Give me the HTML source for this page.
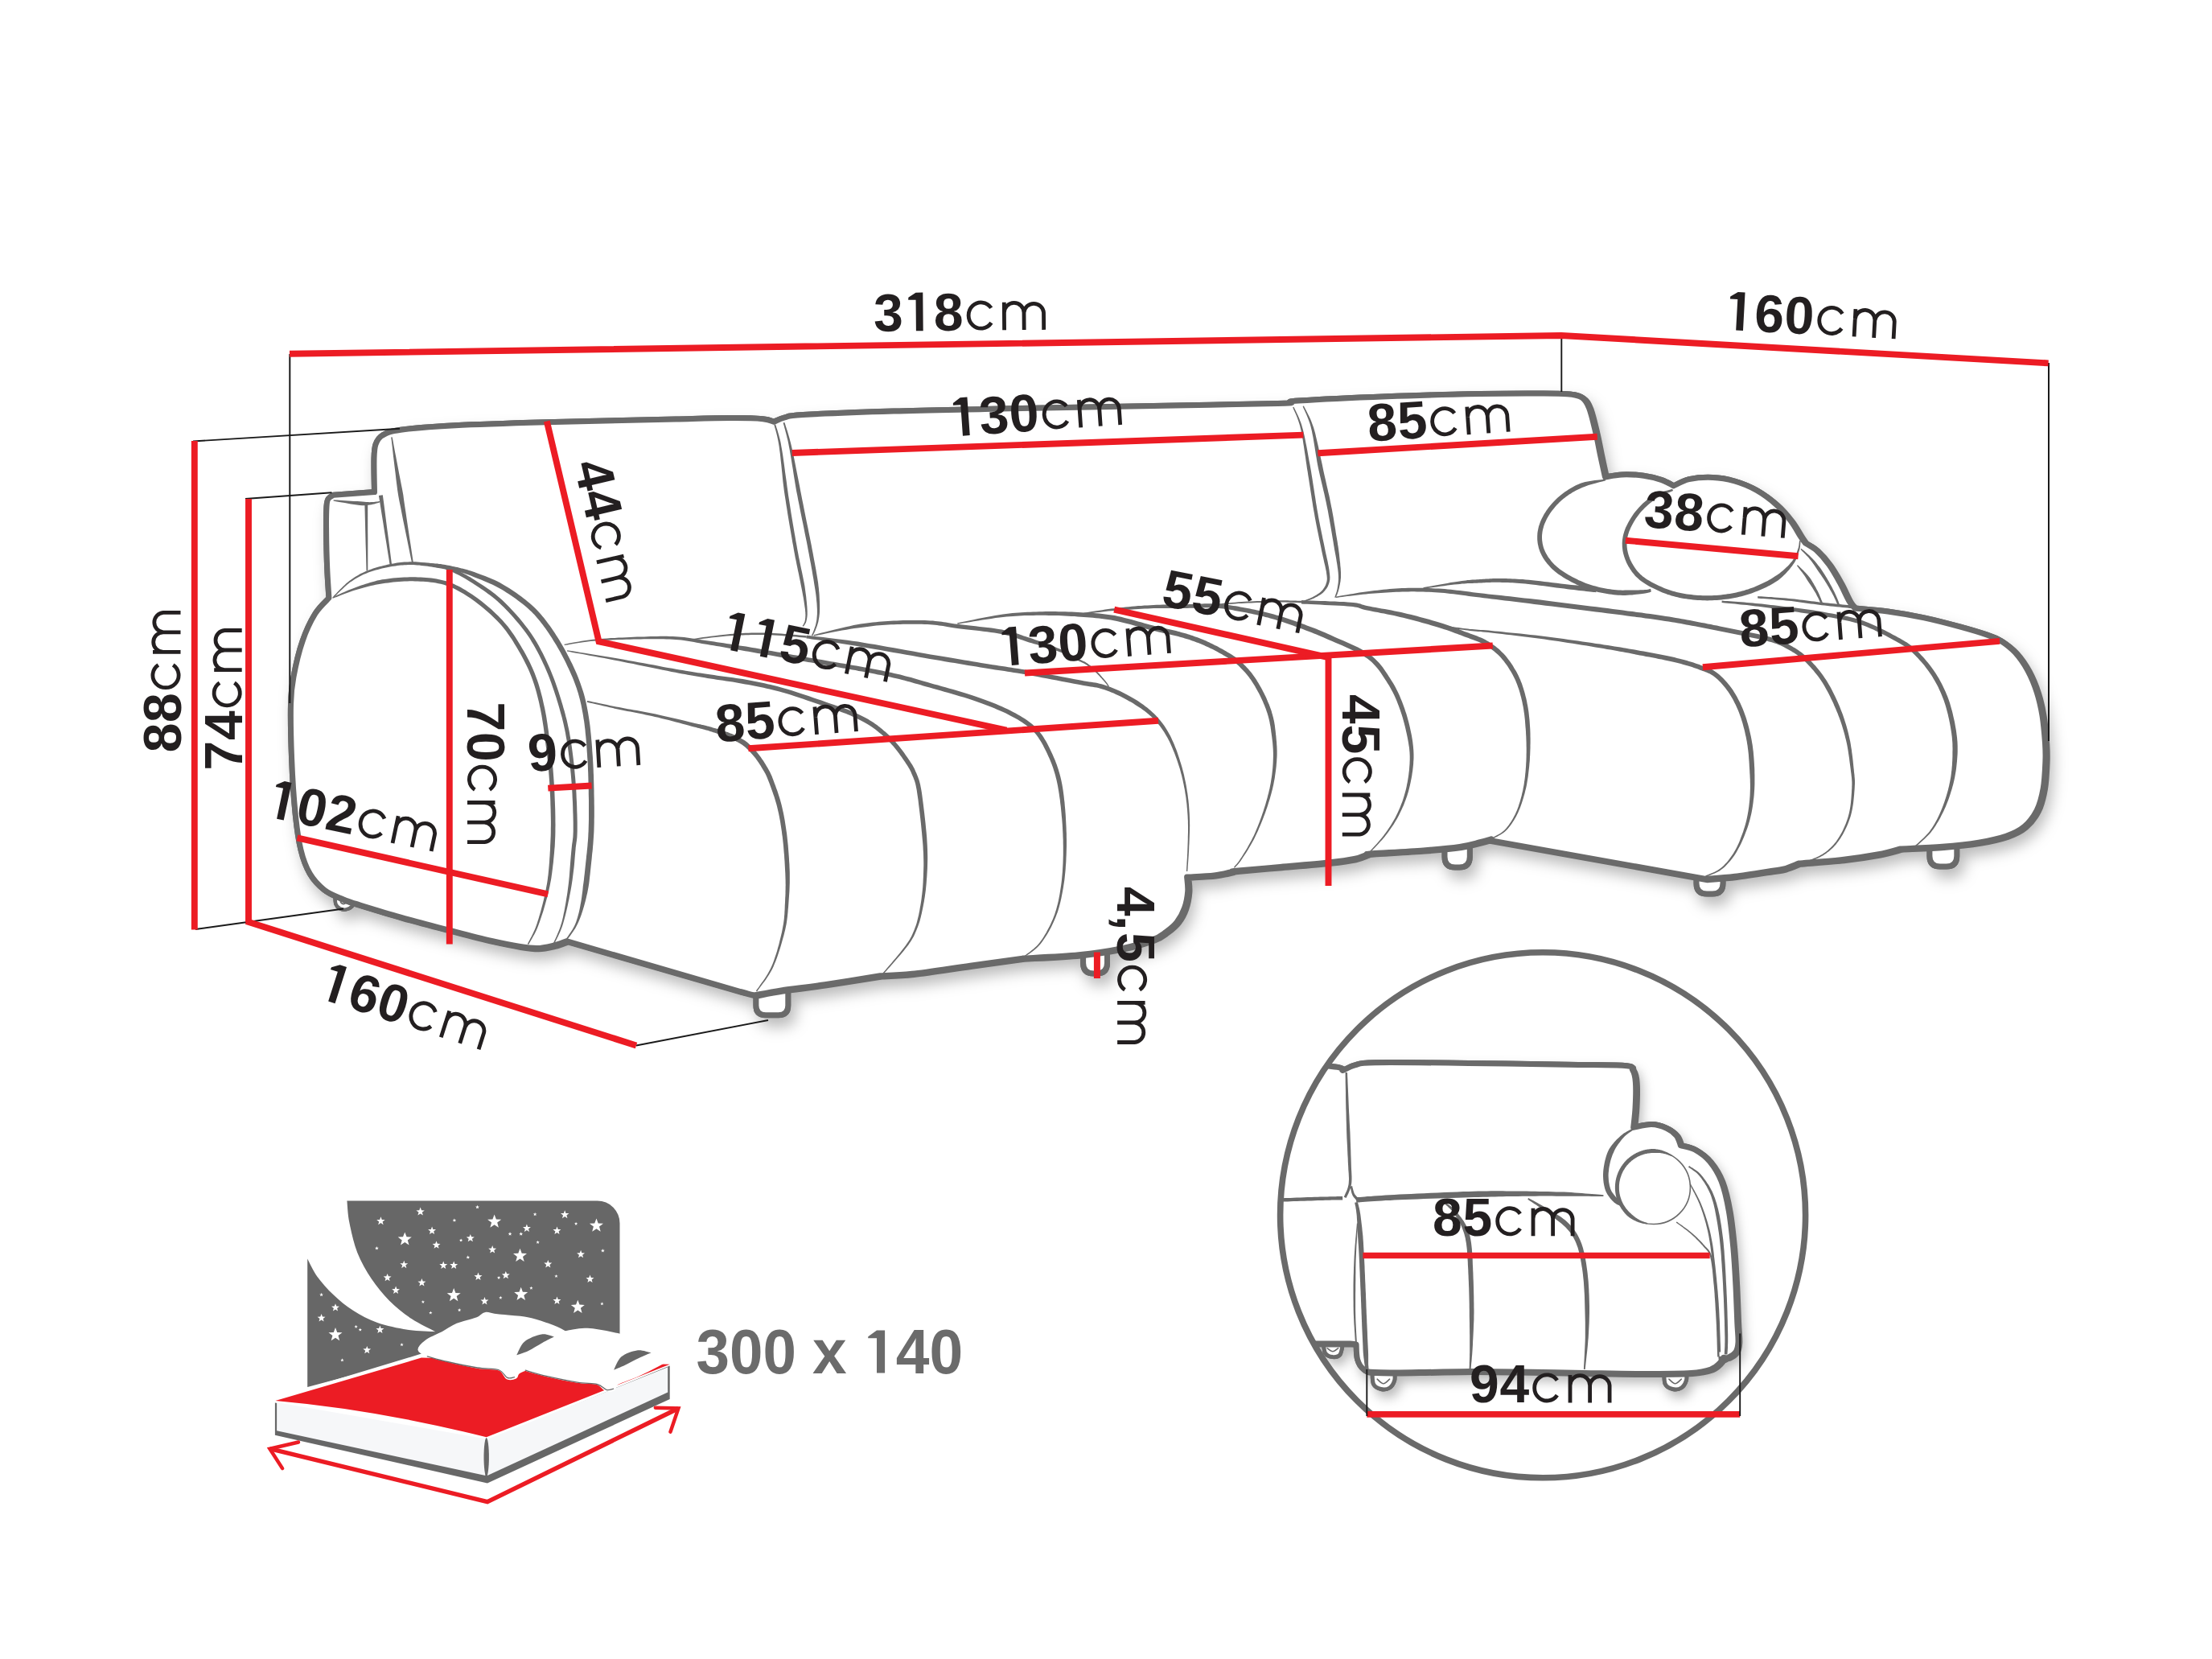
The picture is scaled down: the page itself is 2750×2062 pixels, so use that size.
<!DOCTYPE html>
<html><head><meta charset="utf-8"><title>Sofa dimensions</title>
<style>
html,body{margin:0;padding:0;background:#fff;}
body{width:2750px;height:2062px;overflow:hidden;font-family:"Liberation Sans",sans-serif;}
svg{display:block;font-family:"Liberation Sans",sans-serif;}
</style></head><body>
<svg xmlns="http://www.w3.org/2000/svg" width="2750" height="2062" viewBox="0 0 2750 2062">
<defs>
<filter id="sh" x="-5%" y="-8%" width="110%" height="118%"><feDropShadow dx="6" dy="11" stdDeviation="9" flood-color="#000" flood-opacity="0.27"/></filter>
<filter id="sh2" x="-10%" y="-10%" width="125%" height="125%"><feDropShadow dx="5" dy="8" stdDeviation="7" flood-color="#000" flood-opacity="0.27"/></filter>
<clipPath id="cc"><circle cx="1918.1" cy="1510.3" r="324"/></clipPath>
</defs>
<g filter="url(#sh)">
<path d="M408.9 743.3C408.6 737.1 407.2 719.8 406.7 706C406.1 692.3 405.7 673.6 405.6 660.8C405.4 648 405.6 636 406 629.2C406.5 622.3 406.8 622 408.3 619.7C409.7 617.4 413.5 615.9 414.6 615.2L414.6 615.2L465.5 611.6L465.5 611.6C465.4 604.7 464.7 580.3 465 570.4C465.3 560.5 465.3 557.2 467 552.3C468.8 547.4 470.4 544 475.6 541C480.8 538 483.2 536.3 498.2 534.2C513.3 532.2 535.9 530.4 566 528.8C596.2 527.2 633.4 526.1 679.1 524.8C724.7 523.4 801.9 521.8 840 520.9C878.1 520 889.7 519.6 907.8 519.6C925.9 519.5 939.5 519.9 948.5 520.7C957.5 521.5 959.8 523.7 962.1 524.3L962.1 524.3C964.3 523.4 969.6 520.3 975.6 518.9C981.7 517.4 975.6 516.8 998.2 515.5C1020.8 514.2 1073.6 512.1 1111.2 511C1148.9 509.8 1186.1 509.3 1224.3 508.5C1262.4 507.7 1298.1 507 1340 506.2C1381.9 505.4 1434.2 504.5 1475.6 503.7C1517.1 502.9 1567 502 1588.6 501.5C1610.3 501 1602.8 500.9 1605.6 500.8L1605.6 500.8C1607.1 500.3 1594.9 499.4 1614.6 498.1C1634.4 496.7 1686.7 494.1 1724.3 492.7C1761.8 491.2 1809.4 490.1 1840 489.5C1870.6 488.9 1889.7 489 1907.8 489C1925.9 489.1 1938.7 488.9 1948.5 489.7C1958.3 490.5 1962.1 491.1 1966.6 494C1971.1 496.9 1972.8 500 1975.6 507.1C1978.4 514.2 1981.2 526.7 1983.5 536.5C1985.9 546.3 1987.6 556.5 1989.6 565.9C1991.6 575.3 1994.5 588.5 1995.5 593L1995.5 593C1999 592.5 2008.3 590.2 2016.3 589.9C2024.3 589.6 2035.1 590.1 2043.4 591.2C2051.7 592.3 2059.8 594.5 2066 596.6C2072.3 598.7 2078.3 602.7 2080.7 603.9L2080.7 603.9C2083.9 602.5 2091.8 597.5 2099.9 595.7C2108 594 2119.9 593.1 2129.3 593.5C2138.7 593.8 2147.4 595.4 2156.5 598C2165.5 600.6 2174.9 604.4 2183.6 609.3C2192.2 614.2 2201.3 621 2208.4 627.4C2215.6 633.8 2221.4 641 2226.5 647.7C2231.6 654.4 2236 663.1 2239 667.6C2241.9 672.1 2243.3 673.6 2244.2 674.8L2244.2 674.8C2246.5 676.4 2253.2 679.4 2258.2 683.9C2263.1 688.4 2269.1 695.2 2274 702C2278.9 708.8 2283.4 717 2287.6 724.6C2291.7 732.1 2295.8 741.9 2298.9 747.2C2301.9 752.4 2304.8 754.5 2306 756L2306 756C2312.8 756.7 2332.6 758 2346.9 760C2361.3 762 2377.1 764.7 2392.1 767.9C2407.2 771.1 2424.2 775.6 2437.3 779.2C2450.5 782.8 2463 786.6 2471.2 789.4C2479.5 792.2 2481.4 792.6 2487.1 796.2C2492.7 799.8 2499.5 804.7 2505.2 810.9C2510.8 817.1 2516.5 825.2 2521 833.5C2525.5 841.8 2529.3 851.2 2532.3 860.6C2535.3 870 2537.4 879.5 2539.1 890C2540.8 900.5 2541.8 914.1 2542.5 923.4C2543.1 932.8 2543.3 936.6 2542.9 946C2542.5 955.5 2542 969.8 2540.2 979.9C2538.4 990.1 2536.2 999.2 2532.3 1007.1C2528.3 1015 2522.9 1022.1 2516.5 1027.4C2510.1 1032.8 2503.3 1035.9 2493.9 1039.2C2484.4 1042.4 2473.1 1044.9 2459.9 1047.1C2446.8 1049.3 2430.9 1051 2414.7 1052.3C2398.5 1053.6 2371.4 1054.5 2362.7 1055L2362.7 1055C2358.2 1056.1 2347.7 1059.5 2335.6 1061.8C2323.6 1064 2307 1066.7 2290.4 1068.6C2273.8 1070.4 2245.2 1072.3 2236.2 1073.1L2236.2 1073.1C2233.2 1074.2 2223.8 1078.3 2218.1 1079.9C2212.4 1081.4 2212.3 1081 2202.1 1082.5C2191.9 1084.1 2170.4 1087.7 2156.9 1089.3C2143.3 1091 2126.7 1092 2120.7 1092.5L2120.7 1092.5L1853.1 1044.6L1853.9 1042.8C1851.6 1043.5 1846.5 1045.1 1840 1046.7C1833.5 1048.3 1826.4 1050.7 1814.7 1052.4C1802.9 1054.1 1787.6 1055.5 1769.5 1056.9C1751.4 1058.3 1717.9 1059.9 1706.2 1060.7C1694.5 1061.6 1700.5 1061.9 1699.4 1062.1L1699.4 1062.1C1696.8 1063 1691.5 1065.9 1683.6 1067.5C1675.7 1069.2 1667.8 1070.3 1651.9 1072C1636.1 1073.7 1607.9 1076 1588.6 1077.7C1569.4 1079.4 1546.1 1081.3 1536.7 1082.2C1527.2 1083.2 1532.9 1083.2 1532.1 1083.3L1532.1 1083.3C1528.4 1084.1 1518.9 1086.7 1509.5 1087.9C1500.1 1089 1481.3 1089.7 1475.6 1090.1L1475.6 1090.1C1475.8 1093.1 1477.2 1101.5 1476.7 1107.9C1476.2 1114.3 1474.9 1122.1 1472.6 1128.5C1470.4 1134.9 1467 1141.1 1463.1 1146.1C1459.3 1151.1 1454.5 1154.7 1449.6 1158.3C1444.6 1161.9 1442.3 1164.4 1433.3 1167.8C1424.3 1171.2 1410.7 1175.5 1395.3 1178.7C1380 1181.8 1361.7 1184.7 1341.1 1186.8C1320.4 1188.9 1283 1190.4 1271.4 1191.1L1271.4 1191.1C1260.6 1192.6 1229.2 1196.9 1206.3 1200.1C1183.4 1203.3 1152.7 1208.2 1134 1210.3C1115.3 1212.4 1100.8 1212.4 1094.2 1212.8L1094.2 1212.8C1082.8 1214.6 1046 1220.6 1025.5 1223.7C1005 1226.7 985.8 1228.7 971.2 1230.9C956.7 1233.1 943.5 1236 938 1237L938 1237C936.7 1236.7 932.9 1235.8 930 1235C927.1 1234.2 922.1 1232.9 920.5 1232.5L920.5 1232.5L704.1 1169.7L704.1 1169.7C701.4 1170.6 694.2 1173.7 688.1 1175.2C682 1176.6 674.9 1178.4 667.8 1178.6C660.6 1178.7 654.6 1177.8 645.2 1176.3C635.7 1174.8 624.4 1172.5 611.2 1169.5C598.1 1166.5 584.9 1163.1 566 1158.2C547.2 1153.3 518.9 1146 498.2 1140.1C477.5 1134.3 453.8 1126.9 441.7 1123.2C429.7 1119.4 432.3 1120.3 425.9 1117.5C419.5 1114.7 410.1 1111.5 403.3 1106.2C396.5 1100.9 390.1 1094.2 385.2 1085.9C380.3 1077.5 376.9 1068.5 373.9 1056C370.9 1043.5 369 1029.7 367.1 1010.8C365.2 992 363.5 965.6 362.6 943C361.7 920.4 361.1 892.1 361.5 875.2C361.9 858.3 362.4 854.8 364.9 841.7C367.3 828.5 371.6 809.6 376.2 796.5C380.7 783.3 386.5 771.4 392 762.5C397.5 753.7 406.1 746.5 408.9 743.3Z" fill="#fff" stroke="#6a6a6a" stroke-width="7" stroke-linejoin="round"/>
<path d="M939.9 1228V1249.8Q939.9 1261.8 951.9 1261.8H967.8Q979.8 1261.8 979.8 1249.8V1228" fill="#fff" stroke="#6a6a6a" stroke-width="7" stroke-linecap="round" stroke-linejoin="round" />
<path d="M1346.6 1176V1197.1Q1346.6 1210.1 1359.6 1210.1H1363.5Q1376.5 1210.1 1376.5 1197.1V1176" fill="#fff" stroke="#6a6a6a" stroke-width="7" stroke-linecap="round" stroke-linejoin="round" />
<path d="M1796 1048V1065Q1796 1078 1809 1078H1814.3Q1827.3 1078 1827.3 1065V1048" fill="#fff" stroke="#6a6a6a" stroke-width="7" stroke-linecap="round" stroke-linejoin="round" />
<path d="M2109 1084V1098Q2109 1111 2122 1111H2129Q2142 1111 2142 1098V1084" fill="#fff" stroke="#6a6a6a" stroke-width="7" stroke-linecap="round" stroke-linejoin="round" />
<path d="M2398.9 1050V1064.1Q2398.9 1077.1 2411.9 1077.1H2419.8Q2432.8 1077.1 2432.8 1064.1V1050" fill="#fff" stroke="#6a6a6a" stroke-width="7" stroke-linecap="round" stroke-linejoin="round" />
<path d="M416.4 1113.7C416.6 1115.4 416.5 1121.3 417.5 1123.9C418.5 1126.5 420.4 1128.2 422.5 1129.3C424.7 1130.4 427.9 1130.9 430.4 1130.4C432.9 1130 436.1 1128.2 437.6 1126.6C439.2 1124.9 439.2 1121.5 439.5 1120.5" fill="#fff" stroke="#6a6a6a" stroke-width="4.5" stroke-linecap="round" stroke-linejoin="round" />
</g>
<path d="M939.9 1228V1249.8Q939.9 1261.8 951.9 1261.8H967.8Q979.8 1261.8 979.8 1249.8V1228" fill="#fff" stroke="#6a6a6a" stroke-width="7" stroke-linecap="round" stroke-linejoin="round" />
<path d="M1346.6 1176V1197.1Q1346.6 1210.1 1359.6 1210.1H1363.5Q1376.5 1210.1 1376.5 1197.1V1176" fill="#fff" stroke="#6a6a6a" stroke-width="7" stroke-linecap="round" stroke-linejoin="round" />
<path d="M1796 1048V1065Q1796 1078 1809 1078H1814.3Q1827.3 1078 1827.3 1065V1048" fill="#fff" stroke="#6a6a6a" stroke-width="7" stroke-linecap="round" stroke-linejoin="round" />
<path d="M2109 1084V1098Q2109 1111 2122 1111H2129Q2142 1111 2142 1098V1084" fill="#fff" stroke="#6a6a6a" stroke-width="7" stroke-linecap="round" stroke-linejoin="round" />
<path d="M2398.9 1050V1064.1Q2398.9 1077.1 2411.9 1077.1H2419.8Q2432.8 1077.1 2432.8 1064.1V1050" fill="#fff" stroke="#6a6a6a" stroke-width="7" stroke-linecap="round" stroke-linejoin="round" />
<path d="M416.4 1113.7C416.6 1115.4 416.5 1121.3 417.5 1123.9C418.5 1126.5 420.4 1128.2 422.5 1129.3C424.7 1130.4 427.9 1130.9 430.4 1130.4C432.9 1130 436.1 1128.2 437.6 1126.6C439.2 1124.9 439.2 1121.5 439.5 1120.5" fill="#fff" stroke="#6a6a6a" stroke-width="4.5" stroke-linecap="round" stroke-linejoin="round" />
<path d="M408.9 743.3C408.6 737.1 407.2 719.8 406.7 706C406.1 692.3 405.7 673.6 405.6 660.8C405.4 648 405.6 636 406 629.2C406.5 622.3 406.8 622 408.3 619.7C409.7 617.4 413.5 615.9 414.6 615.2L414.6 615.2L465.5 611.6L465.5 611.6C465.4 604.7 464.7 580.3 465 570.4C465.3 560.5 465.3 557.2 467 552.3C468.8 547.4 470.4 544 475.6 541C480.8 538 483.2 536.3 498.2 534.2C513.3 532.2 535.9 530.4 566 528.8C596.2 527.2 633.4 526.1 679.1 524.8C724.7 523.4 801.9 521.8 840 520.9C878.1 520 889.7 519.6 907.8 519.6C925.9 519.5 939.5 519.9 948.5 520.7C957.5 521.5 959.8 523.7 962.1 524.3L962.1 524.3C964.3 523.4 969.6 520.3 975.6 518.9C981.7 517.4 975.6 516.8 998.2 515.5C1020.8 514.2 1073.6 512.1 1111.2 511C1148.9 509.8 1186.1 509.3 1224.3 508.5C1262.4 507.7 1298.1 507 1340 506.2C1381.9 505.4 1434.2 504.5 1475.6 503.7C1517.1 502.9 1567 502 1588.6 501.5C1610.3 501 1602.8 500.9 1605.6 500.8L1605.6 500.8C1607.1 500.3 1594.9 499.4 1614.6 498.1C1634.4 496.7 1686.7 494.1 1724.3 492.7C1761.8 491.2 1809.4 490.1 1840 489.5C1870.6 488.9 1889.7 489 1907.8 489C1925.9 489.1 1938.7 488.9 1948.5 489.7C1958.3 490.5 1962.1 491.1 1966.6 494C1971.1 496.9 1972.8 500 1975.6 507.1C1978.4 514.2 1981.2 526.7 1983.5 536.5C1985.9 546.3 1987.6 556.5 1989.6 565.9C1991.6 575.3 1994.5 588.5 1995.5 593L1995.5 593C1999 592.5 2008.3 590.2 2016.3 589.9C2024.3 589.6 2035.1 590.1 2043.4 591.2C2051.7 592.3 2059.8 594.5 2066 596.6C2072.3 598.7 2078.3 602.7 2080.7 603.9L2080.7 603.9C2083.9 602.5 2091.8 597.5 2099.9 595.7C2108 594 2119.9 593.1 2129.3 593.5C2138.7 593.8 2147.4 595.4 2156.5 598C2165.5 600.6 2174.9 604.4 2183.6 609.3C2192.2 614.2 2201.3 621 2208.4 627.4C2215.6 633.8 2221.4 641 2226.5 647.7C2231.6 654.4 2236 663.1 2239 667.6C2241.9 672.1 2243.3 673.6 2244.2 674.8L2244.2 674.8C2246.5 676.4 2253.2 679.4 2258.2 683.9C2263.1 688.4 2269.1 695.2 2274 702C2278.9 708.8 2283.4 717 2287.6 724.6C2291.7 732.1 2295.8 741.9 2298.9 747.2C2301.9 752.4 2304.8 754.5 2306 756L2306 756C2312.8 756.7 2332.6 758 2346.9 760C2361.3 762 2377.1 764.7 2392.1 767.9C2407.2 771.1 2424.2 775.6 2437.3 779.2C2450.5 782.8 2463 786.6 2471.2 789.4C2479.5 792.2 2481.4 792.6 2487.1 796.2C2492.7 799.8 2499.5 804.7 2505.2 810.9C2510.8 817.1 2516.5 825.2 2521 833.5C2525.5 841.8 2529.3 851.2 2532.3 860.6C2535.3 870 2537.4 879.5 2539.1 890C2540.8 900.5 2541.8 914.1 2542.5 923.4C2543.1 932.8 2543.3 936.6 2542.9 946C2542.5 955.5 2542 969.8 2540.2 979.9C2538.4 990.1 2536.2 999.2 2532.3 1007.1C2528.3 1015 2522.9 1022.1 2516.5 1027.4C2510.1 1032.8 2503.3 1035.9 2493.9 1039.2C2484.4 1042.4 2473.1 1044.9 2459.9 1047.1C2446.8 1049.3 2430.9 1051 2414.7 1052.3C2398.5 1053.6 2371.4 1054.5 2362.7 1055L2362.7 1055C2358.2 1056.1 2347.7 1059.5 2335.6 1061.8C2323.6 1064 2307 1066.7 2290.4 1068.6C2273.8 1070.4 2245.2 1072.3 2236.2 1073.1L2236.2 1073.1C2233.2 1074.2 2223.8 1078.3 2218.1 1079.9C2212.4 1081.4 2212.3 1081 2202.1 1082.5C2191.9 1084.1 2170.4 1087.7 2156.9 1089.3C2143.3 1091 2126.7 1092 2120.7 1092.5L2120.7 1092.5L1853.1 1044.6L1853.9 1042.8C1851.6 1043.5 1846.5 1045.1 1840 1046.7C1833.5 1048.3 1826.4 1050.7 1814.7 1052.4C1802.9 1054.1 1787.6 1055.5 1769.5 1056.9C1751.4 1058.3 1717.9 1059.9 1706.2 1060.7C1694.5 1061.6 1700.5 1061.9 1699.4 1062.1L1699.4 1062.1C1696.8 1063 1691.5 1065.9 1683.6 1067.5C1675.7 1069.2 1667.8 1070.3 1651.9 1072C1636.1 1073.7 1607.9 1076 1588.6 1077.7C1569.4 1079.4 1546.1 1081.3 1536.7 1082.2C1527.2 1083.2 1532.9 1083.2 1532.1 1083.3L1532.1 1083.3C1528.4 1084.1 1518.9 1086.7 1509.5 1087.9C1500.1 1089 1481.3 1089.7 1475.6 1090.1L1475.6 1090.1C1475.8 1093.1 1477.2 1101.5 1476.7 1107.9C1476.2 1114.3 1474.9 1122.1 1472.6 1128.5C1470.4 1134.9 1467 1141.1 1463.1 1146.1C1459.3 1151.1 1454.5 1154.7 1449.6 1158.3C1444.6 1161.9 1442.3 1164.4 1433.3 1167.8C1424.3 1171.2 1410.7 1175.5 1395.3 1178.7C1380 1181.8 1361.7 1184.7 1341.1 1186.8C1320.4 1188.9 1283 1190.4 1271.4 1191.1L1271.4 1191.1C1260.6 1192.6 1229.2 1196.9 1206.3 1200.1C1183.4 1203.3 1152.7 1208.2 1134 1210.3C1115.3 1212.4 1100.8 1212.4 1094.2 1212.8L1094.2 1212.8C1082.8 1214.6 1046 1220.6 1025.5 1223.7C1005 1226.7 985.8 1228.7 971.2 1230.9C956.7 1233.1 943.5 1236 938 1237L938 1237C936.7 1236.7 932.9 1235.8 930 1235C927.1 1234.2 922.1 1232.9 920.5 1232.5L920.5 1232.5L704.1 1169.7L704.1 1169.7C701.4 1170.6 694.2 1173.7 688.1 1175.2C682 1176.6 674.9 1178.4 667.8 1178.6C660.6 1178.7 654.6 1177.8 645.2 1176.3C635.7 1174.8 624.4 1172.5 611.2 1169.5C598.1 1166.5 584.9 1163.1 566 1158.2C547.2 1153.3 518.9 1146 498.2 1140.1C477.5 1134.3 453.8 1126.9 441.7 1123.2C429.7 1119.4 432.3 1120.3 425.9 1117.5C419.5 1114.7 410.1 1111.5 403.3 1106.2C396.5 1100.9 390.1 1094.2 385.2 1085.9C380.3 1077.5 376.9 1068.5 373.9 1056C370.9 1043.5 369 1029.7 367.1 1010.8C365.2 992 363.5 965.6 362.6 943C361.7 920.4 361.1 892.1 361.5 875.2C361.9 858.3 362.4 854.8 364.9 841.7C367.3 828.5 371.6 809.6 376.2 796.5C380.7 783.3 386.5 771.4 392 762.5C397.5 753.7 406.1 746.5 408.9 743.3Z" fill="#fff" stroke="#6a6a6a" stroke-width="7" stroke-linejoin="round" transform="translate(2.2 1.2)"/>
<path d="M408.9 743.3C408.6 737.1 407.2 719.8 406.7 706C406.1 692.3 405.7 673.6 405.6 660.8C405.4 648 405.6 636 406 629.2C406.5 622.3 406.8 622 408.3 619.7C409.7 617.4 413.5 615.9 414.6 615.2L414.6 615.2L465.5 611.6L465.5 611.6C465.4 604.7 464.7 580.3 465 570.4C465.3 560.5 465.3 557.2 467 552.3C468.8 547.4 470.4 544 475.6 541C480.8 538 483.2 536.3 498.2 534.2C513.3 532.2 535.9 530.4 566 528.8C596.2 527.2 633.4 526.1 679.1 524.8C724.7 523.4 801.9 521.8 840 520.9C878.1 520 889.7 519.6 907.8 519.6C925.9 519.5 939.5 519.9 948.5 520.7C957.5 521.5 959.8 523.7 962.1 524.3L962.1 524.3C964.3 523.4 969.6 520.3 975.6 518.9C981.7 517.4 975.6 516.8 998.2 515.5C1020.8 514.2 1073.6 512.1 1111.2 511C1148.9 509.8 1186.1 509.3 1224.3 508.5C1262.4 507.7 1298.1 507 1340 506.2C1381.9 505.4 1434.2 504.5 1475.6 503.7C1517.1 502.9 1567 502 1588.6 501.5C1610.3 501 1602.8 500.9 1605.6 500.8L1605.6 500.8C1607.1 500.3 1594.9 499.4 1614.6 498.1C1634.4 496.7 1686.7 494.1 1724.3 492.7C1761.8 491.2 1809.4 490.1 1840 489.5C1870.6 488.9 1889.7 489 1907.8 489C1925.9 489.1 1938.7 488.9 1948.5 489.7C1958.3 490.5 1962.1 491.1 1966.6 494C1971.1 496.9 1972.8 500 1975.6 507.1C1978.4 514.2 1981.2 526.7 1983.5 536.5C1985.9 546.3 1987.6 556.5 1989.6 565.9C1991.6 575.3 1994.5 588.5 1995.5 593L1995.5 593C1999 592.5 2008.3 590.2 2016.3 589.9C2024.3 589.6 2035.1 590.1 2043.4 591.2C2051.7 592.3 2059.8 594.5 2066 596.6C2072.3 598.7 2078.3 602.7 2080.7 603.9L2080.7 603.9C2083.9 602.5 2091.8 597.5 2099.9 595.7C2108 594 2119.9 593.1 2129.3 593.5C2138.7 593.8 2147.4 595.4 2156.5 598C2165.5 600.6 2174.9 604.4 2183.6 609.3C2192.2 614.2 2201.3 621 2208.4 627.4C2215.6 633.8 2221.4 641 2226.5 647.7C2231.6 654.4 2236 663.1 2239 667.6C2241.9 672.1 2243.3 673.6 2244.2 674.8L2244.2 674.8C2246.5 676.4 2253.2 679.4 2258.2 683.9C2263.1 688.4 2269.1 695.2 2274 702C2278.9 708.8 2283.4 717 2287.6 724.6C2291.7 732.1 2295.8 741.9 2298.9 747.2C2301.9 752.4 2304.8 754.5 2306 756L2306 756C2312.8 756.7 2332.6 758 2346.9 760C2361.3 762 2377.1 764.7 2392.1 767.9C2407.2 771.1 2424.2 775.6 2437.3 779.2C2450.5 782.8 2463 786.6 2471.2 789.4C2479.5 792.2 2481.4 792.6 2487.1 796.2C2492.7 799.8 2499.5 804.7 2505.2 810.9C2510.8 817.1 2516.5 825.2 2521 833.5C2525.5 841.8 2529.3 851.2 2532.3 860.6C2535.3 870 2537.4 879.5 2539.1 890C2540.8 900.5 2541.8 914.1 2542.5 923.4C2543.1 932.8 2543.3 936.6 2542.9 946C2542.5 955.5 2542 969.8 2540.2 979.9C2538.4 990.1 2536.2 999.2 2532.3 1007.1C2528.3 1015 2522.9 1022.1 2516.5 1027.4C2510.1 1032.8 2503.3 1035.9 2493.9 1039.2C2484.4 1042.4 2473.1 1044.9 2459.9 1047.1C2446.8 1049.3 2430.9 1051 2414.7 1052.3C2398.5 1053.6 2371.4 1054.5 2362.7 1055L2362.7 1055C2358.2 1056.1 2347.7 1059.5 2335.6 1061.8C2323.6 1064 2307 1066.7 2290.4 1068.6C2273.8 1070.4 2245.2 1072.3 2236.2 1073.1L2236.2 1073.1C2233.2 1074.2 2223.8 1078.3 2218.1 1079.9C2212.4 1081.4 2212.3 1081 2202.1 1082.5C2191.9 1084.1 2170.4 1087.7 2156.9 1089.3C2143.3 1091 2126.7 1092 2120.7 1092.5L2120.7 1092.5L1853.1 1044.6L1853.9 1042.8C1851.6 1043.5 1846.5 1045.1 1840 1046.7C1833.5 1048.3 1826.4 1050.7 1814.7 1052.4C1802.9 1054.1 1787.6 1055.5 1769.5 1056.9C1751.4 1058.3 1717.9 1059.9 1706.2 1060.7C1694.5 1061.6 1700.5 1061.9 1699.4 1062.1L1699.4 1062.1C1696.8 1063 1691.5 1065.9 1683.6 1067.5C1675.7 1069.2 1667.8 1070.3 1651.9 1072C1636.1 1073.7 1607.9 1076 1588.6 1077.7C1569.4 1079.4 1546.1 1081.3 1536.7 1082.2C1527.2 1083.2 1532.9 1083.2 1532.1 1083.3L1532.1 1083.3C1528.4 1084.1 1518.9 1086.7 1509.5 1087.9C1500.1 1089 1481.3 1089.7 1475.6 1090.1L1475.6 1090.1C1475.8 1093.1 1477.2 1101.5 1476.7 1107.9C1476.2 1114.3 1474.9 1122.1 1472.6 1128.5C1470.4 1134.9 1467 1141.1 1463.1 1146.1C1459.3 1151.1 1454.5 1154.7 1449.6 1158.3C1444.6 1161.9 1442.3 1164.4 1433.3 1167.8C1424.3 1171.2 1410.7 1175.5 1395.3 1178.7C1380 1181.8 1361.7 1184.7 1341.1 1186.8C1320.4 1188.9 1283 1190.4 1271.4 1191.1L1271.4 1191.1C1260.6 1192.6 1229.2 1196.9 1206.3 1200.1C1183.4 1203.3 1152.7 1208.2 1134 1210.3C1115.3 1212.4 1100.8 1212.4 1094.2 1212.8L1094.2 1212.8C1082.8 1214.6 1046 1220.6 1025.5 1223.7C1005 1226.7 985.8 1228.7 971.2 1230.9C956.7 1233.1 943.5 1236 938 1237L938 1237C936.7 1236.7 932.9 1235.8 930 1235C927.1 1234.2 922.1 1232.9 920.5 1232.5L920.5 1232.5L704.1 1169.7L704.1 1169.7C701.4 1170.6 694.2 1173.7 688.1 1175.2C682 1176.6 674.9 1178.4 667.8 1178.6C660.6 1178.7 654.6 1177.8 645.2 1176.3C635.7 1174.8 624.4 1172.5 611.2 1169.5C598.1 1166.5 584.9 1163.1 566 1158.2C547.2 1153.3 518.9 1146 498.2 1140.1C477.5 1134.3 453.8 1126.9 441.7 1123.2C429.7 1119.4 432.3 1120.3 425.9 1117.5C419.5 1114.7 410.1 1111.5 403.3 1106.2C396.5 1100.9 390.1 1094.2 385.2 1085.9C380.3 1077.5 376.9 1068.5 373.9 1056C370.9 1043.5 369 1029.7 367.1 1010.8C365.2 992 363.5 965.6 362.6 943C361.7 920.4 361.1 892.1 361.5 875.2C361.9 858.3 362.4 854.8 364.9 841.7C367.3 828.5 371.6 809.6 376.2 796.5C380.7 783.3 386.5 771.4 392 762.5C397.5 753.7 406.1 746.5 408.9 743.3Z" fill="#fff" stroke="#6a6a6a" stroke-width="7" stroke-linejoin="round"/>
<circle cx="427" cy="1119.8" r="3.6" fill="none" stroke="#6a6a6a" stroke-width="2"/>
<path d="M414.5 622.6L416.4 623L418.9 623.4L421.8 623.9L425.1 624.5L428.7 625.1L432.4 625.8L436.2 626.4L440 627L443.7 627.6L447.1 628.1L450.2 628.3L453 628.2L455.4 628.1L457.6 627.8L459.8 627.5L461.7 627.2L463.6 626.8L465.2 626.4L466.8 626L468.2 625.6L469.4 625.2L470.5 624.9L471.5 624.6L472.3 624.5L472.1 623.1L471.2 623.1L470.2 623.2L469 623.4L467.8 623.6L466.3 623.7L464.8 623.9L463.2 624L461.4 624.1L459.5 624.2L457.5 624.1L455.3 624L453.1 623.8L450.5 623.5L447.5 623.3L444.1 623.1L440.4 623L436.6 622.7L432.8 622.5L429 622.2L425.4 622L422.1 621.8L419.1 621.5L416.6 621.4L414.7 621.3Z" fill="#6a6a6a"/>
<path d="M453.4 627L453.6 635.2L453.8 643.4L454 651.7L454.2 659.9L454.4 668.2L454.6 676.4L454.9 684.7L455.1 692.9L455.3 701.2L455.5 709.4L457.3 709.4L457.3 701.2L457.3 692.9L457.3 684.7L457.3 676.4L457.3 668.2L457.2 659.9L457.2 651.7L457.2 643.4L457.2 635.2L457.2 626.9Z" fill="#6a6a6a"/>
<path d="M470.9 616L472.3 624.6L473.6 633.1L475 641.7L476.4 650.3L477.7 658.8L479.1 667.4L480.5 676L481.8 684.6L483.2 693.1L484.6 701.7L487 701.3L485.9 692.7L484.8 684.1L483.7 675.5L482.6 666.9L481.4 658.3L480.3 649.7L479.2 641.1L478.1 632.5L477 623.9L475.8 615.3Z" fill="#6a6a6a"/>
<path d="M486.2 543.4L486.7 546.9L487.2 551.2L487.8 556.2L488.4 561.8L489.1 568L489.9 574.5L490.7 581.3L491.6 588.3L492.4 595.4L493.3 602.5L494.2 609.4L495.2 616.1L496.5 622.9L498 630.3L499.5 638.1L501.1 646.2L502.8 654.3L504.4 662.3L506 670.1L507.5 677.4L508.9 684.2L510.1 690.2L511.2 695.4L512 699.4L513.8 699.1L513.2 695L512.4 689.8L511.5 683.7L510.5 676.9L509.3 669.5L508.1 661.6L506.9 653.5L505.7 645.4L504.5 637.3L503.3 629.4L502.2 622L501.3 615.1L500.1 608.5L498.7 601.6L497.4 594.7L496 587.7L494.7 580.7L493.4 574L492.2 567.5L491 561.4L490 555.9L489.1 550.9L488.3 546.6L487.6 543.2Z" fill="#6a6a6a"/>
<path d="M413.7 743.8L415.1 743.3L416.8 742.6L418.7 741.9L420.9 741L423.3 740L425.9 739L428.5 738L431.3 737L434.1 736L436.8 735L439.6 734.1L442.2 733.3L444.8 732.5L447.5 731.8L450.2 731L452.9 730.2L455.6 729.5L458.4 728.7L461.3 728.1L464.1 727.4L467 726.8L470 726.2L473 725.7L476 725.3L479.1 724.8L482.4 724.4L485.7 723.9L489 723.6L492.4 723.2L495.9 723L499.3 722.7L502.8 722.5L506.2 722.4L509.6 722.3L513 722.3L516.2 722.4L519.5 722.5L522.8 722.7L526 722.8L529.3 723.1L532.5 723.3L535.6 723.7L538.8 724.1L541.9 724.6L545 725.2L548 725.8L551 726.6L554 727.5L556.9 728.5L559.7 729.6L562.5 730.8L565.3 732L568 733.4L570.7 734.9L573.5 736.4L576.2 738L578.9 739.7L581.6 741.5L584.4 743.3L587.2 745.3L590 747.3L592.9 749.4L595.8 751.7L598.7 754L601.7 756.5L604.6 759L607.5 761.5L610.3 764.1L613.1 766.7L615.7 769.2L618.2 771.8L620.6 774.3L622.9 776.8L625 779.3L627 781.8L629 784.3L630.9 786.9L632.7 789.4L634.4 792L636.2 794.6L637.9 797.3L639.5 800L641.2 802.8L642.9 805.5L644.6 808.4L646.2 811.2L647.8 814.1L649.4 817L651 819.9L652.5 822.9L654 825.9L655.5 828.9L656.9 832L658.2 835.1L659.5 838.2L660.7 841.3L661.9 844.5L663 847.7L664.1 850.9L665.1 854.2L666.1 857.5L667 860.8L667.9 864.2L668.7 867.6L669.6 871.1L670.4 874.5L671.1 878L671.9 881.6L672.6 885.2L673.3 888.8L673.9 892.5L674.5 896.2L675.1 900L675.7 903.7L676.2 907.5L676.7 911.4L677.2 915.2L677.7 919L678.1 922.8L678.6 926.6L679.1 930.3L679.5 934L680 937.6L680.4 941.1L680.8 944.7L681.2 948.3L681.5 951.9L681.9 955.6L682.2 959.4L682.5 963.4L682.8 967.4L683.1 971.6L683.3 976.1L683.6 980.7L683.8 985.5L684.1 990.5L684.3 995.5L684.4 1000.6L684.6 1005.7L684.7 1010.8L684.8 1015.8L684.9 1020.7L684.9 1025.4L684.8 1030L684.8 1034.4L684.7 1038.8L684.5 1043.1L684.3 1047.4L684.1 1051.6L684 1055.7L683.7 1059.7L683.5 1063.7L683.2 1067.5L683 1071.3L682.7 1074.9L682.4 1078.4L682.1 1081.7L681.8 1084.8L681.5 1087.8L681.1 1090.6L680.8 1093.3L680.4 1095.9L680 1098.5L679.5 1101.1L679 1103.7L678.5 1106.4L677.9 1109.2L677.3 1112.1L676.6 1115.2L675.9 1118.5L675.1 1121.8L674.2 1125.2L673.3 1128.6L672.4 1132.1L671.4 1135.5L670.4 1138.8L669.5 1142L668.5 1145L667.6 1147.9L666.7 1150.6L665.8 1153.1L664.8 1155.5L663.7 1157.8L662.7 1160.1L661.6 1162.2L660.6 1164.2L659.6 1166.1L658.6 1167.9L657.8 1169.5L657 1170.9L656.3 1172.2L655.8 1173.2L657.1 1173.9L657.7 1172.9L658.4 1171.7L659.2 1170.3L660.1 1168.7L661.1 1167L662.2 1165.1L663.3 1163.1L664.5 1161L665.6 1158.7L666.7 1156.4L667.8 1153.9L668.8 1151.4L669.8 1148.7L670.9 1145.8L671.9 1142.8L673 1139.6L674.1 1136.3L675.2 1132.9L676.2 1129.5L677.2 1126L678.2 1122.6L679.1 1119.3L680 1116.1L680.8 1113L681.5 1110L682.2 1107.2L682.8 1104.5L683.4 1101.8L683.9 1099.2L684.4 1096.6L684.9 1093.9L685.4 1091.2L685.8 1088.3L686.2 1085.4L686.6 1082.2L687 1078.9L687.4 1075.4L687.9 1071.7L688.2 1068L688.6 1064.1L689 1060.1L689.3 1056L689.7 1051.9L689.9 1047.6L690.1 1043.3L690.3 1038.9L690.4 1034.5L690.4 1030L690.5 1025.4L690.4 1020.6L690.4 1015.7L690.3 1010.7L690.2 1005.6L690 1000.4L689.8 995.3L689.6 990.2L689.4 985.3L689.1 980.4L688.9 975.7L688.6 971.3L688.3 967L688 962.9L687.7 959L687.4 955.1L687 951.4L686.6 947.7L686.2 944.1L685.8 940.5L685.4 936.9L684.9 933.3L684.5 929.6L684 925.9L683.6 922.1L683.1 918.3L682.6 914.5L682.1 910.7L681.6 906.8L681 903L680.5 899.2L679.9 895.4L679.3 891.6L678.6 887.8L677.9 884.1L677.2 880.5L676.4 876.9L675.6 873.4L674.8 869.8L674 866.3L673.1 862.9L672.2 859.4L671.2 856L670.2 852.6L669.2 849.3L668.1 846L666.9 842.7L665.7 839.4L664.5 836.2L663.1 833L661.7 829.8L660.3 826.7L658.8 823.6L657.3 820.5L655.7 817.5L654.1 814.5L652.5 811.5L650.8 808.6L649.1 805.7L647.4 802.8L645.7 800L644 797.2L642.3 794.5L640.6 791.8L638.8 789.1L637 786.4L635.1 783.8L633.2 781.2L631.2 778.6L629 776L626.8 773.4L624.5 770.8L622 768.2L619.4 765.5L616.7 762.9L613.8 760.2L611 757.6L608 755L605 752.5L602 750L599 747.6L596 745.3L593 743.1L590.1 741L587.3 739.1L584.5 737.2L581.7 735.4L578.8 733.6L576 731.9L573.2 730.3L570.4 728.8L567.5 727.4L564.6 726.1L561.6 724.8L558.6 723.7L555.5 722.6L552.4 721.7L549.2 720.9L546 720.2L542.8 719.6L539.5 719.1L536.2 718.6L533 718.3L529.7 718L526.3 717.8L523 717.6L519.7 717.5L516.4 717.3L513 717.3L509.6 717.3L506.1 717.4L502.5 717.5L499 717.7L495.5 717.9L492 718.2L488.5 718.6L485.1 719L481.7 719.4L478.4 719.9L475.2 720.3L472.1 721L469 721.6L466 722.4L463.1 723.2L460.2 724L457.3 724.9L454.6 725.8L451.8 726.7L449.1 727.6L446.4 728.5L443.8 729.5L441.2 730.4L438.6 731.4L435.9 732.4L433.1 733.6L430.4 734.7L427.7 735.9L425.1 737.1L422.6 738.2L420.2 739.3L418.1 740.3L416.2 741.2L414.5 741.9L413.2 742.5Z" fill="#6a6a6a"/>
<path d="M415.1 742.5L416.1 741.6L417.3 740.4L418.7 738.9L420.3 737.3L422.1 735.6L423.9 733.8L425.9 731.9L427.9 730.1L429.8 728.3L431.8 726.6L433.7 725L435.5 723.6L437.3 722.4L439.1 721.2L440.9 720L442.6 719L444.4 717.9L446.2 716.9L448.1 716L450 715L451.9 714.1L453.9 713.3L455.9 712.4L458 711.6L460.2 710.8L462.5 710L464.9 709.3L467.3 708.6L469.8 707.9L472.3 707.2L474.9 706.6L477.4 706L479.9 705.5L482.4 705L484.8 704.5L487.2 704.1L489.5 703.7L491.8 703.4L494 703.1L496.3 702.8L498.5 702.6L500.6 702.4L502.8 702.3L505 702.2L507.2 702.1L509.5 702.1L511.7 702.1L514 702.1L516.4 702.2L518.8 702.4L521.3 702.6L523.9 702.9L526.5 703.2L529.1 703.5L531.6 703.8L534.1 704.2L536.5 704.6L538.8 705L541 705.3L543.1 705.7L545 706L546.7 706.3L548.2 706.5L549.6 706.8L550.9 707L552.2 707.3L553.4 707.6L554.6 707.9L555.9 708.3L557.4 708.8L558.9 709.4L560.7 710.2L562.5 711L564.5 711.9L566.5 712.9L568.6 713.9L570.8 715L573 716.2L575.3 717.5L577.6 718.8L580 720.2L582.4 721.7L584.8 723.2L587.3 724.8L589.9 726.5L592.6 728.3L595.3 730.1L598.1 731.9L600.9 733.8L603.7 735.8L606.6 737.9L609.5 740L612.4 742.2L615.2 744.5L618.1 747L620.8 749.5L623.7 752.2L626.6 755L629.5 758L632.4 761.1L635.4 764.3L638.3 767.6L641.2 770.9L644.1 774.2L646.8 777.6L649.5 780.9L652 784.3L654.4 787.6L656.7 790.8L658.9 794.1L660.9 797.4L662.9 800.7L664.8 804L666.7 807.4L668.5 810.7L670.2 814.1L671.9 817.5L673.6 820.9L675.2 824.4L676.8 827.8L678.3 831.3L679.8 834.8L681.3 838.3L682.7 841.8L684 845.3L685.3 848.8L686.6 852.4L687.8 856L689 859.6L690.2 863.2L691.4 866.8L692.5 870.5L693.6 874.1L694.7 877.7L695.7 881.3L696.7 884.9L697.7 888.5L698.7 892.1L699.6 895.8L700.5 899.5L701.3 903.3L702.2 907.2L703 911.2L703.7 915.4L704.5 919.7L705.2 924.1L705.8 928.6L706.5 933.2L707.1 937.9L707.7 942.7L708.2 947.5L708.7 952.3L709.2 957.2L709.7 962L710.1 966.8L710.5 971.6L710.8 976.5L711.2 981.6L711.5 986.8L711.7 992.1L712 997.5L712.2 1002.7L712.3 1007.9L712.5 1012.9L712.6 1017.7L712.7 1022.1L712.7 1026.3L712.7 1030L712.7 1033.2L712.6 1035.9L712.5 1038.2L712.4 1040.2L712.2 1041.9L712 1043.5L711.8 1045.1L711.6 1046.8L711.3 1048.6L711 1050.7L710.8 1053L710.5 1055.8L710.2 1058.9L709.9 1062.3L709.6 1065.8L709.3 1069.5L709 1073.3L708.7 1077.2L708.4 1081.2L708.1 1085.2L707.8 1089.3L707.4 1093.2L707 1097.1L706.5 1101L706 1104.8L705.5 1108.7L704.9 1112.7L704.2 1116.7L703.6 1120.7L702.9 1124.7L702.2 1128.6L701.5 1132.4L700.7 1136.1L700 1139.7L699.2 1143L698.4 1146.2L697.5 1149.1L696.6 1152L695.6 1154.8L694.5 1157.5L693.4 1160L692.4 1162.5L691.4 1164.8L690.4 1166.9L689.5 1168.8L688.7 1170.5L688 1172L687.4 1173.3L688.8 1173.9L689.4 1172.6L690.1 1171.2L690.9 1169.5L691.9 1167.6L692.9 1165.5L694 1163.2L695.1 1160.8L696.3 1158.2L697.4 1155.5L698.5 1152.7L699.5 1149.8L700.4 1146.7L701.3 1143.6L702.2 1140.2L703.1 1136.7L704 1133L704.9 1129.2L705.8 1125.3L706.6 1121.3L707.5 1117.3L708.2 1113.3L709 1109.3L709.7 1105.4L710.4 1101.5L711 1097.7L711.6 1093.7L712.1 1089.7L712.6 1085.7L713.1 1081.7L713.6 1077.7L714 1073.7L714.3 1069.9L714.6 1066.2L714.9 1062.7L715.2 1059.4L715.5 1056.3L715.7 1053.6L716 1051.3L716.3 1049.3L716.5 1047.5L716.8 1045.8L717 1044.2L717.2 1042.4L717.4 1040.6L717.5 1038.5L717.6 1036.1L717.7 1033.3L717.7 1030L717.7 1026.2L717.7 1022.1L717.6 1017.6L717.5 1012.8L717.3 1007.7L717.2 1002.5L717 997.2L716.7 991.9L716.5 986.6L716.2 981.3L715.8 976.2L715.5 971.3L715.1 966.4L714.6 961.6L714.2 956.7L713.7 951.8L713.2 946.9L712.6 942.1L712 937.3L711.4 932.5L710.8 927.9L710.1 923.3L709.4 918.8L708.6 914.5L707.9 910.3L707.1 906.2L706.2 902.3L705.4 898.4L704.5 894.6L703.5 890.9L702.6 887.2L701.6 883.6L700.5 879.9L699.5 876.3L698.4 872.7L697.3 869L696.1 865.3L695 861.7L693.8 858L692.6 854.4L691.3 850.7L690 847.1L688.7 843.5L687.3 839.9L685.9 836.4L684.4 832.8L682.9 829.3L681.3 825.8L679.7 822.3L678.1 818.8L676.4 815.3L674.7 811.8L672.9 808.4L671.1 805L669.2 801.6L667.2 798.1L665.2 794.8L663.1 791.4L660.8 788L658.5 784.7L656 781.3L653.4 777.9L650.7 774.5L647.9 771L645 767.6L642.1 764.2L639.1 760.9L636.1 757.7L633.1 754.5L630.1 751.5L627.1 748.6L624.3 745.8L621.4 743.2L618.4 740.7L615.5 738.3L612.5 736L609.6 733.8L606.6 731.7L603.7 729.7L600.8 727.8L598 725.9L595.2 724.2L592.5 722.4L589.9 720.8L587.4 719.2L584.9 717.6L582.4 716.2L579.9 714.8L577.5 713.4L575.2 712.2L572.9 711L570.7 709.9L568.5 708.8L566.4 707.8L564.3 706.9L562.4 706.1L560.5 705.3L558.9 704.7L557.3 704.2L555.9 703.7L554.4 703.4L553.1 703L551.7 702.8L550.3 702.5L548.9 702.3L547.3 702.1L545.6 701.8L543.8 701.5L541.7 701.2L539.5 700.8L537.1 700.5L534.7 700.1L532.2 699.8L529.6 699.5L526.9 699.2L524.3 698.9L521.7 698.7L519.1 698.5L516.5 698.3L514.1 698.3L511.7 698.3L509.4 698.3L507.1 698.4L504.8 698.5L502.6 698.6L500.3 698.8L498.1 699.1L495.8 699.3L493.6 699.6L491.3 700L489 700.4L486.6 700.8L484.2 701.3L481.8 701.8L479.2 702.4L476.7 703L474.1 703.7L471.6 704.3L469 705.1L466.5 705.8L464 706.6L461.6 707.4L459.3 708.3L457.1 709.2L454.9 710L452.8 711L450.8 711.9L448.9 712.8L447 713.8L445.1 714.9L443.3 715.9L441.5 717L439.7 718.2L437.9 719.4L436.1 720.7L434.3 722L432.5 723.5L430.5 725.1L428.6 726.9L426.6 728.8L424.7 730.7L422.8 732.6L420.9 734.5L419.2 736.2L417.7 737.9L416.3 739.3L415.1 740.6L414.1 741.5Z" fill="#6a6a6a"/>
<path d="M514 701.5L515.4 701.6L517.2 701.7L519.4 701.9L521.8 702.1L524.5 702.3L527.2 702.6L530.1 702.8L532.9 703.1L535.7 703.4L538.4 703.7L540.9 704L543.2 704.3L545.3 704.7L547.3 705L549.2 705.4L551.1 705.7L552.9 706.1L554.7 706.5L556.5 706.9L558.3 707.4L560 707.8L561.8 708.3L563.6 708.8L565.5 709.3L567.3 709.8L569.1 710.3L570.8 710.7L572.5 711.2L574.2 711.7L575.9 712.2L577.7 712.8L579.5 713.4L581.3 714L583.3 714.7L585.4 715.5L587.6 716.4L590 717.4L592.6 718.4L595.2 719.5L598 720.6L600.8 721.8L603.7 722.9L606.6 724.2L609.5 725.5L612.5 726.8L615.4 728.2L618.2 729.7L621 731.2L623.8 732.8L626.7 734.6L629.6 736.4L632.5 738.3L635.5 740.3L638.4 742.3L641.3 744.3L644.1 746.4L646.8 748.5L649.5 750.5L652 752.6L654.4 754.6L656.6 756.6L658.7 758.5L660.7 760.3L662.6 762.2L664.4 764.1L666.1 766L667.8 767.9L669.5 769.9L671.2 772L672.9 774.2L674.7 776.5L676.5 779L678.4 781.5L680.3 784.2L682.2 787L684.1 789.9L686 792.8L687.9 795.9L689.8 798.9L691.7 802.1L693.5 805.2L695.4 808.4L697.1 811.6L698.8 814.7L700.5 817.9L702.2 821.2L703.8 824.6L705.4 827.9L707 831.3L708.6 834.8L710.1 838.2L711.6 841.6L713 845L714.3 848.4L715.5 851.7L716.7 855L717.7 858.2L718.7 861.3L719.6 864.4L720.4 867.5L721.2 870.5L721.9 873.6L722.6 876.6L723.2 879.8L723.8 882.9L724.4 886.1L725 889.5L725.5 892.9L726.1 896.3L726.6 899.9L727 903.6L727.5 907.3L727.8 911L728.2 914.8L728.6 918.7L728.9 922.5L729.2 926.3L729.5 930.2L729.7 934L730 937.8L730.2 941.5L730.5 945.3L730.7 949L730.9 952.7L731 956.4L731.2 960.2L731.3 963.9L731.4 967.6L731.5 971.4L731.6 975.2L731.7 979L731.8 982.8L731.8 986.7L731.9 990.7L732 994.7L732 998.8L732 1002.8L732 1006.9L732 1010.9L732 1014.9L732 1018.8L731.9 1022.6L731.8 1026.3L731.7 1029.9L731.6 1033.3L731.4 1036.5L731.3 1039.6L731.1 1042.7L730.9 1045.6L730.6 1048.5L730.4 1051.4L730.1 1054.4L729.8 1057.3L729.5 1060.4L729.1 1063.6L728.8 1067L728.4 1070.5L728 1074.2L727.6 1078L727.2 1081.9L726.8 1085.8L726.3 1089.8L725.9 1093.7L725.4 1097.6L724.8 1101.4L724.5 1105.1L724.1 1108.6L723.6 1112L723.2 1115.3L722.7 1118.5L722.2 1121.6L721.6 1124.6L721.1 1127.6L720.5 1130.4L719.9 1133.2L719.2 1135.9L718.5 1138.6L717.8 1141.1L717 1143.6L716.2 1145.9L715.3 1148.2L714.3 1150.5L713.1 1152.7L711.9 1154.9L710.6 1157L709.3 1159L708 1160.8L706.9 1162.6L705.7 1164.2L704.7 1165.6L703.9 1166.9L703.2 1167.9L704.6 1168.8L705.3 1167.8L706.2 1166.6L707.2 1165.2L708.4 1163.7L709.6 1162L711 1160.1L712.4 1158.1L713.7 1156L715.1 1153.9L716.4 1151.6L717.6 1149.3L718.7 1147L719.8 1144.6L720.8 1142.1L721.8 1139.6L722.7 1137L723.6 1134.3L724.5 1131.5L725.4 1128.6L726.2 1125.7L727.1 1122.6L727.9 1119.5L728.7 1116.3L729.4 1113.1L730.2 1109.7L730.9 1106.1L731.6 1102.3L732.2 1098.5L732.7 1094.5L733.1 1090.6L733.6 1086.6L734 1082.6L734.4 1078.7L734.8 1074.9L735.2 1071.2L735.6 1067.7L735.9 1064.3L736.2 1061.1L736.6 1058L736.9 1055L737.1 1052L737.4 1049.1L737.6 1046.1L737.8 1043.1L738 1040.1L738.2 1036.9L738.4 1033.6L738.5 1030.1L738.6 1026.5L738.7 1022.7L738.7 1018.9L738.8 1014.9L738.8 1010.9L738.8 1006.9L738.8 1002.8L738.7 998.7L738.7 994.6L738.6 990.6L738.5 986.6L738.5 982.7L738.4 978.8L738.3 975L738.2 971.2L738.1 967.4L738 963.7L737.8 959.9L737.7 956.1L737.5 952.4L737.3 948.6L737.1 944.9L736.9 941.1L736.6 937.3L736.3 933.5L736.1 929.7L735.8 925.8L735.5 922L735.1 918.1L734.8 914.2L734.4 910.4L734 906.5L733.6 902.8L733.1 899.1L732.6 895.4L732 891.8L731.5 888.4L730.9 885L730.3 881.7L729.7 878.5L729 875.3L728.3 872.1L727.6 869L726.8 865.8L725.9 862.6L725 859.4L723.9 856.2L722.8 852.9L721.6 849.5L720.3 846L719 842.6L717.6 839.1L716.1 835.6L714.5 832.1L712.9 828.6L711.3 825.1L709.6 821.7L707.9 818.3L706.2 815L704.5 811.7L702.8 808.5L701 805.2L699.1 802L697.2 798.8L695.3 795.6L693.4 792.5L691.4 789.4L689.4 786.3L687.5 783.4L685.5 780.6L683.6 777.8L681.6 775.2L679.8 772.7L677.9 770.3L676.2 768L674.4 765.9L672.6 763.8L670.8 761.7L669 759.7L667.1 757.8L665.1 755.8L663 753.8L660.8 751.8L658.5 749.8L656 747.7L653.4 745.6L650.7 743.5L647.9 741.3L645 739.2L642 737.1L639 735L636 733L633 731.1L630 729.2L627 727.4L624.1 725.7L621.2 724.1L618.2 722.6L615.1 721.1L612.1 719.7L609.1 718.4L606.1 717.2L603.1 716L600.2 714.9L597.4 713.9L594.7 712.9L592.1 712L589.6 711.1L587.3 710.3L585.1 709.6L583.1 708.9L581.1 708.3L579.2 707.8L577.3 707.3L575.6 706.8L573.8 706.4L572 706L570.3 705.5L568.5 705.1L566.6 704.7L564.7 704.3L562.9 703.9L561.1 703.5L559.2 703.1L557.4 702.7L555.6 702.4L553.7 702L551.8 701.7L549.9 701.4L547.9 701.1L545.8 700.9L543.7 700.6L541.3 700.4L538.8 700.2L536 700L533.2 699.8L530.3 699.7L527.4 699.5L524.6 699.4L522 699.3L519.6 699.2L517.4 699.1L515.6 699L514.1 699Z" fill="#6a6a6a"/>
<path d="M729.7 872.7L731.6 873.2L733.9 873.7L736.7 874.3L739.7 875L743.1 875.8L746.6 876.6L750.3 877.5L754.2 878.3L758 879.2L761.8 880.1L765.6 880.9L769.2 881.7L772.8 882.4L776.4 883.2L780 883.9L783.7 884.6L787.5 885.3L791.2 886.1L795 886.8L798.9 887.6L802.7 888.4L806.6 889.2L810.4 890L814.3 890.9L818.3 891.8L822.5 892.9L826.9 893.9L831.4 895.1L835.9 896.2L840.3 897.4L844.6 898.6L848.8 899.7L852.8 900.8L856.5 901.8L859.8 902.7L862.7 903.5L865.2 904.1L867.3 904.7L869 905.1L870.4 905.4L871.6 905.7L872.7 906L873.6 906.2L874.5 906.4L875.5 906.7L876.5 907L877.8 907.4L879.3 907.8L881 908.3L882.8 908.9L884.8 909.5L886.7 910.2L888.8 910.8L890.8 911.5L892.9 912.2L894.9 912.9L896.9 913.6L898.9 914.3L900.7 915L902.4 915.7L904.1 916.4L905.7 917.1L907.3 917.8L908.9 918.5L910.4 919.2L911.9 919.9L913.3 920.5L914.7 921.2L916 921.9L917.3 922.5L918.4 923.2L919.6 923.8L920.6 924.4L921.5 924.9L922.3 925.4L923 925.9L923.7 926.4L924.3 926.9L925 927.4L925.6 927.9L926.2 928.4L926.9 929L927.6 929.7L928.4 930.4L929.2 931.2L930 932L930.9 932.9L931.8 933.8L932.6 934.7L933.5 935.7L934.4 936.7L935.3 937.7L936.2 938.7L937 939.7L937.9 940.7L938.7 941.8L939.5 942.8L940.3 943.9L941.1 945L941.9 946.2L942.7 947.3L943.5 948.5L944.3 949.7L945 950.8L945.8 952L946.5 953.2L947.2 954.4L947.9 955.5L948.6 956.7L949.2 957.7L949.7 958.6L950.3 959.5L950.8 960.4L951.3 961.3L951.8 962.2L952.3 963.3L952.8 964.4L953.4 965.8L954.1 967.4L954.8 969.2L955.6 971.3L956.5 973.6L957.4 976L958.4 978.7L959.4 981.4L960.4 984.3L961.4 987.2L962.5 990.2L963.4 993.2L964.3 996.3L965.2 999.3L966 1002.2L966.7 1005.2L967.4 1008.2L968.1 1011.2L968.7 1014.3L969.3 1017.4L969.9 1020.5L970.4 1023.7L970.9 1026.9L971.4 1030.2L971.9 1033.5L972.3 1036.9L972.8 1040.3L973.2 1043.8L973.6 1047.5L974 1051.3L974.3 1055.2L974.6 1059.1L975 1063L975.2 1067L975.5 1070.8L975.7 1074.6L975.9 1078.3L976.1 1081.9L976.3 1085.2L976.4 1088.4L976.5 1091.5L976.6 1094.4L976.6 1097.2L976.7 1099.9L976.6 1102.6L976.6 1105.3L976.5 1107.9L976.5 1110.6L976.4 1113.3L976.2 1116.1L976.1 1118.9L976 1121.8L975.8 1124.7L975.7 1127.5L975.6 1130.4L975.4 1133.2L975.3 1136.1L975 1139L974.8 1142L974.4 1145L974 1148.1L973.4 1151.3L972.8 1154.6L972.1 1158.2L971.2 1161.9L970.3 1165.8L969.3 1169.8L968.3 1173.9L967.1 1178.1L966 1182.2L964.7 1186.2L963.4 1190.1L962.1 1193.9L960.8 1197.5L959.4 1200.8L957.9 1204L956.3 1207.1L954.5 1210.2L952.7 1213.3L950.8 1216.2L948.9 1219L947 1221.6L945.2 1224.1L943.6 1226.4L942.1 1228.4L940.9 1230.1L939.9 1231.6L941.1 1232.4L942.1 1230.9L943.3 1229.2L944.8 1227.3L946.5 1225L948.3 1222.6L950.3 1220L952.3 1217.2L954.2 1214.3L956.2 1211.2L958.1 1208.1L959.8 1204.9L961.4 1201.7L962.8 1198.3L964.3 1194.7L965.7 1190.9L967.1 1187L968.4 1182.9L969.8 1178.8L971 1174.7L972.2 1170.6L973.3 1166.6L974.4 1162.7L975.3 1158.9L976.2 1155.4L976.9 1152L977.6 1148.7L978.1 1145.5L978.5 1142.4L978.9 1139.4L979.2 1136.4L979.5 1133.5L979.7 1130.6L980 1127.8L980.2 1124.9L980.4 1122.1L980.6 1119.2L980.8 1116.3L981 1113.6L981.2 1110.8L981.4 1108.1L981.5 1105.4L981.6 1102.7L981.7 1100L981.8 1097.2L981.8 1094.4L981.8 1091.4L981.8 1088.3L981.8 1085.1L981.7 1081.6L981.5 1078.1L981.4 1074.3L981.1 1070.5L980.9 1066.6L980.6 1062.6L980.3 1058.6L980 1054.7L979.7 1050.8L979.3 1046.9L978.9 1043.2L978.5 1039.6L978.1 1036.1L977.6 1032.7L977.1 1029.3L976.6 1026L976.1 1022.7L975.6 1019.5L975 1016.3L974.4 1013.1L973.8 1010L973.1 1006.9L972.4 1003.8L971.7 1000.8L970.9 997.7L970 994.6L969.1 991.5L968.1 988.4L967.1 985.3L966.1 982.3L965 979.4L964 976.6L963 973.9L962.1 971.4L961.2 969.1L960.4 967L959.7 965.1L959 963.5L958.3 962L957.7 960.7L957.2 959.5L956.6 958.4L956 957.4L955.5 956.5L954.9 955.5L954.4 954.6L953.8 953.6L953.1 952.5L952.4 951.3L951.7 950L950.9 948.8L950.1 947.6L949.4 946.3L948.6 945.1L947.7 943.9L946.9 942.7L946.1 941.5L945.2 940.3L944.4 939.2L943.5 938L942.6 936.9L941.8 935.8L940.8 934.7L939.9 933.6L939 932.6L938.1 931.5L937.1 930.5L936.2 929.5L935.3 928.6L934.4 927.7L933.5 926.8L932.6 926L931.8 925.2L931 924.5L930.3 923.8L929.6 923.2L928.9 922.6L928.1 922L927.4 921.4L926.6 920.8L925.7 920.2L924.8 919.7L923.7 919L922.6 918.4L921.4 917.7L920.2 917L918.8 916.3L917.5 915.6L916 914.9L914.5 914.2L913 913.5L911.4 912.8L909.7 912.1L908 911.4L906.3 910.8L904.6 910.1L902.7 909.4L900.8 908.8L898.8 908.1L896.8 907.5L894.7 906.8L892.5 906.2L890.4 905.5L888.3 904.9L886.3 904.4L884.4 903.8L882.5 903.3L880.7 902.8L879.2 902.4L877.9 902L876.7 901.7L875.7 901.5L874.7 901.3L873.8 901.1L872.7 900.9L871.5 900.6L870.1 900.3L868.4 899.9L866.3 899.5L863.9 898.9L860.9 898.2L857.6 897.4L853.8 896.6L849.9 895.6L845.6 894.6L841.3 893.6L836.8 892.5L832.3 891.5L827.8 890.4L823.4 889.4L819.1 888.4L815.1 887.6L811.1 886.7L807.2 886L803.3 885.2L799.4 884.5L795.6 883.8L791.8 883.1L788 882.5L784.3 881.8L780.6 881.2L776.9 880.5L773.3 879.8L769.7 879.1L766.1 878.4L762.4 877.7L758.5 876.9L754.7 876.1L750.8 875.3L747.1 874.5L743.5 873.7L740.2 873L737.1 872.4L734.4 871.8L732 871.3L730.1 870.9Z" fill="#6a6a6a"/>
<path d="M704.9 809.6L708 810.1L711.9 810.9L716.3 811.7L721.4 812.6L726.9 813.6L732.7 814.7L738.8 815.8L745 817L751.2 818.1L757.4 819.3L763.5 820.4L769.2 821.6L775 822.7L780.9 823.9L787.1 825.1L793.3 826.4L799.6 827.7L805.9 829L812.1 830.3L818.2 831.5L824 832.7L829.6 833.8L834.8 834.9L839.6 835.8L844 836.7L848 837.4L851.6 838.1L855 838.7L858.1 839.3L861.1 839.8L864 840.3L866.9 840.8L869.9 841.3L872.9 841.8L876.1 842.3L879.6 842.9L883.3 843.5L887.1 844.1L890.9 844.7L894.8 845.3L898.7 845.8L902.7 846.4L906.7 847L910.7 847.6L914.7 848.3L918.6 849L922.6 849.7L926.5 850.4L930.4 851.1L934.2 851.8L937.9 852.5L941.7 853.3L945.4 854L949.2 854.8L953 855.7L956.8 856.5L960.7 857.5L964.8 858.5L968.9 859.6L973.2 860.8L977.8 862.1L982.7 863.6L987.8 865.3L993.2 867L998.6 868.8L1004 870.7L1009.3 872.5L1014.5 874.3L1019.4 876L1024 877.6L1028.2 879L1031.9 880.3L1035.1 881.3L1037.9 882.3L1040.3 883.1L1042.4 883.7L1044.2 884.3L1045.9 884.9L1047.4 885.4L1048.8 885.9L1050.2 886.5L1051.8 887.1L1053.4 887.7L1055.2 888.5L1057.2 889.3L1059.1 890.2L1061.1 891.1L1063.2 892L1065.2 893L1067.2 894L1069.2 895L1071.1 896L1073 897L1074.9 898L1076.6 899L1078.4 900L1080 901L1081.6 902L1083.1 903L1084.6 904L1086 905.1L1087.4 906.1L1088.8 907.1L1090.2 908.2L1091.5 909.3L1092.9 910.4L1094.2 911.5L1095.6 912.6L1096.9 913.8L1098.2 915L1099.5 916.1L1100.8 917.3L1102 918.5L1103.3 919.8L1104.5 921L1105.7 922.3L1107 923.6L1108.2 924.9L1109.4 926.3L1110.6 927.6L1111.8 929.1L1113 930.5L1114.2 932.1L1115.4 933.6L1116.7 935.2L1117.9 936.8L1119 938.4L1120.2 940L1121.3 941.6L1122.4 943.2L1123.5 944.7L1124.5 946.2L1125.4 947.6L1126.3 949L1127.2 950.3L1128 951.5L1128.8 952.7L1129.5 954L1130.3 955.2L1131 956.5L1131.6 957.8L1132.3 959.1L1132.9 960.6L1133.6 962.2L1134.3 963.8L1134.9 965.3L1135.5 966.6L1136 968L1136.6 969.4L1137.1 970.8L1137.6 972.4L1138.1 974.3L1138.6 976.5L1139.1 979L1139.7 982L1140.2 985.4L1140.8 989.5L1141.5 994.2L1142.1 999.4L1142.8 1005.1L1143.5 1011L1144.2 1017.1L1144.9 1023.3L1145.5 1029.4L1146.1 1035.4L1146.6 1041.2L1147.1 1046.5L1147.5 1051.4L1147.7 1055.9L1148 1060.2L1148.1 1064.3L1148.2 1068.3L1148.3 1072.1L1148.3 1075.8L1148.2 1079.4L1148.1 1082.9L1148 1086.3L1147.9 1089.7L1147.7 1093L1147.6 1096.3L1147.4 1099.5L1147.2 1102.7L1146.9 1105.7L1146.6 1108.7L1146.3 1111.6L1145.9 1114.4L1145.6 1117.2L1145.2 1119.9L1144.8 1122.5L1144.4 1125.1L1143.9 1127.6L1143.5 1130L1143.1 1132.4L1142.6 1134.7L1142.2 1136.9L1141.7 1139L1141.2 1141.1L1140.7 1143.1L1140.2 1145.1L1139.7 1147L1139.1 1148.9L1138.5 1150.7L1137.8 1152.6L1137.1 1154.5L1136.4 1156.3L1135.7 1158L1135 1159.6L1134.3 1161.2L1133.6 1162.7L1132.9 1164.3L1132 1165.8L1131.1 1167.5L1130 1169.2L1128.8 1171L1127.4 1173L1125.9 1175.2L1124 1177.7L1121.8 1180.6L1119.3 1183.7L1116.6 1187L1113.8 1190.4L1110.9 1193.8L1108.1 1197.2L1105.4 1200.3L1102.8 1203.3L1100.6 1205.9L1098.7 1208.1L1097.3 1209.8L1098.4 1210.7L1099.8 1209L1101.7 1206.9L1104 1204.3L1106.6 1201.4L1109.4 1198.3L1112.2 1195L1115.2 1191.6L1118.1 1188.3L1120.9 1185L1123.4 1181.9L1125.7 1179.1L1127.7 1176.6L1129.3 1174.4L1130.7 1172.3L1132 1170.5L1133.1 1168.7L1134.1 1167L1135 1165.4L1135.9 1163.9L1136.7 1162.3L1137.4 1160.7L1138.1 1159.1L1138.9 1157.3L1139.6 1155.5L1140.4 1153.6L1141.1 1151.7L1141.8 1149.8L1142.5 1147.8L1143.1 1145.9L1143.7 1143.9L1144.2 1141.9L1144.8 1139.8L1145.3 1137.6L1145.8 1135.4L1146.3 1133.1L1146.8 1130.7L1147.3 1128.2L1147.8 1125.7L1148.3 1123.1L1148.8 1120.5L1149.2 1117.7L1149.7 1115L1150.1 1112.1L1150.5 1109.2L1150.9 1106.2L1151.2 1103.1L1151.5 1099.9L1151.8 1096.6L1152 1093.3L1152.3 1089.9L1152.5 1086.6L1152.7 1083.1L1152.9 1079.6L1153 1075.9L1153.1 1072.2L1153.2 1068.3L1153.2 1064.2L1153.1 1060L1153 1055.7L1152.8 1051.1L1152.5 1046.1L1152.2 1040.7L1151.7 1034.9L1151.1 1028.9L1150.5 1022.7L1149.8 1016.5L1149.1 1010.3L1148.4 1004.4L1147.7 998.7L1147 993.5L1146.4 988.7L1145.8 984.6L1145.2 981L1144.6 977.9L1144.1 975.3L1143.5 972.9L1143 970.9L1142.4 969.1L1141.8 967.4L1141.3 965.9L1140.7 964.5L1140.1 963.1L1139.5 961.6L1138.8 960L1138.1 958.4L1137.4 956.8L1136.7 955.3L1135.9 953.8L1135.2 952.4L1134.4 951.1L1133.6 949.8L1132.7 948.5L1131.9 947.2L1131 945.8L1130.1 944.5L1129.1 943L1128.1 941.5L1127 940L1125.9 938.4L1124.8 936.7L1123.6 935.1L1122.4 933.4L1121.1 931.8L1119.9 930.2L1118.6 928.6L1117.4 927L1116.1 925.4L1114.8 924L1113.6 922.5L1112.3 921.1L1111.1 919.8L1109.8 918.4L1108.5 917.1L1107.3 915.8L1106 914.5L1104.7 913.3L1103.3 912L1102 910.8L1100.6 909.6L1099.2 908.4L1097.8 907.2L1096.5 906L1095.1 904.9L1093.7 903.8L1092.2 902.7L1090.8 901.6L1089.3 900.5L1087.8 899.4L1086.2 898.3L1084.6 897.3L1083 896.2L1081.2 895.2L1079.5 894.1L1077.6 893.1L1075.7 892L1073.7 891L1071.7 890L1069.7 888.9L1067.6 887.9L1065.5 887L1063.5 886L1061.4 885.1L1059.4 884.2L1057.4 883.3L1055.5 882.5L1053.8 881.8L1052.3 881.2L1050.7 880.7L1049.2 880.1L1047.7 879.6L1046 879L1044.1 878.4L1042 877.7L1039.6 876.9L1036.9 876L1033.7 874.9L1030 873.7L1025.8 872.2L1021.2 870.6L1016.3 868.9L1011.1 867.2L1005.8 865.3L1000.3 863.5L994.9 861.7L989.6 859.9L984.4 858.3L979.4 856.8L974.8 855.4L970.4 854.2L966.2 853.1L962.1 852L958.1 851.1L954.2 850.2L950.4 849.3L946.6 848.5L942.8 847.8L939 847L935.2 846.3L931.4 845.6L927.5 844.8L923.5 844.1L919.5 843.5L915.5 842.9L911.5 842.3L907.4 841.7L903.4 841.2L899.4 840.7L895.5 840.2L891.6 839.7L887.8 839.1L884 838.6L880.4 838.1L876.9 837.6L873.7 837.1L870.6 836.6L867.6 836.2L864.8 835.7L861.8 835.3L858.9 834.8L855.7 834.3L852.4 833.7L848.7 833.1L844.8 832.4L840.4 831.7L835.6 830.8L830.3 829.9L824.7 828.9L818.9 827.8L812.8 826.6L806.6 825.5L800.3 824.3L794 823.2L787.7 822L781.5 820.9L775.5 819.8L769.7 818.8L763.9 817.8L757.9 816.8L751.6 815.8L745.4 814.7L739.1 813.7L733 812.7L727.2 811.8L721.7 810.9L716.6 810.1L712.1 809.3L708.3 808.7L705.2 808.2Z" fill="#6a6a6a"/>
<path d="M701.8 802.1L703.5 801.8L705.5 801.5L707.9 801.1L710.5 800.6L713.4 800.1L716.5 799.6L719.8 799L723.2 798.5L726.8 798L730.5 797.5L734.2 797.1L737.9 796.8L741.8 796.5L746 796.2L750.3 795.9L754.9 795.7L759.5 795.5L764.3 795.3L769.1 795.1L773.8 794.9L778.6 794.8L783.2 794.7L787.8 794.6L792.1 794.5L796.4 794.4L800.6 794.3L804.7 794.3L808.8 794.2L812.9 794.2L816.9 794.2L820.9 794.2L824.8 794.3L828.7 794.4L832.5 794.5L836.2 794.7L839.9 794.9L843.4 795.2L846.8 795.6L850.2 796L853.4 796.5L856.6 797L859.7 797.5L862.9 798.1L866.1 798.7L869.3 799.3L872.7 799.9L876.1 800.5L879.6 801.1L883.3 801.7L887.1 802.3L890.9 802.9L894.8 803.6L898.7 804.3L902.7 805L906.6 805.7L910.6 806.4L914.6 807.1L918.6 807.8L922.6 808.5L926.5 809.2L930.4 809.8L934.4 810.5L938.3 811.2L942.2 811.9L946.1 812.5L950 813.2L953.9 813.9L957.8 814.6L961.8 815.3L965.7 816L969.6 816.7L973.5 817.4L977.4 818.1L981.3 818.7L985.3 819.4L989.2 820.1L993.1 820.8L997 821.5L1000.9 822.2L1004.8 822.9L1008.8 823.6L1012.7 824.3L1016.6 825L1020.5 825.7L1024.4 826.4L1028.4 827L1032.3 827.7L1036.2 828.4L1040.1 829L1044 829.7L1047.9 830.4L1051.9 831.1L1055.8 831.7L1059.7 832.4L1063.6 833.1L1067.5 833.9L1071.4 834.6L1075.4 835.3L1079.4 836.1L1083.3 836.8L1087.3 837.6L1091.3 838.4L1095.3 839.1L1099.2 839.9L1103.1 840.7L1106.9 841.6L1110.7 842.4L1114.4 843.2L1117.9 844.1L1121.4 844.9L1124.7 845.8L1127.9 846.7L1131.2 847.5L1134.4 848.4L1137.6 849.4L1140.9 850.3L1144.4 851.3L1148 852.4L1151.7 853.4L1155.7 854.6L1159.9 855.8L1164.4 857L1169 858.3L1173.8 859.7L1178.7 861.1L1183.7 862.5L1188.7 863.9L1193.6 865.4L1198.5 866.8L1203.2 868.3L1207.7 869.8L1212 871.3L1216.2 872.7L1220.4 874.2L1224.4 875.7L1228.4 877.3L1232.4 878.8L1236.2 880.3L1239.9 881.9L1243.6 883.5L1247.1 885L1250.5 886.6L1253.7 888.2L1256.9 889.9L1259.9 891.5L1262.7 893.1L1265.5 894.6L1268.1 896.2L1270.6 897.8L1273 899.4L1275.2 901L1277.4 902.7L1279.6 904.4L1281.6 906.2L1283.6 908.1L1285.5 910.1L1287.3 912.1L1289.1 914.3L1290.7 916.6L1292.3 918.9L1293.8 921.3L1295.3 923.8L1296.7 926.3L1298 928.9L1299.3 931.5L1300.6 934.1L1301.9 936.7L1303.1 939.4L1304.3 942L1305.4 944.6L1306.5 947.2L1307.5 949.8L1308.5 952.5L1309.4 955.1L1310.3 957.9L1311.1 960.6L1312 963.5L1312.7 966.5L1313.5 969.5L1314.2 972.7L1314.9 976L1315.5 979.5L1316.1 983.1L1316.7 986.8L1317.2 990.5L1317.8 994.3L1318.2 998.2L1318.7 1002.1L1319.1 1006L1319.5 1009.9L1319.8 1013.7L1320.2 1017.5L1320.5 1021.3L1320.8 1025.1L1321 1028.9L1321.2 1032.7L1321.4 1036.5L1321.5 1040.3L1321.7 1044L1321.7 1047.8L1321.8 1051.5L1321.8 1055.2L1321.8 1058.9L1321.8 1062.5L1321.7 1066.1L1321.6 1069.6L1321.5 1073.1L1321.3 1076.6L1321.1 1080.1L1320.9 1083.5L1320.6 1086.9L1320.3 1090.2L1320 1093.6L1319.6 1096.9L1319.2 1100.1L1318.7 1103.3L1318.2 1106.5L1317.7 1109.7L1317.2 1112.8L1316.6 1115.8L1316 1118.9L1315.3 1121.9L1314.6 1124.8L1313.8 1127.8L1313 1130.7L1312.1 1133.6L1311.2 1136.5L1310.1 1139.3L1309 1142.2L1307.7 1145.1L1306.4 1148L1305 1150.9L1303.5 1153.8L1302 1156.6L1300.5 1159.4L1298.9 1162.1L1297.3 1164.7L1295.7 1167.2L1294 1169.6L1292.4 1171.7L1290.7 1173.8L1288.9 1175.7L1286.9 1177.6L1284.8 1179.4L1282.7 1181.1L1280.7 1182.7L1278.7 1184.2L1276.8 1185.6L1275 1186.9L1273.4 1188L1272.1 1189L1271 1189.8L1271.9 1190.9L1272.9 1190.1L1274.3 1189.2L1275.8 1188.1L1277.6 1186.8L1279.6 1185.5L1281.6 1184L1283.7 1182.4L1285.9 1180.7L1288 1178.9L1290.1 1177L1292 1175L1293.8 1172.9L1295.5 1170.7L1297.2 1168.3L1298.9 1165.8L1300.6 1163.2L1302.3 1160.5L1303.9 1157.7L1305.5 1154.8L1307 1151.9L1308.4 1149L1309.8 1146L1311.1 1143.1L1312.3 1140.2L1313.4 1137.3L1314.5 1134.4L1315.5 1131.4L1316.4 1128.5L1317.2 1125.5L1318 1122.5L1318.7 1119.5L1319.4 1116.4L1320 1113.3L1320.6 1110.2L1321.2 1107L1321.8 1103.8L1322.3 1100.6L1322.8 1097.3L1323.3 1094L1323.7 1090.6L1324 1087.2L1324.4 1083.8L1324.7 1080.3L1324.9 1076.8L1325.2 1073.3L1325.4 1069.8L1325.5 1066.2L1325.7 1062.6L1325.8 1059L1325.9 1055.3L1326 1051.5L1326 1047.8L1326 1044L1325.9 1040.2L1325.9 1036.3L1325.7 1032.5L1325.6 1028.6L1325.4 1024.8L1325.2 1021L1325 1017.2L1324.8 1013.3L1324.5 1009.5L1324.2 1005.5L1323.8 1001.6L1323.5 997.6L1323 993.7L1322.6 989.8L1322.1 986L1321.6 982.2L1321 978.5L1320.4 975L1319.7 971.5L1319 968.3L1318.2 965.1L1317.4 962L1316.5 959.1L1315.7 956.2L1314.7 953.3L1313.8 950.6L1312.7 947.8L1311.7 945.1L1310.6 942.4L1309.4 939.7L1308.2 937.1L1307 934.4L1305.7 931.7L1304.4 929L1303 926.3L1301.6 923.6L1300.2 921L1298.6 918.4L1297 915.8L1295.3 913.3L1293.5 910.9L1291.6 908.5L1289.6 906.3L1287.5 904.1L1285.4 902.1L1283.2 900.1L1280.9 898.3L1278.6 896.5L1276.2 894.7L1273.6 893.1L1271 891.4L1268.3 889.8L1265.5 888.2L1262.6 886.5L1259.5 884.9L1256.3 883.2L1252.9 881.6L1249.4 879.9L1245.8 878.3L1242.1 876.7L1238.3 875.1L1234.4 873.6L1230.5 872L1226.4 870.5L1222.3 869L1218.1 867.4L1213.9 865.9L1209.5 864.5L1204.9 863L1200.1 861.5L1195.2 860L1190.2 858.5L1185.3 857.1L1180.3 855.7L1175.4 854.3L1170.5 852.9L1165.9 851.6L1161.4 850.4L1157.2 849.2L1153.3 848L1149.5 847L1145.9 845.9L1142.5 844.9L1139.2 844L1135.9 843L1132.7 842.1L1129.4 841.2L1126.1 840.4L1122.7 839.5L1119.3 838.6L1115.6 837.8L1111.9 836.9L1108.1 836.1L1104.2 835.2L1100.3 834.4L1096.4 833.6L1092.4 832.8L1088.4 832.1L1084.4 831.3L1080.4 830.6L1076.4 829.8L1072.5 829.1L1068.5 828.3L1064.6 827.6L1060.7 826.9L1056.7 826.2L1052.8 825.5L1048.9 824.8L1045 824.2L1041.1 823.5L1037.1 822.8L1033.2 822.2L1029.3 821.5L1025.4 820.8L1021.5 820.1L1017.6 819.4L1013.7 818.8L1009.7 818.1L1005.8 817.4L1001.9 816.7L998 816L994.1 815.3L990.2 814.6L986.2 813.9L982.3 813.2L978.4 812.5L974.5 811.8L970.6 811.1L966.7 810.5L962.7 809.8L958.8 809.1L954.9 808.4L951 807.7L947.1 807L943.1 806.3L939.2 805.6L935.3 805L931.4 804.3L927.5 803.6L923.5 803L919.5 802.4L915.5 801.8L911.5 801.2L907.5 800.5L903.5 799.9L899.5 799.3L895.5 798.7L891.6 798.2L887.8 797.6L884 797.1L880.4 796.5L876.8 796L873.4 795.5L870.1 794.9L866.8 794.4L863.6 793.9L860.4 793.4L857.2 792.9L853.9 792.5L850.6 792.1L847.2 791.7L843.8 791.4L840.1 791.2L836.4 791L832.6 790.9L828.8 790.8L824.9 790.8L820.9 790.8L816.9 790.9L812.9 791L808.8 791.1L804.7 791.2L800.5 791.4L796.3 791.5L792 791.6L787.7 791.8L783.2 792L778.5 792.2L773.7 792.4L769 792.6L764.2 792.9L759.4 793.1L754.7 793.4L750.2 793.7L745.8 794.1L741.7 794.4L737.7 794.8L734 795.2L730.2 795.7L726.5 796.2L723 796.8L719.5 797.4L716.2 798L713.1 798.5L710.2 799.1L707.6 799.6L705.3 800.1L703.2 800.4L701.5 800.7Z" fill="#6a6a6a"/>
<path d="M855.9 796L858.4 795.7L861.7 795.3L865.4 794.9L869.7 794.4L874.2 793.8L879.1 793.2L884.1 792.6L889.2 792.1L894.2 791.5L899 791.1L903.6 790.6L907.9 790.3L911.9 790L915.8 789.8L919.6 789.6L923.3 789.4L927 789.3L930.6 789.2L934.2 789.1L937.9 789L941.6 789L945.3 789L949.1 789L953 789.1L957.1 789.3L961.6 789.5L966.2 789.8L971 790.1L975.8 790.4L980.6 790.8L985.2 791.2L989.6 791.6L993.6 792L997.2 792.3L1000.2 792.5L1002.7 792.7L1002.8 790.2L1000.4 790L997.4 789.8L993.8 789.5L989.8 789.1L985.4 788.7L980.8 788.3L976 788L971.2 787.6L966.4 787.3L961.7 787L957.2 786.8L953.1 786.6L949.1 786.5L945.3 786.5L941.6 786.5L937.9 786.5L934.2 786.6L930.5 786.7L926.9 786.8L923.2 787L919.4 787.3L915.6 787.5L911.7 787.8L907.7 788.1L903.5 788.5L898.8 789L894 789.6L888.9 790.2L883.9 790.8L878.9 791.5L874 792.1L869.4 792.8L865.2 793.4L861.5 793.9L858.3 794.3L855.7 794.6Z" fill="#6a6a6a"/>
<path d="M1002.5 793.4L1005.5 793.8L1009.1 794.4L1013.2 795L1017.9 795.6L1023 796.4L1028.4 797.2L1034.2 798L1040.3 799L1046.5 799.9L1052.8 800.9L1059.2 802L1065.6 803.1L1072.2 804.2L1079.3 805.4L1086.8 806.7L1094.5 808L1102.4 809.4L1110.5 810.9L1118.5 812.3L1126.5 813.7L1134.3 815.1L1141.9 816.5L1149.1 817.8L1156 818.9L1162.5 820L1168.8 821.1L1175 822.2L1180.9 823.2L1186.8 824.1L1192.4 825.1L1198 826L1203.4 826.9L1208.7 827.8L1213.8 828.6L1218.9 829.4L1223.8 830.2L1228.5 831L1233 831.7L1237.2 832.4L1241.2 833L1245 833.6L1248.8 834.1L1252.6 834.7L1256.4 835.3L1260.4 835.9L1264.5 836.6L1268.9 837.3L1273.5 838.1L1278.5 839L1283.9 840L1289.6 841.1L1295.5 842.2L1301.4 843.3L1307.5 844.4L1313.4 845.6L1319.2 846.7L1324.8 847.8L1330.1 848.8L1335 849.7L1339.5 850.6L1343.5 851.3L1347 851.9L1350.3 852.5L1353.2 852.9L1356 853.4L1358.5 853.8L1360.9 854.2L1363.2 854.6L1365.5 855.1L1367.9 855.7L1370.4 856.4L1373 857.3L1375.8 858.2L1378.6 859.3L1381.5 860.4L1384.3 861.6L1387.2 862.9L1390.1 864.2L1392.9 865.6L1395.7 867L1398.5 868.4L1401.2 869.9L1403.8 871.4L1406.4 872.8L1408.9 874.3L1411.3 875.9L1413.7 877.4L1416.1 879L1418.5 880.6L1420.8 882.2L1423 883.8L1425.2 885.5L1427.3 887.2L1429.3 889L1431.3 890.7L1433.2 892.5L1435 894.3L1436.7 896.2L1438.4 898L1440 899.9L1441.5 901.7L1443 903.7L1444.4 905.7L1445.8 907.7L1447.2 909.8L1448.5 912L1449.8 914.3L1451.2 916.6L1452.5 919.1L1453.8 921.6L1455.1 924.3L1456.3 927L1457.5 929.8L1458.7 932.7L1459.9 935.6L1461 938.5L1462.1 941.4L1463.1 944.3L1464.1 947.2L1465 950L1465.9 952.8L1466.8 955.6L1467.6 958.4L1468.3 961.2L1469.1 964L1469.7 966.8L1470.4 969.6L1471 972.4L1471.6 975.2L1472.1 978L1472.7 980.8L1473.2 983.7L1473.6 986.5L1474.1 989.3L1474.5 992.1L1474.8 994.9L1475.2 997.7L1475.5 1000.5L1475.7 1003.3L1476 1006.1L1476.2 1008.9L1476.4 1011.8L1476.6 1014.6L1476.7 1017.4L1476.9 1020.2L1476.9 1023L1477 1025.9L1477 1028.7L1477 1031.6L1477 1034.4L1476.9 1037.3L1476.8 1040.1L1476.8 1042.9L1476.7 1045.7L1476.6 1048.5L1476.5 1051.2L1476.4 1054L1476.3 1057L1476.2 1060L1476 1063.1L1475.9 1066.1L1475.7 1069.1L1475.5 1072L1475.4 1074.7L1475.2 1077.2L1475.1 1079.4L1475 1081.3L1474.9 1082.9L1476.3 1082.9L1476.4 1081.4L1476.6 1079.5L1476.7 1077.3L1476.9 1074.8L1477.1 1072.1L1477.3 1069.2L1477.5 1066.2L1477.7 1063.2L1477.9 1060.1L1478.1 1057.1L1478.2 1054.1L1478.3 1051.3L1478.5 1048.5L1478.6 1045.8L1478.7 1043L1478.8 1040.1L1478.9 1037.3L1479 1034.5L1479.1 1031.6L1479.1 1028.7L1479.2 1025.9L1479.1 1023L1479.1 1020.1L1479 1017.3L1478.9 1014.5L1478.8 1011.6L1478.6 1008.8L1478.4 1005.9L1478.2 1003.1L1478 1000.3L1477.7 997.4L1477.4 994.6L1477 991.7L1476.7 988.9L1476.3 986.1L1475.8 983.2L1475.4 980.4L1474.9 977.5L1474.4 974.7L1473.8 971.8L1473.2 969L1472.6 966.2L1472 963.3L1471.3 960.5L1470.5 957.6L1469.8 954.8L1469 951.9L1468.1 949L1467.2 946.2L1466.3 943.2L1465.3 940.3L1464.3 937.3L1463.3 934.3L1462.2 931.3L1461 928.4L1459.9 925.5L1458.7 922.7L1457.4 919.9L1456.2 917.2L1454.9 914.6L1453.6 912.2L1452.2 909.8L1450.9 907.5L1449.5 905.3L1448.1 903.1L1446.7 901L1445.2 898.9L1443.6 896.9L1442 894.9L1440.3 892.9L1438.6 891L1436.7 889L1434.7 887.1L1432.7 885.2L1430.6 883.3L1428.5 881.4L1426.2 879.6L1424 877.9L1421.6 876.1L1419.3 874.4L1416.8 872.7L1414.3 871.1L1411.8 869.5L1409.2 868L1406.6 866.5L1403.9 864.9L1401.1 863.4L1398.3 862L1395.4 860.5L1392.5 859.1L1389.5 857.8L1386.6 856.4L1383.6 855.2L1380.6 854L1377.7 852.9L1374.8 851.9L1372 851L1369.4 850.3L1366.8 849.7L1364.4 849.1L1361.9 848.6L1359.4 848.2L1356.8 847.8L1354.1 847.4L1351.2 846.9L1348 846.4L1344.4 845.8L1340.5 845L1336.1 844.2L1331.2 843.3L1325.9 842.2L1320.3 841.2L1314.5 840L1308.5 838.9L1302.5 837.8L1296.5 836.6L1290.6 835.5L1284.9 834.5L1279.5 833.5L1274.5 832.6L1269.8 831.8L1265.4 831.1L1261.3 830.4L1257.3 829.8L1253.5 829.2L1249.7 828.6L1245.9 828L1242 827.4L1238 826.8L1233.8 826.2L1229.4 825.5L1224.7 824.7L1219.8 823.9L1214.7 823.1L1209.6 822.2L1204.3 821.3L1198.9 820.5L1193.4 819.5L1187.7 818.6L1181.9 817.6L1175.9 816.6L1169.7 815.6L1163.4 814.5L1156.9 813.4L1150.1 812.2L1142.9 810.9L1135.3 809.6L1127.5 808.2L1119.5 806.8L1111.5 805.3L1103.4 803.9L1095.5 802.5L1087.7 801.1L1080.3 799.9L1073.2 798.7L1066.5 797.6L1060 796.7L1053.6 795.8L1047.2 794.9L1040.9 794.2L1034.9 793.4L1029 792.7L1023.5 792.1L1018.4 791.5L1013.7 790.9L1009.6 790.5L1006 790L1003 789.7Z" fill="#6a6a6a"/>
<path d="M1011.9 790.4L1014.6 789.9L1018 789.2L1022 788.4L1026.4 787.5L1031.3 786.6L1036.4 785.6L1041.6 784.6L1046.9 783.6L1052.2 782.7L1057.2 781.8L1062 781.1L1066.4 780.5L1070.4 779.9L1074.4 779.4L1078.3 778.9L1082 778.4L1085.8 778L1089.4 777.6L1093.1 777.3L1096.7 777L1100.3 776.8L1104 776.6L1107.6 776.3L1111.4 776.2L1115.1 776L1119 775.9L1122.9 775.8L1126.8 775.7L1130.7 775.7L1134.6 775.7L1138.4 775.7L1142.2 775.8L1145.9 775.8L1149.5 776L1153 776.1L1156.3 776.3L1159.4 776.5L1162.3 776.8L1165 777.1L1167.5 777.4L1170 777.8L1172.4 778.1L1174.9 778.6L1177.5 779L1180.3 779.5L1183.3 779.9L1186.5 780.4L1190 780.9L1193.9 781.4L1198.2 781.9L1202.7 782.4L1207.5 783L1212.3 783.5L1217.3 784.1L1222.2 784.7L1227.1 785.3L1231.9 785.9L1236.4 786.6L1240.6 787.2L1244.5 788L1248 788.7L1251.4 789.5L1254.5 790.3L1257.4 791.1L1260.3 792L1263 792.9L1265.7 793.8L1268.4 794.7L1271 795.6L1273.7 796.6L1276.5 797.5L1279.4 798.5L1282.5 799.3L1285.5 800.2L1288.6 801.1L1291.7 802L1294.8 802.9L1297.9 803.8L1301 804.7L1304 805.6L1306.8 806.5L1309.6 807.5L1312.3 808.4L1314.8 809.3L1317.2 810.2L1319.5 811.1L1321.8 812.1L1323.9 813.1L1326 814.1L1328.1 815.1L1330 816L1331.8 817L1333.6 817.9L1335.3 818.8L1336.9 819.6L1338.5 820.4L1339.9 821.1L1341.1 821.6L1342.3 822.2L1343.3 822.6L1344.3 823L1345.2 823.4L1346 823.8L1346.8 824.2L1347.6 824.6L1348.4 825L1349.3 825.5L1350.2 826.1L1351.2 826.7L1352.1 827.4L1353.1 828.1L1354.1 828.8L1355.1 829.5L1356 830.2L1357 831L1358 831.8L1358.9 832.6L1359.9 833.5L1360.9 834.4L1361.9 835.3L1362.9 836.2L1363.9 837.3L1365 838.4L1366.1 839.5L1367.2 840.7L1368.2 841.9L1369.3 843.1L1370.3 844.2L1371.3 845.3L1372.2 846.3L1373 847.3L1373.7 848.1L1374.3 848.8L1374.9 849.5L1375.4 850.1L1375.8 850.7L1376.2 851.2L1376.5 851.7L1376.8 852.1L1377 852.5L1377.2 852.9L1377.4 853.2L1377.6 853.5L1377.8 853.8L1379 853L1378.8 852.8L1378.6 852.5L1378.4 852.2L1378.2 851.8L1378 851.4L1377.7 850.9L1377.4 850.4L1377 849.9L1376.6 849.3L1376.1 848.6L1375.5 847.9L1374.9 847.1L1374.2 846.3L1373.4 845.3L1372.5 844.2L1371.5 843.1L1370.5 842L1369.5 840.8L1368.4 839.5L1367.4 838.3L1366.3 837.2L1365.2 836L1364.2 834.9L1363.1 833.9L1362.2 833L1361.2 832.1L1360.2 831.2L1359.2 830.3L1358.3 829.5L1357.3 828.7L1356.3 827.9L1355.3 827.1L1354.3 826.4L1353.4 825.7L1352.4 825L1351.4 824.3L1350.4 823.7L1349.5 823.1L1348.7 822.6L1347.8 822.2L1347 821.8L1346.1 821.4L1345.2 821L1344.3 820.5L1343.3 820L1342.1 819.5L1340.9 818.9L1339.5 818.2L1338 817.5L1336.5 816.6L1334.8 815.7L1333.1 814.7L1331.3 813.6L1329.4 812.6L1327.4 811.5L1325.3 810.3L1323.2 809.2L1320.9 808.1L1318.6 807L1316.2 805.9L1313.6 804.9L1311 803.8L1308.2 802.7L1305.3 801.6L1302.4 800.5L1299.3 799.4L1296.3 798.4L1293.2 797.3L1290.1 796.2L1287.1 795.2L1284.1 794.1L1281.2 793.1L1278.3 792.2L1275.5 791.3L1272.8 790.4L1270.2 789.4L1267.5 788.5L1264.7 787.6L1261.9 786.7L1259 785.9L1255.9 785L1252.6 784.2L1249.2 783.4L1245.5 782.6L1241.5 781.9L1237.2 781.3L1232.6 780.6L1227.8 780L1222.9 779.4L1217.9 778.9L1212.9 778.3L1208 777.8L1203.3 777.3L1198.8 776.8L1194.6 776.3L1190.7 775.8L1187.2 775.4L1184 774.9L1181.1 774.5L1178.3 774L1175.7 773.6L1173.2 773.2L1170.7 772.8L1168.2 772.5L1165.5 772.2L1162.8 771.9L1159.8 771.6L1156.6 771.4L1153.2 771.2L1149.7 771.1L1146 771L1142.3 770.9L1138.4 770.9L1134.6 770.9L1130.6 770.9L1126.7 771L1122.8 771.1L1118.8 771.2L1115 771.4L1111.1 771.5L1107.4 771.8L1103.7 772L1100 772.2L1096.3 772.5L1092.7 772.8L1089 773.2L1085.3 773.6L1081.5 774L1077.7 774.5L1073.8 775L1069.8 775.6L1065.7 776.3L1061.3 777.1L1056.5 778.2L1051.5 779.3L1046.3 780.5L1041 781.7L1035.8 783L1030.7 784.2L1026 785.4L1021.5 786.5L1017.6 787.5L1014.3 788.4L1011.6 789Z" fill="#6a6a6a"/>
<path d="M1190.5 775.7L1193.3 775.2L1196.8 774.6L1200.9 774L1205.6 773.2L1210.7 772.3L1216 771.4L1221.5 770.6L1227 769.7L1232.5 768.9L1237.7 768.1L1242.6 767.5L1247.1 767L1251.2 766.6L1255.2 766.2L1259.1 765.9L1262.8 765.7L1266.5 765.4L1270.1 765.3L1273.7 765.1L1277.3 765L1280.9 764.9L1284.6 764.9L1288.3 764.8L1292.1 764.8L1296 764.8L1299.9 764.8L1303.9 764.9L1307.9 764.9L1311.9 765L1316 765.1L1320 765.3L1324 765.5L1328 765.7L1332 765.9L1335.9 766.1L1339.8 766.4L1343.7 766.7L1347.5 766.9L1351.2 767.2L1355 767.5L1358.7 767.8L1362.4 768.2L1366 768.5L1369.7 769L1373.4 769.5L1377.1 770L1380.9 770.6L1384.6 771.3L1388.5 772L1392.5 772.9L1396.6 773.9L1400.8 774.9L1405 776.1L1409.2 777.2L1413.3 778.4L1417.4 779.5L1421.4 780.7L1425.2 781.7L1428.8 782.7L1432.3 783.6L1435.5 784.3L1438.5 785L1441.3 785.7L1444.1 786.3L1446.6 786.9L1449.1 787.4L1451.5 787.9L1453.8 788.4L1456.1 788.9L1458.3 789.4L1460.5 790L1462.7 790.5L1464.9 791.1L1467 791.7L1469.1 792.2L1471.1 792.8L1473 793.4L1474.9 794L1476.8 794.5L1478.6 795.1L1480.4 795.7L1482.3 796.4L1484.1 797L1486 797.7L1487.8 798.4L1489.7 799.1L1491.5 799.8L1493.3 800.6L1495.1 801.3L1496.9 802.1L1498.7 802.9L1500.5 803.7L1502.3 804.5L1504.1 805.4L1505.9 806.3L1507.7 807.1L1509.5 808.1L1511.4 809.1L1513.3 810.1L1515.3 811.2L1517.2 812.2L1519.2 813.3L1521.1 814.4L1522.9 815.5L1524.7 816.5L1526.4 817.6L1528 818.5L1529.4 819.5L1530.7 820.3L1531.9 821.1L1533 821.9L1533.9 822.6L1534.8 823.3L1535.7 823.9L1536.5 824.6L1537.3 825.3L1538.1 826L1539 826.8L1539.9 827.6L1540.8 828.5L1541.8 829.4L1542.7 830.4L1543.7 831.4L1544.7 832.4L1545.7 833.4L1546.6 834.4L1547.6 835.5L1548.5 836.6L1549.5 837.7L1550.4 838.8L1551.3 839.9L1552.2 841.1L1553.1 842.2L1553.9 843.4L1554.8 844.6L1555.6 845.8L1556.4 847L1557.2 848.2L1558 849.5L1558.8 850.7L1559.6 852L1560.4 853.3L1561.1 854.7L1561.9 856L1562.7 857.4L1563.4 858.8L1564.2 860.2L1565 861.6L1565.7 863.1L1566.5 864.6L1567.2 866.1L1567.9 867.5L1568.6 869L1569.3 870.5L1570 872L1570.6 873.4L1571.2 874.9L1571.8 876.3L1572.4 877.7L1572.9 879.2L1573.5 880.6L1574 882L1574.5 883.5L1575 884.9L1575.5 886.3L1575.9 887.8L1576.4 889.3L1576.8 890.7L1577.2 892.2L1577.5 893.6L1577.9 895L1578.2 896.4L1578.5 897.8L1578.7 899.2L1579 900.7L1579.3 902.2L1579.6 903.8L1579.8 905.4L1580.1 907.2L1580.3 909.2L1580.6 911.2L1580.9 913.4L1581.2 915.6L1581.5 918L1581.8 920.4L1582.1 922.8L1582.3 925.3L1582.5 927.9L1582.7 930.4L1582.8 933L1582.9 935.6L1582.9 938.2L1582.9 940.8L1582.8 943.5L1582.7 946.3L1582.6 949L1582.4 951.9L1582.2 954.7L1581.9 957.5L1581.6 960.4L1581.3 963.3L1580.9 966.1L1580.4 969L1580 971.8L1579.5 974.6L1578.9 977.4L1578.4 980.2L1577.7 983L1577.1 985.8L1576.3 988.6L1575.6 991.5L1574.8 994.3L1574 997.1L1573.2 999.9L1572.3 1002.7L1571.4 1005.6L1570.5 1008.4L1569.5 1011.3L1568.5 1014.2L1567.5 1017.1L1566.4 1020L1565.3 1023L1564.2 1025.8L1563 1028.7L1561.8 1031.5L1560.7 1034.2L1559.5 1036.9L1558.3 1039.5L1557 1042L1555.8 1044.6L1554.4 1047.1L1553 1049.6L1551.6 1052L1550.3 1054.4L1548.9 1056.8L1547.5 1059L1546.2 1061.1L1545 1063.1L1543.8 1064.9L1542.7 1066.6L1541.7 1068.1L1540.8 1069.5L1539.9 1070.8L1539 1071.9L1538.1 1073L1537.4 1073.9L1536.6 1074.8L1535.9 1075.5L1535.3 1076.2L1534.8 1076.8L1534.3 1077.4L1533.9 1077.9L1534.9 1078.8L1535.3 1078.3L1535.8 1077.8L1536.4 1077.2L1537 1076.5L1537.7 1075.8L1538.5 1074.9L1539.3 1074L1540.2 1072.9L1541.1 1071.7L1542.1 1070.5L1543.1 1069.1L1544.1 1067.5L1545.2 1065.8L1546.4 1064L1547.7 1062L1549.1 1059.9L1550.5 1057.7L1551.9 1055.4L1553.3 1053L1554.8 1050.6L1556.2 1048.1L1557.6 1045.5L1559 1043L1560.2 1040.4L1561.5 1037.8L1562.7 1035.2L1564 1032.4L1565.2 1029.6L1566.4 1026.8L1567.6 1023.9L1568.8 1021L1570 1018.1L1571.1 1015.1L1572.2 1012.2L1573.2 1009.4L1574.2 1006.5L1575.2 1003.7L1576.1 1000.9L1577 998L1577.9 995.2L1578.8 992.4L1579.6 989.5L1580.4 986.7L1581.1 983.9L1581.9 981L1582.5 978.2L1583.2 975.3L1583.7 972.5L1584.3 969.6L1584.8 966.7L1585.2 963.8L1585.6 960.9L1586 958L1586.4 955.1L1586.7 952.2L1586.9 949.4L1587.2 946.5L1587.3 943.7L1587.5 941L1587.6 938.3L1587.6 935.6L1587.6 932.9L1587.5 930.2L1587.4 927.5L1587.2 924.9L1587.1 922.4L1586.8 919.8L1586.6 917.4L1586.4 915L1586.1 912.8L1585.9 910.6L1585.7 908.5L1585.4 906.6L1585.2 904.7L1585 903L1584.8 901.3L1584.5 899.7L1584.3 898.2L1584 896.7L1583.7 895.2L1583.3 893.7L1583 892.3L1582.6 890.8L1582.2 889.3L1581.8 887.7L1581.3 886.2L1580.9 884.6L1580.4 883.1L1579.9 881.6L1579.3 880.1L1578.8 878.6L1578.2 877.1L1577.7 875.6L1577.1 874.2L1576.4 872.7L1575.8 871.2L1575.2 869.7L1574.5 868.1L1573.8 866.6L1573.1 865.1L1572.3 863.6L1571.6 862L1570.8 860.5L1570 859L1569.3 857.5L1568.5 856L1567.7 854.6L1566.9 853.2L1566.1 851.8L1565.3 850.4L1564.5 849.1L1563.7 847.7L1562.9 846.4L1562.1 845.1L1561.2 843.8L1560.4 842.5L1559.5 841.2L1558.6 840L1557.7 838.8L1556.8 837.5L1555.9 836.3L1554.9 835.1L1553.9 834L1552.9 832.8L1551.9 831.6L1550.9 830.5L1549.9 829.4L1548.9 828.3L1547.8 827.3L1546.8 826.3L1545.8 825.3L1544.8 824.3L1543.8 823.4L1542.9 822.5L1542.1 821.7L1541.2 820.9L1540.3 820.2L1539.4 819.4L1538.4 818.7L1537.4 817.9L1536.4 817.1L1535.2 816.3L1534 815.4L1532.6 814.5L1531.1 813.6L1529.5 812.6L1527.7 811.5L1525.9 810.4L1524 809.3L1522.1 808.2L1520.1 807.1L1518.1 806L1516.1 804.9L1514.2 803.8L1512.2 802.8L1510.3 801.9L1508.5 800.9L1506.6 800L1504.8 799.2L1503 798.3L1501.1 797.5L1499.3 796.6L1497.4 795.8L1495.6 795.1L1493.7 794.3L1491.8 793.6L1490 792.8L1488 792.1L1486.1 791.4L1484.2 790.7L1482.4 790.1L1480.5 789.4L1478.6 788.8L1476.7 788.2L1474.7 787.6L1472.7 787L1470.7 786.5L1468.6 785.9L1466.5 785.3L1464.3 784.7L1462 784.1L1459.7 783.5L1457.4 783L1455.1 782.5L1452.8 782L1450.4 781.4L1447.9 780.9L1445.4 780.3L1442.7 779.7L1439.9 779.1L1436.9 778.4L1433.7 777.6L1430.4 776.8L1426.8 775.8L1423 774.7L1419.1 773.6L1415 772.5L1410.9 771.3L1406.6 770.1L1402.4 769L1398.1 767.9L1393.9 766.8L1389.8 765.9L1385.8 765.1L1381.9 764.5L1378 763.9L1374.2 763.4L1370.4 763L1366.6 762.6L1362.9 762.3L1359.1 762L1355.4 761.8L1351.6 761.6L1347.8 761.4L1344 761.2L1340.2 761L1336.2 760.8L1332.3 760.6L1328.3 760.5L1324.2 760.3L1320.2 760.3L1316.1 760.2L1312 760.1L1308 760.1L1303.9 760.1L1299.9 760.1L1296 760.2L1292 760.3L1288.2 760.4L1284.5 760.5L1280.8 760.7L1277.2 760.8L1273.5 761L1269.9 761.2L1266.2 761.4L1262.5 761.7L1258.7 762.1L1254.8 762.5L1250.8 763L1246.7 763.5L1242.1 764.2L1237.2 765L1232 766L1226.5 767L1221 768.1L1215.6 769.1L1210.3 770.2L1205.3 771.2L1200.6 772.2L1196.5 773L1193 773.8L1190.2 774.3Z" fill="#6a6a6a"/>
<path d="M1498.3 753.5L1500.5 753.3L1503.2 753.1L1506.4 752.8L1510 752.5L1513.9 752.2L1518.1 751.8L1522.4 751.4L1526.8 751.1L1531.1 750.7L1535.4 750.4L1539.6 750.1L1543.5 749.9L1547.3 749.7L1551.2 749.5L1555.2 749.4L1559.1 749.2L1563.1 749.1L1567.1 749L1571 748.8L1574.8 748.8L1578.5 748.7L1582 748.6L1585.4 748.6L1588.7 748.5L1591.7 748.5L1594.8 748.5L1597.8 748.6L1600.7 748.7L1603.5 748.8L1606.1 748.8L1608.6 748.9L1610.9 749L1613.1 749.1L1615 749.2L1616.6 749.3L1618 749.3L1618.1 746.8L1616.7 746.8L1615.1 746.7L1613.2 746.7L1611 746.6L1608.7 746.5L1606.2 746.4L1603.5 746.4L1600.7 746.3L1597.8 746.3L1594.8 746.2L1591.7 746.2L1588.6 746.3L1585.4 746.3L1582 746.4L1578.4 746.5L1574.7 746.6L1570.9 746.7L1567 746.9L1563 747L1559.1 747.2L1555.1 747.4L1551.1 747.6L1547.2 747.8L1543.4 748.1L1539.5 748.3L1535.3 748.7L1531 749L1526.6 749.4L1522.2 749.8L1517.9 750.2L1513.8 750.6L1509.9 751L1506.3 751.3L1503.1 751.7L1500.3 751.9L1498.2 752.1Z" fill="#6a6a6a"/>
<path d="M1617.9 750.5L1621 750.7L1625 750.8L1629.8 751.1L1635.2 751.3L1641.1 751.6L1647.1 751.9L1653.3 752.2L1659.3 752.5L1665.1 752.8L1670.3 753.1L1675 753.5L1678.8 753.8L1681.8 754.1L1684.2 754.4L1686.1 754.7L1687.5 755L1688.7 755.3L1689.7 755.7L1690.7 756L1691.9 756.4L1693.2 756.9L1694.9 757.4L1696.9 757.9L1699.4 758.5L1702.4 759.1L1705.6 759.7L1709.1 760.4L1712.8 761.1L1716.6 761.9L1720.6 762.6L1724.6 763.4L1728.7 764.3L1732.8 765.1L1736.8 766L1740.7 766.9L1744.5 767.8L1748.3 768.7L1752.2 769.7L1756.1 770.7L1760 771.8L1763.9 772.8L1767.8 773.9L1771.7 775L1775.5 776.1L1779.2 777.2L1782.8 778.2L1786.2 779.3L1789.5 780.2L1792.6 781.2L1795.6 782.2L1798.4 783.1L1801.2 784.1L1803.9 785L1806.5 786L1809 786.9L1811.4 787.8L1813.9 788.7L1816.2 789.6L1818.6 790.5L1821 791.4L1823.3 792.3L1825.6 793.1L1827.8 793.9L1830 794.7L1832.1 795.5L1834.1 796.2L1836.1 797L1838.1 797.8L1839.9 798.6L1841.8 799.5L1843.6 800.4L1845.4 801.4L1847.2 802.4L1849 803.5L1850.8 804.7L1852.5 805.8L1854.2 807L1855.8 808.3L1857.5 809.5L1859.1 810.9L1860.6 812.2L1862.1 813.6L1863.6 815.1L1865.1 816.6L1866.6 818.2L1868 819.9L1869.4 821.6L1870.8 823.4L1872.1 825.2L1873.5 827.1L1874.8 829.1L1876 831L1877.2 832.9L1878.4 834.8L1879.5 836.7L1880.5 838.6L1881.5 840.4L1882.4 842.2L1883.3 844L1884.1 845.7L1884.8 847.5L1885.5 849.3L1886.2 851.1L1886.9 852.9L1887.5 854.7L1888.2 856.6L1888.8 858.6L1889.4 860.6L1890 862.7L1890.5 864.7L1891.1 866.8L1891.6 868.9L1892.1 871.1L1892.6 873.2L1893 875.5L1893.5 877.7L1893.9 880L1894.3 882.4L1894.6 884.8L1895 887.3L1895.3 889.8L1895.6 892.5L1895.9 895.2L1896.1 898L1896.3 900.8L1896.5 903.6L1896.8 906.5L1897 909.4L1897.1 912.3L1897.3 915.2L1897.4 918L1897.5 920.9L1897.6 923.7L1897.6 926.5L1897.7 929.4L1897.7 932.3L1897.7 935.1L1897.6 938L1897.6 940.8L1897.5 943.7L1897.4 946.5L1897.2 949.2L1897.1 951.9L1896.9 954.6L1896.7 957.2L1896.5 959.7L1896.2 962.2L1896 964.7L1895.7 967.2L1895.4 969.6L1895 972L1894.7 974.4L1894.3 976.7L1893.8 979.1L1893.4 981.4L1892.9 983.8L1892.3 986.1L1891.8 988.5L1891.2 990.8L1890.5 993.2L1889.9 995.5L1889.2 997.8L1888.4 1000.1L1887.7 1002.4L1886.9 1004.5L1886.1 1006.7L1885.2 1008.7L1884.3 1010.7L1883.4 1012.7L1882.4 1014.6L1881.4 1016.5L1880.3 1018.4L1879.2 1020.2L1878.1 1021.9L1877 1023.6L1875.9 1025.2L1874.7 1026.8L1873.5 1028.3L1872.3 1029.7L1871.1 1031L1869.9 1032.2L1868.6 1033.3L1867.1 1034.4L1865.7 1035.4L1864.1 1036.4L1862.6 1037.3L1861.2 1038.1L1859.8 1038.8L1858.5 1039.5L1857.4 1040.1L1856.4 1040.7L1855.6 1041.2L1856.3 1042.4L1857.1 1041.9L1858.1 1041.4L1859.2 1040.8L1860.5 1040.2L1861.9 1039.4L1863.4 1038.6L1865 1037.8L1866.5 1036.8L1868.1 1035.8L1869.6 1034.7L1871.1 1033.5L1872.4 1032.2L1873.7 1030.9L1875 1029.5L1876.2 1028L1877.4 1026.4L1878.7 1024.8L1879.9 1023L1881 1021.3L1882.2 1019.5L1883.3 1017.6L1884.4 1015.7L1885.4 1013.7L1886.4 1011.7L1887.4 1009.7L1888.3 1007.6L1889.2 1005.4L1890.1 1003.2L1890.9 1001L1891.7 998.7L1892.5 996.3L1893.2 994L1894 991.6L1894.6 989.2L1895.3 986.9L1895.9 984.5L1896.5 982.1L1897.1 979.7L1897.6 977.4L1898.1 975L1898.5 972.6L1898.9 970.1L1899.3 967.7L1899.7 965.2L1900 962.7L1900.3 960.1L1900.6 957.5L1900.9 954.9L1901.2 952.2L1901.4 949.5L1901.7 946.7L1901.9 943.9L1902 941L1902.2 938.1L1902.3 935.2L1902.4 932.3L1902.5 929.4L1902.5 926.5L1902.6 923.7L1902.6 920.8L1902.6 917.9L1902.5 915L1902.5 912.1L1902.4 909.1L1902.3 906.2L1902.1 903.3L1901.9 900.4L1901.7 897.5L1901.5 894.7L1901.2 891.9L1900.9 889.2L1900.6 886.6L1900.3 884L1899.9 881.5L1899.5 879.1L1899.1 876.7L1898.6 874.4L1898.2 872.1L1897.7 869.8L1897.2 867.6L1896.6 865.4L1896.1 863.2L1895.5 861.1L1894.9 859L1894.3 856.9L1893.7 854.9L1893 852.9L1892.4 851L1891.7 849.1L1890.9 847.2L1890.2 845.3L1889.4 843.4L1888.5 841.5L1887.6 839.6L1886.7 837.7L1885.7 835.8L1884.6 833.8L1883.4 831.9L1882.2 829.9L1881 827.8L1879.7 825.8L1878.3 823.8L1876.9 821.8L1875.5 819.9L1874 817.9L1872.5 816.1L1871 814.3L1869.4 812.6L1867.8 810.9L1866.2 809.4L1864.6 807.8L1862.9 806.3L1861.2 804.9L1859.5 803.5L1857.7 802.2L1855.9 800.9L1854.1 799.7L1852.2 798.5L1850.3 797.3L1848.4 796.2L1846.4 795.1L1844.4 794.1L1842.4 793.1L1840.4 792.2L1838.3 791.4L1836.3 790.6L1834.2 789.8L1832 789L1829.9 788.2L1827.7 787.4L1825.4 786.6L1823.1 785.8L1820.8 784.9L1818.4 783.9L1816 783L1813.6 782.1L1811.1 781.2L1808.6 780.2L1805.9 779.3L1803.2 778.3L1800.4 777.3L1797.5 776.3L1794.5 775.3L1791.3 774.3L1788 773.3L1784.6 772.3L1780.9 771.2L1777.2 770.1L1773.4 769L1769.5 767.9L1765.5 766.9L1761.6 765.8L1757.6 764.8L1753.6 763.8L1749.7 762.9L1745.9 762L1742 761.1L1738 760.2L1733.9 759.4L1729.8 758.6L1725.7 757.8L1721.6 757.1L1717.6 756.4L1713.8 755.7L1710.1 755L1706.6 754.4L1703.4 753.8L1700.6 753.2L1698.1 752.7L1696.3 752.2L1694.8 751.8L1693.5 751.4L1692.4 751L1691.3 750.6L1690.1 750.3L1688.7 749.9L1687 749.6L1684.9 749.3L1682.4 749L1679.3 748.7L1675.4 748.4L1670.7 748.1L1665.3 747.9L1659.5 747.6L1653.5 747.4L1647.3 747.1L1641.3 746.9L1635.4 746.7L1630 746.5L1625.2 746.4L1621.2 746.2L1618.1 746.1Z" fill="#6a6a6a"/>
<path d="M1346.9 763.2L1348.7 763L1351 762.8L1353.6 762.4L1356.6 762.1L1359.9 761.7L1363.3 761.3L1366.9 760.9L1370.6 760.4L1374.4 760L1378.1 759.6L1381.8 759.3L1385.4 759L1388.9 758.7L1392.5 758.4L1396.2 758.2L1399.9 757.9L1403.7 757.7L1407.5 757.4L1411.4 757.2L1415.2 757L1419.1 756.7L1422.9 756.5L1426.7 756.4L1430.5 756.2L1434.3 756.1L1438.1 756L1442 755.9L1445.8 755.9L1449.7 755.9L1453.6 755.9L1457.4 755.9L1461.2 755.9L1464.9 755.9L1468.6 755.9L1472.2 755.9L1475.7 755.9L1479 755.8L1482.3 755.8L1485.5 755.7L1488.6 755.6L1491.6 755.5L1494.6 755.4L1497.6 755.3L1500.5 755.3L1503.4 755.3L1506.3 755.4L1509.2 755.5L1512.1 755.7L1515 755.9L1517.9 756.2L1520.8 756.6L1523.7 757L1526.6 757.4L1529.5 757.8L1532.4 758.3L1535.3 758.9L1538.2 759.4L1541.1 759.9L1544 760.5L1547 761.1L1549.9 761.6L1552.8 762.2L1555.7 762.8L1558.7 763.4L1561.6 764.1L1564.5 764.7L1567.4 765.4L1570.3 766.1L1573.2 766.9L1576.1 767.6L1579.1 768.4L1582 769.2L1584.9 770.1L1587.8 771L1590.7 771.9L1593.6 772.8L1596.5 773.8L1599.4 774.8L1602.3 775.8L1605.3 776.8L1608.2 777.8L1611.1 778.9L1614 780L1617 781L1619.9 782.1L1622.7 783.2L1625.4 784.2L1628.2 785.3L1630.9 786.3L1633.7 787.4L1636.5 788.5L1639.4 789.7L1642.3 791L1645.4 792.3L1648.6 793.7L1652 795.2L1655.7 796.8L1659.6 798.5L1663.8 800.3L1668.1 802.1L1672.4 804L1676.8 806L1681.1 808L1685.4 810L1689.4 812.1L1693.2 814.2L1696.7 816.4L1699.9 818.6L1702.7 820.8L1705.4 823.1L1707.8 825.5L1710.1 828L1712.3 830.6L1714.3 833.1L1716.3 835.8L1718.1 838.5L1719.9 841.2L1721.7 843.9L1723.4 846.6L1725.2 849.4L1726.9 852.1L1728.4 854.7L1729.9 857.4L1731.3 860.1L1732.7 862.8L1734 865.5L1735.2 868.3L1736.4 871.1L1737.5 873.9L1738.6 876.8L1739.7 879.7L1740.8 882.7L1741.8 885.7L1742.8 888.8L1743.8 892L1744.7 895.3L1745.6 898.6L1746.5 901.9L1747.3 905.2L1748 908.5L1748.7 911.6L1749.4 914.7L1750 917.7L1750.5 920.6L1751 923.3L1751.4 925.9L1751.8 928.3L1752.1 930.7L1752.3 933L1752.5 935.3L1752.6 937.5L1752.7 939.8L1752.7 942L1752.7 944.4L1752.6 946.8L1752.5 949.4L1752.3 952L1752.1 954.7L1751.9 957.5L1751.5 960.4L1751.2 963.3L1750.8 966.1L1750.3 969L1749.8 971.9L1749.2 974.8L1748.7 977.6L1748.1 980.3L1747.4 983L1746.7 985.6L1746 988.1L1745.2 990.7L1744.4 993.2L1743.6 995.7L1742.7 998.1L1741.7 1000.6L1740.8 1002.9L1739.8 1005.3L1738.8 1007.6L1737.7 1010L1736.6 1012.2L1735.5 1014.5L1734.4 1016.7L1733.2 1018.8L1731.9 1021L1730.7 1023.1L1729.4 1025.2L1728.1 1027.3L1726.7 1029.3L1725.4 1031.3L1724 1033.2L1722.6 1035.2L1721.2 1037.1L1719.8 1039L1718.2 1041L1716.5 1043L1714.8 1045L1713.1 1046.9L1711.4 1048.9L1709.7 1050.7L1708.1 1052.4L1706.7 1054L1705.4 1055.4L1704.3 1056.6L1703.4 1057.6L1704.4 1058.5L1705.3 1057.5L1706.5 1056.4L1707.8 1055L1709.3 1053.5L1710.9 1051.8L1712.6 1050L1714.4 1048.1L1716.1 1046.1L1717.9 1044.2L1719.6 1042.2L1721.3 1040.2L1722.8 1038.3L1724.2 1036.4L1725.7 1034.5L1727.1 1032.5L1728.5 1030.5L1729.9 1028.5L1731.3 1026.4L1732.7 1024.4L1734 1022.2L1735.3 1020.1L1736.6 1017.9L1737.8 1015.7L1739 1013.4L1740.2 1011.1L1741.3 1008.8L1742.4 1006.5L1743.5 1004.1L1744.6 1001.7L1745.6 999.3L1746.5 996.8L1747.5 994.3L1748.4 991.7L1749.3 989.2L1750.1 986.5L1750.9 983.9L1751.6 981.2L1752.3 978.4L1753 975.6L1753.6 972.7L1754.2 969.8L1754.8 966.8L1755.3 963.9L1755.7 961L1756.2 958.1L1756.5 955.2L1756.8 952.4L1757.1 949.7L1757.2 947.1L1757.4 944.6L1757.5 942.1L1757.5 939.7L1757.5 937.3L1757.4 935L1757.3 932.6L1757.1 930.2L1756.9 927.7L1756.6 925.2L1756.3 922.5L1755.9 919.7L1755.4 916.8L1754.9 913.7L1754.2 910.5L1753.5 907.2L1752.8 903.9L1752 900.5L1751.1 897.1L1750.2 893.8L1749.3 890.4L1748.3 887.1L1747.2 883.9L1746.2 880.8L1745.1 877.7L1744 874.8L1742.9 871.8L1741.7 868.9L1740.5 866L1739.2 863.1L1737.9 860.3L1736.5 857.5L1735 854.6L1733.5 851.8L1731.9 849L1730.1 846.3L1728.4 843.5L1726.6 840.7L1724.9 837.9L1723 835.2L1721.1 832.4L1719.1 829.6L1716.9 826.8L1714.6 824.1L1712.1 821.4L1709.4 818.8L1706.6 816.2L1703.4 813.8L1700 811.4L1696.3 809L1692.3 806.8L1688.1 804.6L1683.7 802.5L1679.3 800.4L1674.9 798.4L1670.5 796.5L1666.2 794.7L1662.1 792.9L1658.2 791.2L1654.6 789.6L1651.1 788L1647.9 786.6L1644.8 785.2L1641.8 784L1638.8 782.8L1636 781.6L1633.2 780.5L1630.4 779.4L1627.6 778.4L1624.8 777.4L1622 776.3L1619.1 775.3L1616.1 774.2L1613.2 773.1L1610.2 772.1L1607.3 771L1604.3 770L1601.4 769L1598.4 768L1595.4 767.1L1592.5 766.2L1589.5 765.3L1586.5 764.4L1583.6 763.5L1580.6 762.7L1577.6 761.9L1574.7 761.2L1571.7 760.5L1568.7 759.8L1565.8 759.1L1562.8 758.4L1559.9 757.8L1556.9 757.2L1553.9 756.6L1551 756L1548 755.5L1545.1 754.9L1542.2 754.4L1539.2 753.8L1536.3 753.3L1533.3 752.9L1530.4 752.4L1527.4 752L1524.5 751.6L1521.5 751.2L1518.5 750.9L1515.5 750.6L1512.4 750.4L1509.4 750.3L1506.4 750.2L1503.4 750.2L1500.4 750.2L1497.5 750.3L1494.5 750.4L1491.5 750.5L1488.4 750.7L1485.3 750.8L1482.2 750.9L1478.9 751.1L1475.6 751.2L1472.1 751.2L1468.6 751.3L1464.9 751.3L1461.2 751.4L1457.4 751.4L1453.5 751.5L1449.7 751.5L1445.8 751.6L1441.9 751.7L1438 751.8L1434.1 752L1430.3 752.2L1426.5 752.4L1422.7 752.6L1418.8 752.9L1415 753.1L1411.1 753.4L1407.2 753.8L1403.4 754.2L1399.6 754.6L1395.9 754.9L1392.2 755.3L1388.6 755.8L1385.1 756.2L1381.5 756.6L1377.8 757.1L1374.1 757.6L1370.3 758.2L1366.6 758.7L1363 759.3L1359.6 759.8L1356.4 760.3L1353.4 760.8L1350.8 761.2L1348.5 761.6L1346.7 761.9Z" fill="#6a6a6a"/>
<path d="M1790.3 778L1791.8 778.2L1793.7 778.6L1795.9 779L1798.3 779.4L1801 779.9L1803.8 780.4L1806.8 780.9L1809.9 781.4L1813 781.9L1816 782.4L1819 782.8L1821.9 783.2L1824.7 783.6L1827.4 783.9L1829.9 784.2L1832.5 784.4L1835.1 784.7L1837.8 784.9L1840.6 785.1L1843.6 785.4L1846.7 785.7L1850.2 786.1L1854 786.5L1858.1 786.9L1862.6 787.5L1867.5 788.1L1872.8 788.7L1878.3 789.3L1884.1 790L1890 790.7L1896 791.5L1902.1 792.2L1908.1 793L1914.2 793.8L1920.1 794.6L1925.8 795.4L1931.5 796.2L1937.3 797.1L1943.2 798L1949.2 798.9L1955.1 799.8L1961 800.8L1966.9 801.7L1972.6 802.6L1978.1 803.6L1983.5 804.5L1988.6 805.3L1993.5 806.1L1998 806.9L2002.3 807.6L2006.3 808.3L2010.2 809L2013.8 809.7L2017.4 810.3L2020.9 811L2024.3 811.6L2027.8 812.3L2031.3 813L2034.9 813.7L2038.5 814.4L2042.4 815.1L2046.2 815.9L2050.2 816.6L2054.1 817.3L2058.1 818.1L2062 818.9L2065.8 819.6L2069.6 820.4L2073.3 821.2L2076.9 821.9L2080.3 822.7L2083.6 823.5L2086.7 824.3L2089.7 825.1L2092.7 825.9L2095.5 826.7L2098.3 827.5L2100.9 828.3L2103.5 829.1L2105.9 830L2108.3 830.8L2110.6 831.6L2112.8 832.4L2114.9 833.2L2116.9 833.9L2118.7 834.6L2120.3 835.2L2121.9 835.8L2123.3 836.4L2124.6 836.9L2125.8 837.5L2127 838.2L2128.2 838.9L2129.5 839.7L2130.8 840.7L2132.1 841.7L2133.6 843L2135.1 844.3L2136.6 845.7L2138.1 847.2L2139.6 848.8L2141.1 850.5L2142.6 852.2L2144.1 854L2145.5 855.8L2146.9 857.7L2148.3 859.5L2149.6 861.5L2150.9 863.4L2152.1 865.4L2153.3 867.4L2154.5 869.5L2155.6 871.7L2156.7 873.9L2157.8 876.1L2158.9 878.4L2159.9 880.7L2160.9 883.1L2161.9 885.5L2162.8 888L2163.7 890.5L2164.6 893.1L2165.4 895.8L2166.3 898.6L2167.1 901.4L2167.8 904.2L2168.6 907.1L2169.3 910L2169.9 912.9L2170.6 915.7L2171.1 918.6L2171.7 921.4L2172.1 924.2L2172.6 926.9L2172.9 929.7L2173.3 932.5L2173.6 935.3L2173.9 938.1L2174.1 940.9L2174.3 943.7L2174.5 946.5L2174.7 949.3L2174.8 952.1L2175 954.9L2175.2 957.7L2175.3 960.5L2175.5 963.3L2175.6 966.1L2175.8 968.9L2175.8 971.7L2175.9 974.5L2175.9 977.3L2175.9 980.1L2175.8 982.9L2175.7 985.7L2175.6 988.4L2175.4 991.2L2175.2 994L2174.9 996.9L2174.6 999.7L2174.3 1002.5L2173.9 1005.3L2173.5 1008L2173 1010.8L2172.5 1013.6L2171.9 1016.4L2171.3 1019.2L2170.6 1022L2169.8 1024.9L2169 1027.8L2168 1030.7L2167.1 1033.7L2166 1036.7L2164.9 1039.6L2163.8 1042.5L2162.7 1045.4L2161.5 1048.2L2160.2 1050.9L2159 1053.4L2157.8 1055.8L2156.5 1058.1L2155.1 1060.4L2153.7 1062.5L2152.3 1064.6L2150.9 1066.6L2149.4 1068.6L2147.9 1070.4L2146.4 1072.2L2144.8 1073.8L2143.3 1075.4L2141.7 1076.9L2140.2 1078.3L2138.6 1079.6L2136.8 1080.8L2134.9 1081.9L2133 1083L2131.1 1083.9L2129.2 1084.8L2127.3 1085.6L2125.5 1086.3L2123.9 1087L2122.4 1087.6L2121.1 1088.1L2120.1 1088.6L2120.7 1089.9L2121.7 1089.4L2122.9 1088.9L2124.4 1088.4L2126.1 1087.8L2127.9 1087.1L2129.8 1086.3L2131.8 1085.4L2133.8 1084.5L2135.8 1083.5L2137.8 1082.4L2139.6 1081.1L2141.4 1079.8L2143 1078.4L2144.7 1076.9L2146.3 1075.3L2147.9 1073.6L2149.5 1071.8L2151.1 1069.9L2152.7 1068L2154.2 1066L2155.7 1063.9L2157.2 1061.7L2158.6 1059.4L2160 1057.1L2161.3 1054.6L2162.7 1052.1L2164 1049.4L2165.4 1046.6L2166.6 1043.7L2167.9 1040.8L2169.1 1037.8L2170.2 1034.8L2171.3 1031.9L2172.4 1028.9L2173.4 1025.9L2174.3 1023.1L2175.1 1020.2L2175.8 1017.4L2176.5 1014.5L2177.2 1011.7L2177.8 1008.8L2178.3 1005.9L2178.8 1003.1L2179.2 1000.2L2179.6 997.4L2179.9 994.5L2180.3 991.7L2180.6 988.8L2180.8 986L2181 983.1L2181.2 980.3L2181.3 977.4L2181.4 974.5L2181.4 971.7L2181.4 968.8L2181.4 966L2181.4 963.1L2181.3 960.3L2181.3 957.4L2181.2 954.6L2181 951.7L2180.9 948.9L2180.7 946.1L2180.5 943.2L2180.3 940.4L2180 937.5L2179.8 934.6L2179.4 931.8L2179.1 928.9L2178.7 926L2178.2 923.2L2177.7 920.3L2177.2 917.4L2176.6 914.5L2175.9 911.5L2175.2 908.6L2174.5 905.6L2173.8 902.7L2173 899.8L2172.1 896.9L2171.3 894L2170.4 891.2L2169.4 888.5L2168.5 885.9L2167.5 883.3L2166.5 880.8L2165.4 878.3L2164.4 875.9L2163.3 873.5L2162.1 871.2L2160.9 868.9L2159.7 866.6L2158.5 864.4L2157.2 862.3L2155.9 860.2L2154.6 858.1L2153.2 856.1L2151.7 854.1L2150.2 852.1L2148.7 850.2L2147.1 848.3L2145.5 846.5L2143.9 844.8L2142.3 843.1L2140.7 841.5L2139.1 839.9L2137.5 838.5L2135.9 837.2L2134.3 836L2132.8 834.9L2131.4 833.9L2129.9 833.1L2128.5 832.3L2127 831.6L2125.6 831L2124 830.3L2122.4 829.7L2120.7 829.1L2118.9 828.4L2116.9 827.7L2114.8 826.9L2112.6 826.1L2110.2 825.3L2107.8 824.4L2105.3 823.6L2102.7 822.8L2099.9 822L2097.1 821.1L2094.2 820.3L2091.2 819.5L2088.1 818.7L2084.9 817.9L2081.6 817.1L2078.1 816.3L2074.5 815.6L2070.8 814.8L2066.9 814L2063.1 813.3L2059.1 812.5L2055.2 811.8L2051.2 811L2047.3 810.3L2043.4 809.6L2039.6 808.9L2035.9 808.3L2032.3 807.6L2028.8 807L2025.3 806.4L2021.8 805.8L2018.3 805.2L2014.7 804.6L2011 804L2007.2 803.4L2003.1 802.7L1998.8 802.1L1994.2 801.4L1989.4 800.6L1984.2 799.9L1978.8 799L1973.3 798.2L1967.5 797.4L1961.7 796.5L1955.7 795.7L1949.8 794.9L1943.8 794L1937.9 793.2L1932 792.5L1926.3 791.7L1920.5 791L1914.6 790.3L1908.6 789.6L1902.5 789L1896.4 788.3L1890.3 787.6L1884.4 787L1878.6 786.4L1873.1 785.9L1867.8 785.3L1862.9 784.8L1858.4 784.4L1854.2 784L1850.4 783.6L1847 783.3L1843.8 783.1L1840.8 782.9L1838 782.7L1835.3 782.5L1832.7 782.3L1830.1 782.1L1827.6 781.9L1824.9 781.6L1822.2 781.3L1819.3 781L1816.3 780.6L1813.2 780.1L1810.1 779.7L1807.1 779.2L1804.1 778.8L1801.3 778.3L1798.6 777.9L1796.1 777.5L1793.9 777.1L1792 776.8L1790.5 776.6Z" fill="#6a6a6a"/>
<path d="M1661.1 742.9L1663 742.7L1665.5 742.3L1668.3 742L1671.5 741.6L1675 741.1L1678.6 740.7L1682.5 740.2L1686.4 739.7L1690.4 739.2L1694.3 738.8L1698.2 738.4L1701.8 738.1L1705.4 737.8L1709.1 737.5L1712.8 737.2L1716.6 737L1720.3 736.7L1724.1 736.5L1728 736.2L1731.8 736.1L1735.6 735.8L1739.4 735.7L1743.2 735.5L1746.9 735.4L1750.7 735.4L1754.4 735.3L1758.1 735.3L1761.8 735.4L1765.5 735.4L1769.2 735.5L1773 735.7L1776.7 735.8L1780.5 736L1784.2 736.2L1788.1 736.5L1791.9 736.8L1795.7 737.1L1799.4 737.5L1803.1 737.9L1806.8 738.3L1810.5 738.8L1814.3 739.3L1818.1 739.8L1822.1 740.3L1826.2 740.9L1830.5 741.5L1835 742L1839.7 742.6L1844.6 743.2L1849.6 743.8L1854.7 744.4L1860 745.1L1865.4 745.7L1870.9 746.4L1876.6 747.1L1882.5 747.8L1888.5 748.5L1894.6 749.3L1900.9 750.1L1907.4 750.9L1914.3 751.7L1921.5 752.7L1929 753.6L1936.7 754.5L1944.6 755.5L1952.6 756.5L1960.6 757.5L1968.5 758.5L1976.3 759.5L1983.8 760.4L1991 761.3L1997.8 762.2L2004.4 763L2010.7 763.8L2016.9 764.6L2023 765.4L2028.8 766.2L2034.6 766.9L2040.1 767.6L2045.5 768.4L2050.8 769.1L2055.9 769.8L2060.8 770.5L2065.6 771.2L2070.1 771.9L2074.4 772.5L2078.4 773.2L2082.3 773.8L2086 774.5L2089.5 775.1L2093 775.7L2096.5 776.4L2099.9 777L2103.4 777.7L2107 778.3L2110.7 779L2114.5 779.7L2118.2 780.5L2122 781.2L2125.8 781.9L2129.6 782.7L2133.4 783.4L2137.1 784.2L2140.9 785L2144.7 785.7L2148.4 786.5L2152.1 787.3L2155.9 788L2159.6 788.8L2163.5 789.6L2167.4 790.4L2171.3 791.2L2175.2 791.9L2179 792.7L2182.8 793.5L2186.5 794.3L2190 795.1L2193.3 795.9L2196.4 796.6L2199.2 797.4L2201.8 798.1L2204.1 798.8L2206.2 799.5L2208.1 800.1L2209.9 800.8L2211.5 801.4L2213.1 802.1L2214.6 802.8L2216.2 803.5L2217.7 804.3L2219.4 805.2L2221.2 806.2L2223.1 807.2L2224.9 808.2L2226.8 809.3L2228.6 810.4L2230.5 811.6L2232.3 812.8L2234.1 814.1L2235.9 815.4L2237.8 816.8L2239.6 818.3L2241.4 819.9L2243.2 821.5L2245.1 823.3L2247 825.2L2248.9 827.2L2250.8 829.3L2252.7 831.4L2254.6 833.6L2256.5 835.9L2258.4 838.2L2260.2 840.6L2262 843.1L2263.7 845.6L2265.4 848.1L2267.1 850.8L2268.7 853.5L2270.3 856.4L2271.9 859.3L2273.5 862.3L2275 865.3L2276.5 868.4L2278 871.5L2279.4 874.6L2280.7 877.7L2282.1 880.8L2283.3 883.8L2284.6 886.7L2285.7 889.7L2286.8 892.6L2287.9 895.6L2288.9 898.5L2289.9 901.5L2290.8 904.4L2291.7 907.4L2292.5 910.3L2293.4 913.4L2294.1 916.4L2294.9 919.4L2295.6 922.6L2296.3 925.8L2296.9 929.1L2297.5 932.5L2298 935.9L2298.5 939.3L2299 942.6L2299.4 945.9L2299.8 949L2300.2 952.1L2300.6 954.9L2300.9 957.6L2301.2 960L2301.5 962.1L2301.7 964L2301.9 965.8L2302.1 967.5L2302.2 969L2302.3 970.6L2302.4 972.2L2302.4 973.9L2302.4 975.7L2302.3 977.6L2302.3 979.8L2302.1 982.3L2302 984.9L2301.8 987.6L2301.6 990.4L2301.4 993.3L2301.1 996.3L2300.8 999.3L2300.4 1002.2L2299.9 1005.2L2299.4 1008L2298.8 1010.8L2298.1 1013.5L2297.4 1016.1L2296.5 1018.7L2295.6 1021.3L2294.6 1023.9L2293.5 1026.5L2292.4 1029L2291.3 1031.5L2290.1 1033.9L2288.8 1036.2L2287.5 1038.5L2286.3 1040.6L2285 1042.6L2283.7 1044.5L2282.4 1046.4L2281 1048.1L2279.6 1049.7L2278.2 1051.3L2276.7 1052.8L2275.2 1054.2L2273.7 1055.6L2272.2 1056.9L2270.6 1058.2L2269 1059.4L2267.3 1060.6L2265.6 1061.7L2263.6 1062.8L2261.6 1063.9L2259.4 1064.9L2257.3 1065.9L2255.1 1066.8L2253 1067.7L2251 1068.4L2249.1 1069.2L2247.5 1069.8L2246 1070.4L2244.9 1070.8L2245.5 1072.1L2246.6 1071.7L2248 1071.1L2249.6 1070.5L2251.5 1069.8L2253.5 1069.1L2255.7 1068.3L2257.9 1067.4L2260.1 1066.4L2262.3 1065.4L2264.5 1064.3L2266.5 1063.2L2268.3 1062.1L2270 1060.9L2271.7 1059.6L2273.3 1058.4L2275 1057L2276.6 1055.6L2278.1 1054.2L2279.6 1052.7L2281.1 1051.1L2282.6 1049.4L2284 1047.6L2285.4 1045.8L2286.8 1043.8L2288.2 1041.8L2289.5 1039.6L2290.8 1037.4L2292.1 1035L2293.4 1032.6L2294.6 1030L2295.8 1027.5L2296.9 1024.9L2298 1022.2L2299 1019.6L2299.9 1016.9L2300.8 1014.2L2301.5 1011.5L2302.2 1008.6L2302.8 1005.7L2303.3 1002.7L2303.8 999.7L2304.2 996.7L2304.5 993.7L2304.8 990.7L2305.1 987.9L2305.3 985.1L2305.5 982.5L2305.7 980L2305.8 977.8L2305.9 975.8L2306 973.9L2306 972.1L2306 970.4L2305.9 968.8L2305.8 967.2L2305.6 965.4L2305.5 963.6L2305.3 961.7L2305 959.5L2304.8 957.1L2304.5 954.5L2304.2 951.6L2303.9 948.6L2303.6 945.4L2303.2 942.1L2302.8 938.7L2302.3 935.3L2301.9 931.8L2301.3 928.4L2300.8 925L2300.2 921.6L2299.5 918.4L2298.8 915.3L2298.1 912.2L2297.3 909.1L2296.5 906L2295.7 903L2294.8 899.9L2293.8 896.9L2292.9 893.9L2291.8 890.8L2290.8 887.8L2289.6 884.8L2288.4 881.7L2287.2 878.6L2285.9 875.5L2284.5 872.3L2283.1 869.2L2281.6 866L2280.1 862.9L2278.5 859.7L2276.9 856.6L2275.3 853.6L2273.6 850.7L2271.9 847.8L2270.2 845L2268.4 842.4L2266.6 839.8L2264.8 837.2L2262.9 834.7L2260.9 832.3L2259 829.9L2257 827.6L2255 825.4L2253 823.3L2251.1 821.2L2249.1 819.3L2247.2 817.4L2245.2 815.6L2243.3 813.9L2241.3 812.3L2239.4 810.8L2237.5 809.4L2235.5 808L2233.6 806.8L2231.7 805.5L2229.7 804.4L2227.8 803.2L2225.9 802.2L2224 801.1L2222.2 800.1L2220.4 799.2L2218.7 798.3L2217.1 797.5L2215.4 796.8L2213.7 796L2211.9 795.3L2210 794.6L2208 794L2205.8 793.3L2203.4 792.5L2200.8 791.8L2197.8 791L2194.7 790.2L2191.3 789.4L2187.7 788.6L2184 787.8L2180.2 787L2176.4 786.2L2172.5 785.4L2168.5 784.6L2164.6 783.8L2160.8 783L2157.1 782.3L2153.3 781.5L2149.6 780.7L2145.9 779.9L2142.1 779.2L2138.3 778.4L2134.5 777.6L2130.7 776.9L2127 776.1L2123.2 775.4L2119.4 774.6L2115.6 773.9L2111.8 773.2L2108.1 772.5L2104.5 771.8L2101 771.1L2097.6 770.5L2094.1 769.8L2090.6 769.2L2087 768.6L2083.3 767.9L2079.4 767.3L2075.4 766.6L2071.1 765.9L2066.5 765.2L2061.7 764.5L2056.7 763.8L2051.6 763.1L2046.4 762.4L2040.9 761.6L2035.4 760.9L2029.6 760.1L2023.7 759.4L2017.7 758.6L2011.5 757.8L2005.1 757L1998.6 756.1L1991.8 755.2L1984.6 754.3L1977.1 753.4L1969.3 752.4L1961.4 751.4L1953.4 750.4L1945.4 749.4L1937.5 748.4L1929.7 747.4L1922.2 746.5L1915 745.6L1908.2 744.8L1901.7 744.1L1895.3 743.4L1889.1 742.7L1883.1 742L1877.3 741.3L1871.6 740.7L1866 740.1L1860.6 739.5L1855.3 738.9L1850.2 738.4L1845.2 737.8L1840.3 737.3L1835.6 736.7L1831.2 736.2L1826.9 735.6L1822.8 735.1L1818.8 734.6L1815 734.1L1811.2 733.7L1807.4 733.2L1803.7 732.8L1799.9 732.4L1796.1 732.1L1792.3 731.8L1788.4 731.6L1784.5 731.4L1780.7 731.2L1776.9 731L1773.1 730.9L1769.4 730.8L1765.6 730.7L1761.9 730.7L1758.1 730.7L1754.4 730.7L1750.6 730.8L1746.8 730.9L1743 731L1739.2 731.2L1735.3 731.4L1731.5 731.7L1727.7 732L1723.8 732.4L1720 732.8L1716.2 733.2L1712.5 733.7L1708.8 734.1L1705.1 734.6L1701.5 735L1697.8 735.5L1694 736L1690 736.6L1686.1 737.3L1682.2 737.9L1678.3 738.5L1674.7 739.2L1671.2 739.7L1668.1 740.3L1665.2 740.8L1662.8 741.2L1660.9 741.5Z" fill="#6a6a6a"/>
<path d="M1769.6 731.6L1771.8 731.3L1774.8 730.9L1778.2 730.5L1782.1 729.9L1786.3 729.4L1790.7 728.8L1795.2 728.2L1799.6 727.6L1803.9 727.1L1808 726.6L1811.7 726.2L1814.9 725.9L1817.7 725.6L1820.3 725.4L1822.6 725.2L1824.8 725.1L1826.9 725L1828.9 724.9L1830.8 724.9L1832.6 724.8L1834.4 724.8L1836.3 724.7L1838.2 724.6L1840.1 724.5L1842.1 724.4L1843.9 724.3L1845.7 724.2L1847.5 724.1L1849.2 724L1850.9 723.9L1852.6 723.9L1854.4 723.8L1856.3 723.8L1858.2 723.7L1860.3 723.7L1862.6 723.8L1864.9 723.8L1867.3 723.9L1869.7 723.9L1872.2 724L1874.7 724.1L1877.3 724.2L1880.1 724.3L1883 724.5L1886 724.7L1889.2 724.9L1892.6 725.2L1896.3 725.6L1900.2 726L1904.6 726.5L1909.3 727L1914.3 727.7L1919.4 728.3L1924.6 729L1929.7 729.7L1934.8 730.4L1939.8 731L1944.4 731.6L1948.8 732.2L1952.7 732.7L1956.3 733.1L1959.8 733.5L1963.1 733.9L1966.3 734.3L1969.3 734.6L1972.1 734.9L1974.7 735.2L1977.1 735.5L1979.2 735.7L1981.2 735.9L1982.9 736.1L1984.3 736.3L1985 730.1L1983.5 729.9L1981.8 729.7L1979.9 729.6L1977.7 729.3L1975.3 729.1L1972.7 728.9L1969.9 728.6L1966.9 728.3L1963.7 728L1960.4 727.6L1957 727.3L1953.4 726.9L1949.5 726.4L1945.1 725.9L1940.5 725.4L1935.5 724.8L1930.4 724.2L1925.2 723.5L1920 722.9L1914.9 722.3L1909.9 721.8L1905.2 721.2L1900.8 720.8L1896.7 720.4L1893.1 720.1L1889.6 719.9L1886.3 719.7L1883.3 719.5L1880.3 719.4L1877.5 719.3L1874.9 719.2L1872.3 719.1L1869.8 719.1L1867.4 719.1L1865 719.1L1862.6 719L1860.3 719L1858.2 719.1L1856.2 719.1L1854.3 719.2L1852.4 719.3L1850.6 719.4L1848.9 719.5L1847.2 719.6L1845.4 719.7L1843.6 719.8L1841.8 720L1839.9 720.1L1837.9 720.2L1836.1 720.3L1834.2 720.4L1832.4 720.5L1830.5 720.6L1828.6 720.8L1826.6 720.9L1824.5 721.1L1822.3 721.4L1819.9 721.7L1817.3 722L1814.5 722.4L1811.2 722.9L1807.6 723.5L1803.5 724.1L1799.2 724.9L1794.8 725.7L1790.3 726.5L1785.9 727.2L1781.8 728L1777.9 728.7L1774.5 729.3L1771.6 729.8L1769.4 730.2Z" fill="#6a6a6a"/>
<path d="M2140.5 749.1L2142.4 749.3L2144.6 749.5L2147.3 749.7L2150.2 750L2153.5 750.3L2156.9 750.6L2160.5 751L2164.2 751.4L2167.9 751.7L2171.7 752.1L2175.3 752.5L2178.9 753L2182.4 753.4L2186 753.8L2189.7 754.3L2193.4 754.8L2197.2 755.3L2201 755.8L2204.8 756.4L2208.7 756.9L2212.5 757.5L2216.4 758L2220.2 758.6L2224 759.1L2227.7 759.7L2231.5 760.3L2235.2 760.8L2239 761.4L2242.8 761.9L2246.5 762.5L2250.3 763L2254 763.6L2257.8 764.2L2261.5 764.8L2265.3 765.5L2269 766.2L2272.8 766.9L2276.6 767.6L2280.4 768.3L2284.1 769L2287.9 769.7L2291.7 770.4L2295.4 771.2L2299.1 772.1L2302.8 773L2306.5 774L2310.2 775.1L2313.8 776.4L2317.5 777.7L2321.3 779.2L2325.1 780.9L2329 782.6L2332.8 784.4L2336.7 786.3L2340.4 788.2L2344.1 790.1L2347.6 791.9L2350.9 793.7L2354 795.4L2356.9 797L2359.5 798.5L2361.8 799.8L2363.9 801L2365.9 802.2L2367.6 803.3L2369.3 804.4L2370.8 805.5L2372.3 806.7L2373.9 807.9L2375.5 809.3L2377.1 810.8L2378.9 812.5L2380.7 814.3L2382.6 816.2L2384.6 818.2L2386.5 820.4L2388.4 822.6L2390.4 824.8L2392.3 827.1L2394.1 829.5L2396 831.9L2397.7 834.3L2399.4 836.7L2401 839.1L2402.6 841.5L2404 844L2405.5 846.5L2406.9 849L2408.3 851.5L2409.6 854.1L2410.8 856.7L2412.1 859.4L2413.2 862L2414.3 864.7L2415.4 867.4L2416.5 870.2L2417.4 873L2418.4 875.9L2419.3 878.9L2420.1 881.9L2420.9 885L2421.7 888.1L2422.4 891.2L2423.1 894.3L2423.7 897.3L2424.3 900.2L2424.8 903.1L2425.3 905.9L2425.7 908.5L2426.1 911L2426.4 913.5L2426.7 915.8L2426.9 918.1L2427.1 920.4L2427.3 922.7L2427.4 925L2427.4 927.3L2427.5 929.7L2427.5 932.1L2427.4 934.7L2427.4 937.3L2427.4 940L2427.3 942.7L2427.2 945.5L2427 948.3L2426.9 951.1L2426.6 954L2426.4 956.8L2426 959.7L2425.7 962.5L2425.3 965.4L2424.8 968.2L2424.3 971L2423.7 973.8L2423.1 976.7L2422.4 979.6L2421.7 982.4L2420.9 985.3L2420.1 988.1L2419.2 991L2418.3 993.8L2417.4 996.5L2416.4 999.2L2415.4 1001.9L2414.4 1004.5L2413.3 1007.2L2412.2 1009.8L2411 1012.4L2409.8 1014.9L2408.6 1017.5L2407.3 1019.9L2405.9 1022.4L2404.6 1024.7L2403.2 1027L2401.8 1029.2L2400.3 1031.3L2398.8 1033.4L2397.1 1035.4L2395.2 1037.5L2393.3 1039.5L2391.4 1041.4L2389.4 1043.3L2387.5 1045.1L2385.7 1046.7L2384.1 1048.3L2382.6 1049.6L2381.3 1050.8L2380.3 1051.8L2381.3 1052.8L2382.3 1051.8L2383.6 1050.7L2385.1 1049.4L2386.8 1047.9L2388.7 1046.3L2390.6 1044.6L2392.6 1042.7L2394.6 1040.8L2396.6 1038.8L2398.6 1036.8L2400.4 1034.7L2402 1032.6L2403.6 1030.4L2405.1 1028.2L2406.6 1026L2408 1023.6L2409.5 1021.2L2410.9 1018.7L2412.3 1016.2L2413.6 1013.6L2414.9 1011.1L2416.2 1008.5L2417.4 1005.8L2418.6 1003.2L2419.7 1000.5L2420.8 997.8L2421.9 995L2422.9 992.2L2423.9 989.3L2424.8 986.5L2425.7 983.6L2426.6 980.7L2427.4 977.8L2428.2 974.9L2428.9 972L2429.6 969.1L2430.2 966.2L2430.7 963.3L2431.2 960.4L2431.7 957.5L2432.1 954.6L2432.4 951.7L2432.7 948.8L2433 945.9L2433.2 943.1L2433.4 940.3L2433.6 937.5L2433.7 934.8L2433.7 932.2L2433.7 929.6L2433.7 927.2L2433.6 924.7L2433.5 922.3L2433.3 920L2433.1 917.6L2432.8 915.1L2432.5 912.7L2432.2 910.2L2431.8 907.5L2431.3 904.8L2430.8 902L2430.3 899.1L2429.7 896.1L2429 893L2428.3 889.9L2427.6 886.7L2426.8 883.5L2425.9 880.4L2425 877.2L2424.1 874.1L2423.1 871.1L2422.1 868.2L2421 865.3L2419.8 862.5L2418.7 859.7L2417.4 856.9L2416.1 854.2L2414.8 851.5L2413.4 848.8L2412 846.2L2410.6 843.6L2409 841L2407.5 838.5L2405.9 836L2404.2 833.4L2402.4 830.9L2400.6 828.5L2398.7 826L2396.7 823.5L2394.7 821.2L2392.7 818.8L2390.7 816.5L2388.7 814.4L2386.7 812.3L2384.7 810.3L2382.8 808.4L2380.9 806.6L2379.2 805.1L2377.5 803.6L2375.8 802.3L2374.1 801L2372.4 799.8L2370.7 798.6L2368.8 797.4L2366.8 796.2L2364.6 795L2362.2 793.6L2359.6 792.2L2356.7 790.6L2353.5 788.9L2350.1 787.1L2346.6 785.2L2342.9 783.3L2339.1 781.4L2335.2 779.6L2331.2 777.7L2327.3 775.9L2323.3 774.3L2319.4 772.7L2315.6 771.3L2311.8 770.1L2308 769L2304.2 767.9L2300.3 767L2296.5 766.1L2292.7 765.3L2288.9 764.6L2285.1 763.9L2281.3 763.2L2277.5 762.5L2273.7 761.9L2269.9 761.2L2266.2 760.5L2262.4 759.8L2258.6 759.2L2254.8 758.6L2251 758.1L2247.2 757.5L2243.4 757L2239.7 756.5L2235.9 756.1L2232.1 755.6L2228.3 755.1L2224.6 754.7L2220.8 754.2L2216.9 753.7L2213.1 753.3L2209.2 752.8L2205.3 752.3L2201.5 751.9L2197.7 751.5L2193.9 751L2190.1 750.6L2186.4 750.3L2182.8 749.9L2179.2 749.5L2175.7 749.2L2172 748.9L2168.2 748.6L2164.5 748.3L2160.7 748L2157.1 747.8L2153.7 747.5L2150.5 747.3L2147.5 747.1L2144.8 746.9L2142.6 746.7L2140.7 746.6Z" fill="#6a6a6a"/>
<path d="M2185.1 743.5L2187 743.7L2189.3 743.9L2192 744.1L2195.1 744.3L2198.4 744.5L2201.9 744.8L2205.6 745.1L2209.3 745.4L2213.1 745.7L2216.8 746L2220.4 746.4L2223.9 746.7L2227.2 747.1L2230.6 747.5L2234 748L2237.4 748.4L2240.9 748.9L2244.4 749.4L2247.9 749.9L2251.3 750.4L2254.8 750.8L2258.2 751.3L2261.6 751.7L2265 752.2L2268.5 752.6L2272.1 753L2275.8 753.4L2279.6 753.8L2283.3 754.2L2287 754.6L2290.5 755L2293.9 755.3L2296.9 755.6L2299.6 755.9L2301.9 756.2L2303.8 756.4L2304.2 752.6L2302.3 752.5L2300 752.2L2297.3 752L2294.2 751.7L2290.9 751.4L2287.4 751L2283.7 750.7L2279.9 750.3L2276.2 750L2272.4 749.6L2268.8 749.2L2265.4 748.8L2262 748.5L2258.7 748.1L2255.2 747.6L2251.8 747.2L2248.3 746.7L2244.8 746.3L2241.3 745.8L2237.8 745.4L2234.4 745L2230.9 744.6L2227.5 744.2L2224.1 743.9L2220.7 743.5L2217.1 743.2L2213.3 742.9L2209.6 742.7L2205.8 742.4L2202.1 742.1L2198.6 741.9L2195.3 741.7L2192.2 741.5L2189.5 741.3L2187.2 741.2L2185.3 741.1Z" fill="#6a6a6a"/>
<path d="M962.3 527.7L962.6 528.9L963 530.3L963.4 531.8L963.9 533.5L964.5 535.4L965 537.5L965.6 539.8L966.2 542.3L966.8 545.1L967.4 548.1L968 551.3L968.6 554.8L969.1 558.7L969.7 562.9L970.2 567.5L970.7 572.4L971.3 577.5L971.8 582.8L972.4 588.2L972.9 593.8L973.5 599.4L974.2 605L974.9 610.5L975.7 615.9L976.6 621.4L977.4 627.1L978.4 633L979.3 638.9L980.3 644.9L981.3 650.9L982.3 656.8L983.3 662.6L984.3 668.3L985.2 673.7L986.2 678.9L987 683.8L987.9 688.4L988.7 692.9L989.6 697.1L990.4 701.2L991.2 705.1L992 708.9L992.8 712.5L993.5 716L994.2 719.4L994.9 722.7L995.5 725.9L996.1 729L996.7 732L997.3 735L997.8 737.8L998.3 740.5L998.8 743.1L999.2 745.5L999.6 747.9L999.9 750.2L1000.2 752.3L1000.5 754.4L1000.8 756.3L1001 758.1L1001.1 759.8L1001.3 761.3L1001.3 762.7L1001.4 764L1001.4 765.1L1001.3 766.1L1001.3 767.1L1001.2 768L1001.1 768.9L1001 769.7L1000.9 770.6L1000.7 771.4L1000.6 772.2L1000.3 772.9L1000.1 773.6L999.8 774.2L999.5 774.8L999.2 775.4L998.9 776L998.6 776.4L998.3 776.9L998 777.3L997.8 777.7L997.6 778L998.8 778.7L999 778.4L999.2 778.1L999.5 777.7L999.8 777.3L1000.2 776.8L1000.6 776.2L1000.9 775.6L1001.3 775L1001.7 774.3L1002 773.5L1002.3 772.7L1002.5 771.8L1002.7 770.9L1002.9 770.1L1003.1 769.2L1003.2 768.3L1003.4 767.3L1003.5 766.3L1003.6 765.2L1003.7 764L1003.7 762.7L1003.7 761.2L1003.7 759.7L1003.6 757.9L1003.5 756.1L1003.4 754.1L1003.2 752L1003 749.8L1002.8 747.5L1002.5 745.1L1002.3 742.6L1002 739.9L1001.6 737.2L1001.2 734.3L1000.8 731.3L1000.4 728.3L999.8 725.1L999.2 721.9L998.5 718.5L997.8 715.1L997.1 711.6L996.3 708L995.5 704.2L994.7 700.3L993.9 696.3L993 692L992.2 687.6L991.3 683L990.5 678.2L989.5 673L988.6 667.5L987.6 661.9L986.6 656.1L985.6 650.2L984.6 644.2L983.6 638.2L982.7 632.3L981.8 626.5L980.9 620.8L980 615.3L979.3 609.9L978.5 604.4L977.8 598.8L977 593.3L976.2 587.8L975.5 582.3L974.8 577.1L974.1 572L973.4 567.1L972.7 562.5L972 558.3L971.3 554.4L970.7 550.8L970 547.5L969.2 544.5L968.5 541.7L967.8 539.2L967.1 536.9L966.5 534.8L965.9 532.9L965.3 531.3L964.9 529.7L964.4 528.4L964.1 527.2Z" fill="#6a6a6a"/>
<path d="M973.6 525.5L973.9 526.8L974.4 528.3L974.9 530L975.4 532L976 534.1L976.6 536.4L977.3 538.9L978 541.7L978.7 544.7L979.5 547.8L980.2 551.3L980.9 554.9L981.7 558.9L982.4 563.2L983.2 567.8L984 572.7L984.8 577.8L985.7 583.1L986.5 588.5L987.4 594L988.3 599.6L989.2 605.1L990.2 610.7L991.3 616.1L992.3 621.6L993.5 627.3L994.6 633.1L995.8 639.1L997 645L998.3 651L999.5 656.9L1000.6 662.8L1001.8 668.4L1002.9 673.8L1003.9 679L1004.8 683.9L1005.7 688.5L1006.5 692.9L1007.3 697.2L1008.1 701.3L1008.8 705.2L1009.5 709L1010.1 712.7L1010.7 716.2L1011.3 719.5L1011.8 722.8L1012.3 725.9L1012.8 729L1013.3 731.9L1013.7 734.6L1014.1 737.2L1014.4 739.6L1014.7 742L1014.9 744.2L1015.1 746.3L1015.3 748.3L1015.5 750.3L1015.6 752.2L1015.7 754L1015.8 755.8L1015.9 757.5L1015.9 759.1L1015.9 760.6L1015.9 762L1015.9 763.3L1015.8 764.5L1015.7 765.7L1015.6 766.9L1015.5 768L1015.4 769.2L1015.3 770.3L1015.1 771.4L1014.9 772.5L1014.7 773.5L1014.5 774.5L1014.3 775.5L1014 776.5L1013.8 777.5L1013.5 778.4L1013.2 779.3L1012.9 780.1L1012.6 781L1012.3 781.8L1012.1 782.6L1011.8 783.3L1011.5 784.1L1011.2 784.8L1010.9 785.5L1010.6 786.2L1010.3 786.9L1010 787.5L1009.7 788.1L1009.5 788.6L1009.3 789.1L1009.1 789.5L1008.9 789.8L1010.2 790.4L1010.3 790.1L1010.5 789.7L1010.8 789.3L1011.1 788.7L1011.4 788.2L1011.7 787.6L1012.1 786.9L1012.4 786.2L1012.8 785.5L1013.1 784.8L1013.5 784L1013.8 783.2L1014.1 782.4L1014.4 781.6L1014.7 780.8L1015.1 779.9L1015.4 779L1015.8 778.1L1016.1 777.1L1016.4 776.1L1016.7 775.1L1017 774L1017.3 772.9L1017.5 771.8L1017.7 770.7L1017.9 769.5L1018.1 768.4L1018.3 767.2L1018.5 766L1018.6 764.8L1018.8 763.5L1018.9 762.1L1019 760.7L1019 759.1L1019.1 757.5L1019.1 755.7L1019.1 753.9L1019.1 752L1019 750.1L1019 748.1L1018.9 746.1L1018.8 743.9L1018.7 741.6L1018.6 739.2L1018.4 736.7L1018.1 734.1L1017.9 731.3L1017.5 728.3L1017.2 725.2L1016.7 722L1016.2 718.7L1015.6 715.3L1015 711.8L1014.4 708.1L1013.7 704.3L1013 700.4L1012.2 696.3L1011.4 692L1010.6 687.6L1009.7 683L1008.8 678.1L1007.8 672.9L1006.7 667.4L1005.5 661.8L1004.4 655.9L1003.1 650L1001.9 644L1000.7 638.1L999.5 632.1L998.4 626.3L997.2 620.6L996.2 615.2L995.1 609.7L994.1 604.2L993 598.7L991.9 593.2L990.8 587.7L989.7 582.3L988.7 577.1L987.7 572L986.7 567.1L985.7 562.5L984.8 558.2L983.9 554.3L983 550.6L982.1 547.2L981.3 544L980.4 541L979.6 538.3L978.9 535.8L978.1 533.4L977.4 531.3L976.8 529.4L976.3 527.8L975.8 526.3L975.4 525Z" fill="#6a6a6a"/>
<path d="M1607.2 506.3L1607.7 507.5L1608.3 508.9L1609 510.4L1609.8 512.2L1610.6 514.1L1611.6 516.2L1612.5 518.5L1613.4 521L1614.3 523.6L1615.2 526.3L1616.1 529.2L1616.8 532.3L1617.6 535.6L1618.3 539.1L1619 542.9L1619.7 546.8L1620.3 551L1621 555.2L1621.6 559.6L1622.3 564.1L1623 568.6L1623.6 573.1L1624.3 577.6L1624.9 582.1L1625.7 586.6L1626.4 591.2L1627.2 596L1627.9 600.8L1628.7 605.7L1629.4 610.6L1630.2 615.5L1630.9 620.3L1631.7 625.1L1632.4 629.7L1633.2 634.3L1634 638.6L1634.7 642.8L1635.5 647L1636.3 651.2L1637.1 655.2L1637.9 659.2L1638.7 663.1L1639.5 666.9L1640.2 670.6L1641 674.1L1641.7 677.5L1642.4 680.8L1643 683.9L1643.6 686.8L1644.2 689.6L1644.8 692.3L1645.4 694.8L1645.9 697.2L1646.4 699.5L1646.9 701.6L1647.4 703.6L1647.8 705.6L1648.2 707.4L1648.6 709.2L1648.9 710.8L1649.1 712.4L1649.3 713.9L1649.5 715.2L1649.6 716.3L1649.7 717.4L1649.8 718.4L1649.8 719.3L1649.8 720.1L1649.7 721L1649.6 721.8L1649.4 722.7L1649.2 723.7L1648.9 724.6L1648.6 725.6L1648.3 726.6L1647.9 727.5L1647.4 728.4L1646.9 729.3L1646.4 730.3L1645.8 731.1L1645.2 732L1644.5 732.9L1643.8 733.7L1643.1 734.5L1642.3 735.2L1641.5 736L1640.6 736.7L1639.6 737.4L1638.6 738.1L1637.6 738.8L1636.6 739.4L1635.5 740L1634.4 740.7L1633.3 741.3L1632.2 741.9L1631.1 742.4L1630 743L1628.9 743.5L1627.6 744L1626.3 744.5L1625 745L1623.8 745.5L1622.5 746L1621.3 746.4L1620.3 746.8L1619.3 747.1L1618.5 747.4L1617.8 747.6L1618.3 749L1618.9 748.8L1619.7 748.5L1620.7 748.2L1621.8 747.9L1623 747.5L1624.3 747.1L1625.6 746.7L1627 746.2L1628.3 745.8L1629.6 745.3L1630.9 744.8L1632 744.3L1633.2 743.7L1634.3 743.2L1635.4 742.6L1636.6 742L1637.7 741.4L1638.8 740.8L1640 740.1L1641 739.5L1642.1 738.7L1643.1 738L1644.1 737.2L1645 736.4L1645.8 735.5L1646.6 734.7L1647.4 733.8L1648.1 732.8L1648.8 731.9L1649.5 730.9L1650.1 729.9L1650.7 728.9L1651.2 727.8L1651.6 726.7L1652 725.7L1652.4 724.6L1652.7 723.5L1652.9 722.5L1653.1 721.4L1653.3 720.4L1653.3 719.4L1653.4 718.3L1653.4 717.2L1653.3 716L1653.2 714.8L1653.1 713.4L1652.9 711.9L1652.7 710.3L1652.5 708.5L1652.2 706.7L1651.9 704.8L1651.5 702.8L1651.1 700.7L1650.7 698.5L1650.2 696.2L1649.6 693.8L1649.1 691.3L1648.5 688.7L1647.9 685.9L1647.3 683L1646.7 679.9L1646 676.6L1645.3 673.2L1644.5 669.7L1643.8 666L1643 662.2L1642.2 658.3L1641.4 654.4L1640.6 650.3L1639.8 646.2L1639 642.1L1638.3 637.8L1637.5 633.5L1636.8 629L1636 624.4L1635.3 619.6L1634.5 614.8L1633.8 609.9L1633 605L1632.2 600.1L1631.5 595.3L1630.7 590.5L1630 585.9L1629.2 581.4L1628.4 576.9L1627.5 572.4L1626.7 567.9L1625.9 563.5L1625.1 559L1624.3 554.7L1623.4 550.4L1622.6 546.3L1621.8 542.3L1620.9 538.5L1620.1 535L1619.2 531.7L1618.3 528.6L1617.3 525.6L1616.3 522.9L1615.3 520.2L1614.2 517.8L1613.2 515.5L1612.2 513.4L1611.3 511.5L1610.4 509.8L1609.7 508.2L1609 506.9L1608.5 505.7Z" fill="#6a6a6a"/>
<path d="M1619.6 505.1L1620.2 506.4L1620.8 507.9L1621.6 509.6L1622.5 511.5L1623.4 513.5L1624.4 515.8L1625.4 518.2L1626.4 520.7L1627.4 523.4L1628.4 526.3L1629.3 529.3L1630.1 532.4L1630.9 535.8L1631.6 539.4L1632.4 543.3L1633.1 547.5L1633.8 551.7L1634.5 556.1L1635.2 560.6L1635.9 565.1L1636.7 569.6L1637.4 574L1638.2 578.2L1639 582.3L1639.9 586.3L1640.8 590.2L1641.7 594.1L1642.6 598L1643.5 601.8L1644.4 605.6L1645.3 609.4L1646.2 613.1L1647 616.8L1647.8 620.4L1648.6 624L1649.3 627.5L1650 630.9L1650.7 634.3L1651.3 637.6L1651.9 641L1652.5 644.2L1653.1 647.4L1653.6 650.6L1654.2 653.7L1654.7 656.8L1655.2 659.8L1655.7 662.8L1656.2 665.8L1656.7 668.7L1657.2 671.6L1657.7 674.4L1658.1 677.2L1658.6 680L1659 682.7L1659.5 685.3L1660 687.9L1660.5 690.4L1660.9 692.8L1661.3 695.1L1661.6 697.3L1662 699.4L1662.3 701.3L1662.6 703.2L1662.8 705L1663.1 706.7L1663.3 708.3L1663.5 709.9L1663.7 711.4L1663.8 712.9L1663.9 714.4L1664 715.9L1664 717.3L1664 718.8L1664 720.2L1663.9 721.6L1663.8 723L1663.7 724.4L1663.5 725.7L1663.3 727L1663.1 728.3L1662.9 729.5L1662.7 730.7L1662.5 731.9L1662.3 732.9L1662 734L1661.8 735L1661.5 735.9L1661.2 736.9L1660.9 737.7L1660.6 738.6L1660.3 739.4L1660.1 740.1L1659.8 740.8L1659.6 741.4L1659.4 742L1659.2 742.4L1660.5 742.9L1660.7 742.5L1660.9 742L1661.2 741.4L1661.5 740.7L1661.8 740L1662.2 739.2L1662.5 738.4L1662.9 737.4L1663.2 736.5L1663.6 735.5L1663.9 734.5L1664.2 733.4L1664.5 732.3L1664.8 731.2L1665.1 730L1665.3 728.7L1665.6 727.5L1665.9 726.1L1666.1 724.8L1666.4 723.3L1666.6 721.9L1666.7 720.4L1666.9 718.9L1667 717.4L1667 715.8L1667 714.3L1667 712.8L1667 711.2L1666.9 709.6L1666.8 708L1666.7 706.3L1666.5 704.6L1666.3 702.8L1666.2 700.8L1666 698.8L1665.7 696.7L1665.5 694.5L1665.2 692.1L1665 689.7L1664.7 687.2L1664.3 684.6L1664 681.9L1663.6 679.2L1663.1 676.4L1662.7 673.6L1662.2 670.7L1661.7 667.8L1661.2 664.9L1660.7 662L1660.3 659L1659.8 656L1659.3 652.9L1658.7 649.7L1658.2 646.5L1657.7 643.3L1657.1 640L1656.5 636.7L1655.9 633.3L1655.2 629.9L1654.5 626.4L1653.8 622.9L1653.1 619.3L1652.3 615.6L1651.4 611.9L1650.6 608.2L1649.7 604.4L1648.8 600.6L1648 596.8L1647.1 592.9L1646.2 589L1645.3 585.1L1644.5 581.1L1643.7 577.1L1642.8 572.9L1641.8 568.6L1640.9 564.2L1639.9 559.7L1639 555.3L1638 550.9L1637 546.7L1636 542.5L1635.1 538.6L1634.1 535L1633.1 531.6L1632 528.4L1630.9 525.4L1629.8 522.5L1628.6 519.8L1627.4 517.3L1626.2 514.9L1625.1 512.7L1624.1 510.7L1623.1 508.8L1622.2 507.2L1621.5 505.8L1620.9 504.6Z" fill="#6a6a6a"/>
<path d="M1995.8 595.5L1994.3 595.7L1992.5 595.9L1990.4 596.2L1987.9 596.4L1985.3 596.8L1982.5 597.1L1979.6 597.5L1976.6 598L1973.7 598.5L1970.8 599.1L1968.1 599.7L1965.6 600.6L1963.2 601.5L1960.9 602.6L1958.6 603.6L1956.4 604.8L1954.2 606L1952 607.3L1949.9 608.6L1947.8 609.9L1945.7 611.3L1943.7 612.7L1941.8 614.2L1939.9 615.7L1938.1 617.2L1936.3 618.8L1934.5 620.5L1932.8 622.2L1931.1 623.9L1929.5 625.7L1928 627.5L1926.5 629.3L1925.1 631.1L1923.7 633L1922.4 634.8L1921.2 636.7L1920 638.6L1918.9 640.5L1917.9 642.4L1916.9 644.3L1916 646.3L1915.1 648.3L1914.4 650.3L1913.7 652.3L1913 654.3L1912.5 656.4L1912.1 658.4L1911.7 660.4L1911.4 662.4L1911.3 664.4L1911.2 666.5L1911.2 668.5L1911.2 670.5L1911.4 672.6L1911.6 674.6L1911.9 676.6L1912.4 678.6L1912.8 680.6L1913.4 682.5L1914.1 684.5L1914.8 686.4L1915.7 688.3L1916.6 690.2L1917.6 692L1918.7 693.9L1919.9 695.7L1921.1 697.5L1922.5 699.2L1923.8 701L1925.3 702.6L1926.8 704.3L1928.3 705.9L1929.9 707.5L1931.7 709L1933.4 710.5L1935.3 711.9L1937.2 713.4L1939.2 714.7L1941.2 716.1L1943.2 717.4L1945.3 718.7L1947.4 719.9L1949.5 721.1L1951.6 722.3L1953.7 723.4L1955.9 724.5L1958.1 725.6L1960.3 726.7L1962.5 727.7L1964.8 728.7L1967.2 729.7L1969.5 730.6L1971.9 731.5L1974.3 732.3L1976.8 733.1L1979.3 733.8L1981.8 734.6L1984.4 735.2L1987 735.9L1989.7 736.5L1992.4 737L1995.1 737.5L1997.9 738L2000.6 738.4L2003.4 738.8L2006.1 739.2L2008.9 739.4L2011.6 739.7L2014.4 739.8L2017.3 739.9L2020.3 739.9L2023.3 739.8L2026.2 739.6L2029.2 739.4L2032 739.1L2034.7 738.8L2037.3 738.5L2039.7 738.2L2041.8 737.9L2043.6 737.7L2045.2 737.5L2046.6 737.3L2047.8 737.1L2048.9 736.8L2049.7 736.6L2050.5 736.4L2051.1 736.1L2051.6 735.9L2052 735.8L2052.4 735.6L2052.6 735.5L2052.9 735.4L2052 731.8L2051.6 731.9L2051.1 732L2050.7 732.2L2050.3 732.3L2049.9 732.4L2049.4 732.5L2048.8 732.7L2048.1 732.8L2047.2 732.9L2046.1 733L2044.8 733.1L2043.3 733.2L2041.4 733.2L2039.3 733.3L2036.9 733.4L2034.4 733.4L2031.7 733.5L2028.9 733.6L2026 733.6L2023.1 733.6L2020.2 733.6L2017.4 733.7L2014.6 733.6L2012 733.5L2009.4 733.2L2006.8 733L2004.2 732.7L2001.5 732.3L1998.9 731.9L1996.2 731.5L1993.6 731L1991 730.4L1988.4 729.9L1985.9 729.3L1983.4 728.6L1981 728L1978.6 727.3L1976.3 726.5L1974 725.7L1971.7 724.9L1969.4 724L1967.2 723.1L1965 722.1L1962.8 721.2L1960.7 720.1L1958.6 719.1L1956.5 718L1954.5 716.9L1952.4 715.8L1950.4 714.7L1948.4 713.5L1946.4 712.3L1944.5 711L1942.6 709.8L1940.7 708.5L1938.9 707.2L1937.2 705.8L1935.6 704.5L1934 703.1L1932.5 701.7L1931.1 700.2L1929.7 698.7L1928.4 697.2L1927.2 695.6L1926 694L1924.8 692.4L1923.8 690.7L1922.8 689.1L1921.9 687.4L1921 685.7L1920.3 684.1L1919.6 682.4L1919 680.7L1918.5 679L1918.1 677.3L1917.7 675.5L1917.5 673.8L1917.2 672L1917.1 670.2L1917 668.4L1917 666.6L1917.1 664.8L1917.3 663L1917.5 661.3L1917.8 659.5L1918.2 657.7L1918.7 655.9L1919.2 654.1L1919.8 652.3L1920.5 650.5L1921.3 648.7L1922.1 646.9L1923 645.1L1924 643.3L1925 641.5L1926.1 639.8L1927.2 638L1928.4 636.3L1929.7 634.6L1931 632.9L1932.4 631.2L1933.8 629.5L1935.3 627.8L1936.9 626.2L1938.5 624.6L1940.1 623L1941.8 621.5L1943.5 620.1L1945.3 618.7L1947.1 617.3L1949 616L1950.9 614.6L1952.9 613.4L1954.9 612.1L1956.9 610.9L1959 609.8L1961.1 608.7L1963.3 607.7L1965.4 606.7L1967.6 605.8L1969.8 604.9L1972.3 604L1974.9 603.1L1977.6 602.2L1980.4 601.4L1983.2 600.7L1985.9 600L1988.4 599.3L1990.8 598.7L1992.9 598.2L1994.7 597.7L1996.2 597.3Z" fill="#6a6a6a"/>
<path d="M2079.2 607.7L2078.1 608L2076.7 608.4L2075 608.9L2073.2 609.4L2071.1 609.9L2069 610.5L2066.7 611.2L2064.4 612L2062.2 612.8L2059.9 613.7L2057.7 614.7L2055.7 615.8L2053.7 616.9L2051.8 618.1L2049.9 619.4L2048 620.9L2046.2 622.4L2044.4 624L2042.6 625.6L2040.9 627.3L2039.2 628.9L2037.5 630.7L2036 632.4L2034.5 634.2L2033 635.9L2031.6 637.8L2030.2 639.7L2028.9 641.7L2027.6 643.7L2026.4 645.7L2025.2 647.7L2024.1 649.7L2023.1 651.7L2022.1 653.7L2021.2 655.6L2020.4 657.5L2019.7 659.4L2019.1 661.2L2018.6 663L2018.1 664.8L2017.7 666.6L2017.4 668.4L2017.1 670.2L2016.9 672L2016.8 673.7L2016.7 675.5L2016.8 677.3L2016.8 679.1L2017 680.9L2017.2 682.7L2017.4 684.5L2017.8 686.4L2018.2 688.2L2018.7 690L2019.2 691.8L2019.8 693.6L2020.5 695.4L2021.2 697.1L2021.9 698.9L2022.7 700.6L2023.6 702.2L2024.5 703.9L2025.5 705.5L2026.5 707.2L2027.6 708.8L2028.7 710.4L2029.9 712L2031.2 713.6L2032.5 715.2L2033.9 716.7L2035.4 718.1L2037 719.5L2038.6 720.9L2040.3 722.3L2042.1 723.6L2044 724.8L2045.9 726L2047.9 727.2L2049.9 728.4L2051.9 729.5L2054 730.6L2056.1 731.6L2058.2 732.6L2060.3 733.6L2062.4 734.5L2064.5 735.5L2066.7 736.4L2068.9 737.2L2071.1 738.1L2073.4 738.9L2075.7 739.6L2078.1 740.4L2080.5 741.1L2083 741.7L2085.5 742.3L2088 742.9L2090.7 743.4L2093.4 743.9L2096.2 744.3L2099 744.7L2101.9 745.1L2104.9 745.4L2107.8 745.7L2110.8 745.9L2113.8 746.1L2116.7 746.2L2119.6 746.3L2122.5 746.4L2125.4 746.3L2128.4 746.3L2131.3 746.1L2134.2 746L2137.2 745.7L2140.1 745.4L2143 745.1L2145.9 744.8L2148.7 744.4L2151.6 743.9L2154.3 743.5L2157 743L2159.7 742.4L2162.4 741.8L2165 741.2L2167.6 740.5L2170.1 739.8L2172.6 739L2175.1 738.2L2177.6 737.4L2180 736.5L2182.4 735.6L2184.7 734.7L2187 733.8L2189.3 732.8L2191.6 731.8L2193.9 730.7L2196.1 729.7L2198.3 728.6L2200.5 727.4L2202.6 726.3L2204.7 725L2206.7 723.8L2208.7 722.5L2210.7 721.2L2212.5 719.8L2214.3 718.3L2216 716.7L2217.7 715.1L2219.4 713.4L2221 711.8L2222.5 710.1L2224 708.4L2225.4 706.7L2226.7 705L2228 703.4L2229.1 701.8L2230.2 700.3L2231.2 698.8L2232 697.3L2232.8 695.8L2233.5 694.3L2234.1 692.8L2234.6 691.4L2235.1 690L2235.5 688.7L2235.9 687.4L2236.3 686.1L2236.7 684.9L2237 683.8L2237.4 682.6L2237.6 681.4L2237.8 680.2L2238 679.1L2238.1 678L2238.2 676.9L2238.3 675.9L2238.4 675L2238.4 674.1L2238.5 673.4L2238.5 672.8L2238.6 672.2L2237.1 672L2237 672.6L2236.9 673.2L2236.8 674L2236.7 674.8L2236.6 675.7L2236.5 676.7L2236.4 677.7L2236.2 678.8L2236 679.8L2235.7 680.9L2235.4 682L2235 683.1L2234.6 684.3L2234.2 685.4L2233.8 686.7L2233.3 687.9L2232.8 689.2L2232.2 690.4L2231.6 691.7L2230.9 693L2230.2 694.3L2229.3 695.6L2228.4 696.9L2227.4 698.2L2226.2 699.6L2225 701L2223.7 702.4L2222.2 703.9L2220.7 705.3L2219.2 706.8L2217.6 708.3L2215.9 709.7L2214.2 711.1L2212.5 712.4L2210.7 713.7L2208.9 714.9L2207.1 716.1L2205.3 717.3L2203.4 718.5L2201.5 719.7L2199.5 720.8L2197.5 721.9L2195.4 723L2193.3 724.1L2191.2 725.1L2189 726.1L2186.9 727.1L2184.6 728L2182.4 729L2180.2 729.9L2177.9 730.7L2175.5 731.5L2173.2 732.4L2170.8 733.1L2168.4 733.9L2165.9 734.6L2163.5 735.2L2161 735.8L2158.4 736.4L2155.9 736.9L2153.2 737.4L2150.6 737.9L2147.8 738.3L2145.1 738.7L2142.3 739.1L2139.5 739.4L2136.6 739.7L2133.8 739.9L2131 740.1L2128.1 740.2L2125.3 740.3L2122.5 740.3L2119.8 740.3L2116.9 740.2L2114.1 740.1L2111.2 739.9L2108.3 739.7L2105.5 739.4L2102.6 739.1L2099.8 738.8L2097.1 738.4L2094.4 738L2091.8 737.5L2089.2 737L2086.8 736.5L2084.4 735.9L2082.1 735.3L2079.8 734.7L2077.5 734L2075.3 733.2L2073.2 732.5L2071 731.7L2068.9 730.9L2066.9 730L2064.8 729.1L2062.7 728.2L2060.7 727.3L2058.7 726.3L2056.7 725.3L2054.7 724.3L2052.8 723.2L2050.9 722.1L2049 721L2047.2 719.9L2045.5 718.7L2043.9 717.6L2042.3 716.4L2040.8 715.1L2039.5 713.9L2038.1 712.6L2036.9 711.2L2035.7 709.9L2034.5 708.4L2033.4 707L2032.4 705.5L2031.4 704L2030.5 702.5L2029.6 701L2028.7 699.5L2028 698L2027.2 696.4L2026.5 694.9L2025.9 693.3L2025.3 691.7L2024.7 690.1L2024.3 688.4L2023.8 686.8L2023.5 685.2L2023.1 683.6L2022.9 681.9L2022.7 680.3L2022.6 678.7L2022.5 677.2L2022.5 675.6L2022.6 674L2022.7 672.5L2022.8 670.9L2023 669.3L2023.3 667.8L2023.7 666.2L2024.1 664.6L2024.6 663L2025.1 661.3L2025.8 659.6L2026.5 657.9L2027.3 656.1L2028.2 654.3L2029.1 652.4L2030.2 650.5L2031.3 648.6L2032.4 646.7L2033.6 644.8L2034.9 643L2036.2 641.2L2037.5 639.5L2038.8 637.8L2040.2 636.1L2041.7 634.5L2043.2 632.9L2044.8 631.3L2046.5 629.7L2048.1 628.2L2049.8 626.7L2051.6 625.3L2053.3 623.9L2055 622.5L2056.7 621.2L2058.3 620L2060 618.9L2061.9 617.8L2063.9 616.8L2066 615.8L2068.1 614.8L2070.2 613.9L2072.2 613.1L2074.1 612.3L2075.9 611.7L2077.6 611L2078.9 610.5L2080 610Z" fill="#6a6a6a"/>
<path d="M2238.5 682.8L2239.2 683.5L2240 684.4L2241 685.4L2242.1 686.5L2243.3 687.7L2244.6 689L2245.9 690.4L2247.2 691.8L2248.6 693.3L2249.9 694.9L2251.2 696.4L2252.4 698L2253.6 699.7L2254.9 701.4L2256.1 703.3L2257.4 705.2L2258.7 707.2L2260 709.2L2261.4 711.2L2262.7 713.1L2264.1 715.1L2265.4 717L2266.6 718.8L2267.8 720.6L2269 722.4L2270.1 724.2L2271.2 725.9L2272.2 727.7L2273.3 729.4L2274.3 731.2L2275.2 732.9L2276.1 734.5L2277 736.1L2277.9 737.7L2278.7 739.2L2279.4 740.6L2280.1 742L2280.8 743.4L2281.4 744.7L2282 746L2282.5 747.3L2283 748.5L2283.5 749.6L2283.9 750.7L2284.3 751.7L2284.7 752.6L2285 753.3L2285.3 754L2287.6 753L2287.3 752.4L2287.1 751.7L2286.8 750.8L2286.4 749.8L2286 748.7L2285.6 747.5L2285.1 746.2L2284.6 744.9L2284 743.6L2283.4 742.2L2282.8 740.7L2282.1 739.3L2281.4 737.8L2280.7 736.3L2279.9 734.6L2279 733L2278.2 731.3L2277.3 729.5L2276.3 727.7L2275.3 725.9L2274.3 724.1L2273.3 722.2L2272.2 720.4L2271.1 718.6L2270 716.7L2268.8 714.8L2267.5 712.8L2266.2 710.8L2264.9 708.7L2263.6 706.7L2262.1 704.8L2260.6 702.9L2259.1 701L2257.7 699.3L2256.3 697.6L2254.9 696L2253.5 694.5L2252 693L2250.5 691.5L2249 690.1L2247.5 688.7L2246.1 687.5L2244.7 686.3L2243.4 685.1L2242.2 684.1L2241.1 683.2L2240.2 682.5L2239.4 681.8Z" fill="#6a6a6a"/>
<path d="M2233.9 703.1L2234.5 703.8L2235.2 704.8L2236 705.8L2236.9 707L2237.9 708.3L2239 709.7L2240.1 711.1L2241.2 712.6L2242.3 714.1L2243.4 715.6L2244.4 717.1L2245.3 718.5L2246.2 719.9L2247.1 721.4L2248.1 722.9L2249.1 724.4L2250.2 725.9L2251.2 727.4L2252.2 729L2253.2 730.5L2254.1 732L2255 733.5L2255.9 734.9L2256.7 736.2L2257.5 737.6L2258.2 739L2258.9 740.4L2259.6 741.8L2260.3 743.1L2261 744.5L2261.6 745.8L2262.1 747L2262.6 748.1L2263.1 749.1L2263.5 749.9L2263.8 750.6L2266.1 749.6L2265.8 748.9L2265.5 748L2265.1 747L2264.6 745.9L2264.1 744.7L2263.6 743.3L2263 741.9L2262.4 740.5L2261.8 739L2261.1 737.5L2260.4 736L2259.7 734.6L2258.9 733.2L2258.1 731.7L2257.3 730.1L2256.4 728.6L2255.5 727L2254.6 725.3L2253.6 723.7L2252.6 722.1L2251.7 720.5L2250.7 719L2249.6 717.6L2248.5 716.2L2247.3 714.8L2246.1 713.4L2244.8 712.1L2243.5 710.7L2242.2 709.3L2240.9 708L2239.6 706.8L2238.5 705.7L2237.4 704.6L2236.4 703.7L2235.6 702.8L2235 702.2Z" fill="#6a6a6a"/>
<line x1="360.3" y1="440" x2="360.3" y2="874" stroke="#1a1a1a" stroke-width="2" stroke-linecap="butt"/>
<line x1="240" y1="548.5" x2="497" y2="532.7" stroke="#1a1a1a" stroke-width="1.9" stroke-linecap="butt"/>
<line x1="305" y1="620" x2="412.5" y2="612.2" stroke="#1a1a1a" stroke-width="1.9" stroke-linecap="butt"/>
<line x1="243" y1="1155" x2="308" y2="1146" stroke="#1a1a1a" stroke-width="1.9" stroke-linecap="butt"/>
<line x1="308" y1="1146" x2="427" y2="1129.5" stroke="#1a1a1a" stroke-width="1.9" stroke-linecap="butt"/>
<line x1="791" y1="1299.5" x2="955" y2="1268" stroke="#1a1a1a" stroke-width="1.9" stroke-linecap="butt"/>
<line x1="1941.3" y1="417" x2="1941.3" y2="487" stroke="#1a1a1a" stroke-width="1.9" stroke-linecap="butt"/>
<line x1="2547" y1="451" x2="2547" y2="921" stroke="#1a1a1a" stroke-width="2" stroke-linecap="butt"/>
<polyline points="360,439.8 1941,417 2546.6,451.4" fill="none" stroke="#ec1c24" stroke-width="7.9" stroke-linejoin="miter"/>
<line x1="241.8" y1="548" x2="241.8" y2="1155.5" stroke="#ec1c24" stroke-width="7.9" stroke-linecap="butt"/>
<line x1="309" y1="620" x2="309" y2="1146" stroke="#ec1c24" stroke-width="7.9" stroke-linecap="butt"/>
<line x1="306" y1="1145" x2="791" y2="1299.5" stroke="#ec1c24" stroke-width="7.9" stroke-linecap="butt"/>
<polyline points="679.8,523.5 744.5,797.3 1251.4,907.7" fill="none" stroke="#ec1c24" stroke-width="7.9" stroke-linejoin="miter"/>
<line x1="930.4" y1="930.3" x2="1440" y2="895.7" stroke="#ec1c24" stroke-width="7.9" stroke-linecap="butt"/>
<line x1="984.7" y1="563" x2="1620.3" y2="540.6" stroke="#ec1c24" stroke-width="7.9" stroke-linecap="butt"/>
<line x1="1638.4" y1="563.2" x2="1985.8" y2="542.8" stroke="#ec1c24" stroke-width="7.9" stroke-linecap="butt"/>
<line x1="1274" y1="836.5" x2="1855.8" y2="802.5" stroke="#ec1c24" stroke-width="7.9" stroke-linecap="butt"/>
<line x1="1385.2" y1="757.6" x2="1651.5" y2="817.2" stroke="#ec1c24" stroke-width="7.9" stroke-linecap="butt"/>
<line x1="1651.5" y1="813" x2="1651.5" y2="1101" stroke="#ec1c24" stroke-width="7.9" stroke-linecap="butt"/>
<line x1="2020.8" y1="671.7" x2="2235.6" y2="691.3" stroke="#ec1c24" stroke-width="7.9" stroke-linecap="butt"/>
<line x1="2116.9" y1="829.2" x2="2486" y2="796.9" stroke="#ec1c24" stroke-width="7.9" stroke-linecap="butt"/>
<line x1="558.8" y1="708" x2="558.8" y2="1173.6" stroke="#ec1c24" stroke-width="7.9" stroke-linecap="butt"/>
<line x1="369.4" y1="1041.3" x2="681.3" y2="1111.4" stroke="#ec1c24" stroke-width="7.9" stroke-linecap="butt"/>
<line x1="681.3" y1="979.6" x2="735.6" y2="976.5" stroke="#ec1c24" stroke-width="7.9" stroke-linecap="butt"/>
<line x1="1363.9" y1="1183.5" x2="1363.9" y2="1216" stroke="#ec1c24" stroke-width="8" stroke-linecap="butt"/>
<g transform="translate(1088.2 411.7) rotate(-0.5)" fill="#231f20" font-weight="700" font-size="66">
<text x="-1.9" y="0">3</text>
<polygon points="50.7,-47.6 59.5,-47.6 59.5,0 50.7,0 50.7,-38.6 41.3,-38.6 41.5,-41.5"/>
<text x="72.8" y="0">8</text>
<path d="M144.3 -27.7A15.5 16.1 0 1 0 144.3 -9.3M160.4 0V-34.5M160.4 -21.5A12.3 12.3 0 0 1 185 -21.5V0M185 -21.5A12.3 12.3 0 0 1 209.5 -21.5V0" fill="none" stroke="#231f20" stroke-width="4.8" stroke-linecap="butt"/>
</g>
<g transform="translate(2148.8 410) rotate(3.1)" fill="#231f20" font-weight="700" font-size="66">
<polygon points="9.4,-47.6 18.2,-47.6 18.2,0 9.4,0 9.4,-38.6 0,-38.6 0.2,-41.5"/>
<text x="31.6" y="0">6</text>
<text x="68.9" y="0">0</text>
<path d="M140.4 -27.7A15.5 16.1 0 1 0 140.4 -9.3M156.5 0V-34.5M156.5 -21.5A12.3 12.3 0 0 1 181.1 -21.5V0M181.1 -21.5A12.3 12.3 0 0 1 205.6 -21.5V0" fill="none" stroke="#231f20" stroke-width="4.8" stroke-linecap="butt"/>
</g>
<g transform="translate(1187.6 542.3) rotate(-4)" fill="#231f20" font-weight="700" font-size="66">
<polygon points="9.4,-47.6 18.2,-47.6 18.2,0 9.4,0 9.4,-38.6 0,-38.6 0.2,-41.5"/>
<text x="31.6" y="0">3</text>
<text x="68.9" y="0">0</text>
<path d="M140.4 -27.7A15.5 16.1 0 1 0 140.4 -9.3M156.5 0V-34.5M156.5 -21.5A12.3 12.3 0 0 1 181.1 -21.5V0M181.1 -21.5A12.3 12.3 0 0 1 205.6 -21.5V0" fill="none" stroke="#231f20" stroke-width="4.8" stroke-linecap="butt"/>
</g>
<g transform="translate(1703.5 548.7) rotate(-4)" fill="#231f20" font-weight="700" font-size="66">
<text x="-1.9" y="0">8</text>
<text x="35.5" y="0">5</text>
<path d="M106.9 -27.7A15.5 16.1 0 1 0 106.9 -9.3M123 0V-34.5M123 -21.5A12.3 12.3 0 0 1 147.6 -21.5V0M147.6 -21.5A12.3 12.3 0 0 1 172.1 -21.5V0" fill="none" stroke="#231f20" stroke-width="4.8" stroke-linecap="butt"/>
</g>
<g transform="translate(2044.7 654.8) rotate(4.6)" fill="#231f20" font-weight="700" font-size="66">
<text x="-1.9" y="0">3</text>
<text x="35.5" y="0">8</text>
<path d="M106.9 -27.7A15.5 16.1 0 1 0 106.9 -9.3M123 0V-34.5M123 -21.5A12.3 12.3 0 0 1 147.6 -21.5V0M147.6 -21.5A12.3 12.3 0 0 1 172.1 -21.5V0" fill="none" stroke="#231f20" stroke-width="4.8" stroke-linecap="butt"/>
</g>
<g transform="translate(2165.9 804.4) rotate(-4.4)" fill="#231f20" font-weight="700" font-size="66">
<text x="-1.9" y="0">8</text>
<text x="35.5" y="0">5</text>
<path d="M106.9 -27.7A15.5 16.1 0 1 0 106.9 -9.3M123 0V-34.5M123 -21.5A12.3 12.3 0 0 1 147.6 -21.5V0M147.6 -21.5A12.3 12.3 0 0 1 172.1 -21.5V0" fill="none" stroke="#231f20" stroke-width="4.8" stroke-linecap="butt"/>
</g>
<g transform="translate(1444.1 752.6) rotate(11.4)" fill="#231f20" font-weight="700" font-size="66">
<text x="-1.9" y="0">5</text>
<text x="35.5" y="0">5</text>
<path d="M106.9 -27.7A15.5 16.1 0 1 0 106.9 -9.3M123 0V-34.5M123 -21.5A12.3 12.3 0 0 1 147.6 -21.5V0M147.6 -21.5A12.3 12.3 0 0 1 172.1 -21.5V0" fill="none" stroke="#231f20" stroke-width="4.8" stroke-linecap="butt"/>
</g>
<g transform="translate(1248.5 827.7) rotate(-4.4)" fill="#231f20" font-weight="700" font-size="66">
<polygon points="9.4,-47.6 18.2,-47.6 18.2,0 9.4,0 9.4,-38.6 0,-38.6 0.2,-41.5"/>
<text x="31.6" y="0">3</text>
<text x="68.9" y="0">0</text>
<path d="M140.4 -27.7A15.5 16.1 0 1 0 140.4 -9.3M156.5 0V-34.5M156.5 -21.5A12.3 12.3 0 0 1 181.1 -21.5V0M181.1 -21.5A12.3 12.3 0 0 1 205.6 -21.5V0" fill="none" stroke="#231f20" stroke-width="4.8" stroke-linecap="butt"/>
</g>
<g transform="translate(899 806.3) rotate(11.5)" fill="#231f20" font-weight="700" font-size="66">
<polygon points="9.4,-47.6 18.2,-47.6 18.2,0 9.4,0 9.4,-38.6 0,-38.6 0.2,-41.5"/>
<polygon points="46.8,-47.6 55.6,-47.6 55.6,0 46.8,0 46.8,-38.6 37.4,-38.6 37.6,-41.5"/>
<text x="68.9" y="0">5</text>
<path d="M140.4 -27.7A15.5 16.1 0 1 0 140.4 -9.3M156.5 0V-34.5M156.5 -21.5A12.3 12.3 0 0 1 181.1 -21.5V0M181.1 -21.5A12.3 12.3 0 0 1 205.6 -21.5V0" fill="none" stroke="#231f20" stroke-width="4.8" stroke-linecap="butt"/>
</g>
<g transform="translate(892.9 922.3) rotate(-4.4)" fill="#231f20" font-weight="700" font-size="66">
<text x="-1.9" y="0">8</text>
<text x="35.5" y="0">5</text>
<path d="M106.9 -27.7A15.5 16.1 0 1 0 106.9 -9.3M123 0V-34.5M123 -21.5A12.3 12.3 0 0 1 147.6 -21.5V0M147.6 -21.5A12.3 12.3 0 0 1 172.1 -21.5V0" fill="none" stroke="#231f20" stroke-width="4.8" stroke-linecap="butt"/>
</g>
<g transform="translate(659.4 959) rotate(-3.4)" fill="#231f20" font-weight="700" font-size="66">
<text x="-1.9" y="0">9</text>
<path d="M69.5 -27.7A15.5 16.1 0 1 0 69.5 -9.3M85.6 0V-34.5M85.6 -21.5A12.3 12.3 0 0 1 110.1 -21.5V0M110.1 -21.5A12.3 12.3 0 0 1 134.7 -21.5V0" fill="none" stroke="#231f20" stroke-width="4.8" stroke-linecap="butt"/>
</g>
<g transform="translate(334.9 1015.7) rotate(11.9)" fill="#231f20" font-weight="700" font-size="66">
<polygon points="9.4,-47.6 18.2,-47.6 18.2,0 9.4,0 9.4,-38.6 0,-38.6 0.2,-41.5"/>
<text x="31.6" y="0">0</text>
<text x="68.9" y="0">2</text>
<path d="M140.4 -27.7A15.5 16.1 0 1 0 140.4 -9.3M156.5 0V-34.5M156.5 -21.5A12.3 12.3 0 0 1 181.1 -21.5V0M181.1 -21.5A12.3 12.3 0 0 1 205.6 -21.5V0" fill="none" stroke="#231f20" stroke-width="4.8" stroke-linecap="butt"/>
</g>
<g transform="translate(399.2 1241.7) rotate(17.7)" fill="#231f20" font-weight="700" font-size="66">
<polygon points="9.4,-47.6 18.2,-47.6 18.2,0 9.4,0 9.4,-38.6 0,-38.6 0.2,-41.5"/>
<text x="31.6" y="0">6</text>
<text x="68.9" y="0">0</text>
<path d="M140.4 -27.7A15.5 16.1 0 1 0 140.4 -9.3M156.5 0V-34.5M156.5 -21.5A12.3 12.3 0 0 1 181.1 -21.5V0M181.1 -21.5A12.3 12.3 0 0 1 205.6 -21.5V0" fill="none" stroke="#231f20" stroke-width="4.8" stroke-linecap="butt"/>
</g>
<g transform="translate(224.5 933.4) rotate(-90)" fill="#231f20" font-weight="700" font-size="66">
<text x="-1.9" y="0">8</text>
<text x="35.5" y="0">8</text>
<path d="M106.9 -27.7A15.5 16.1 0 1 0 106.9 -9.3M123 0V-34.5M123 -21.5A12.3 12.3 0 0 1 147.6 -21.5V0M147.6 -21.5A12.3 12.3 0 0 1 172.1 -21.5V0" fill="none" stroke="#231f20" stroke-width="4.8" stroke-linecap="butt"/>
</g>
<g transform="translate(300.7 955.6) rotate(-90)" fill="#231f20" font-weight="700" font-size="66">
<text x="-1.9" y="0">7</text>
<text x="35.5" y="0">4</text>
<path d="M106.9 -27.7A15.5 16.1 0 1 0 106.9 -9.3M123 0V-34.5M123 -21.5A12.3 12.3 0 0 1 147.6 -21.5V0M147.6 -21.5A12.3 12.3 0 0 1 172.1 -21.5V0" fill="none" stroke="#231f20" stroke-width="4.8" stroke-linecap="butt"/>
</g>
<g transform="translate(713.8 579.1) rotate(76.8)" fill="#231f20" font-weight="700" font-size="66">
<text x="-1.9" y="0">4</text>
<text x="35.5" y="0">4</text>
<path d="M106.9 -27.7A15.5 16.1 0 1 0 106.9 -9.3M123 0V-34.5M123 -21.5A12.3 12.3 0 0 1 147.6 -21.5V0M147.6 -21.5A12.3 12.3 0 0 1 172.1 -21.5V0" fill="none" stroke="#231f20" stroke-width="4.8" stroke-linecap="butt"/>
</g>
<g transform="translate(581 874.5) rotate(90)" fill="#231f20" font-weight="700" font-size="66">
<text x="-1.9" y="0">7</text>
<text x="35.5" y="0">0</text>
<path d="M106.9 -27.7A15.5 16.1 0 1 0 106.9 -9.3M123 0V-34.5M123 -21.5A12.3 12.3 0 0 1 147.6 -21.5V0M147.6 -21.5A12.3 12.3 0 0 1 172.1 -21.5V0" fill="none" stroke="#231f20" stroke-width="4.8" stroke-linecap="butt"/>
</g>
<g transform="translate(1668.8 865) rotate(90)" fill="#231f20" font-weight="700" font-size="66">
<text x="-1.9" y="0">4</text>
<text x="35.5" y="0">5</text>
<path d="M106.9 -27.7A15.5 16.1 0 1 0 106.9 -9.3M123 0V-34.5M123 -21.5A12.3 12.3 0 0 1 147.6 -21.5V0M147.6 -21.5A12.3 12.3 0 0 1 172.1 -21.5V0" fill="none" stroke="#231f20" stroke-width="4.8" stroke-linecap="butt"/>
</g>
<g transform="translate(1389.1 1103.9) rotate(90)" fill="#231f20" font-weight="700" font-size="66">
<text x="-1.9" y="0">4</text>
<text x="34.1" y="0">,</text>
<text x="55" y="0">5</text>
<path d="M126.4 -27.7A15.5 16.1 0 1 0 126.4 -9.3M142.5 0V-34.5M142.5 -21.5A12.3 12.3 0 0 1 167.1 -21.5V0M167.1 -21.5A12.3 12.3 0 0 1 191.6 -21.5V0" fill="none" stroke="#231f20" stroke-width="4.8" stroke-linecap="butt"/>
</g>
<g clip-path="url(#cc)">
<g filter="url(#sh2)">
<path d="M1555.4 1320.7C1572.1 1321.5 1636.4 1323.7 1655.3 1325.4C1674.3 1327 1666.8 1329.7 1669.1 1330.6L1669.1 1330.6C1671.7 1329.5 1677.9 1325.5 1684.5 1323.8C1691.2 1322.2 1685.5 1321.2 1709.1 1320.7C1732.7 1320.3 1786 1320.9 1825.9 1321.4C1865.9 1321.8 1916.6 1322.7 1948.9 1323.2C1981.2 1323.7 2006.1 1323.3 2019.6 1324.4C2033.1 1325.6 2027.4 1326.5 2029.7 1330C2032 1333.4 2032.9 1337.6 2033.4 1345.3C2034 1353 2033.6 1366.7 2033.1 1376.1C2032.7 1385.4 2031.1 1397.1 2030.7 1401.3L2030.7 1401.3C2034.5 1400.7 2046.5 1397.4 2053.4 1397.6C2060.3 1397.7 2066.7 1399.9 2071.9 1402.2C2077 1404.5 2081.2 1407.8 2084.2 1411.4C2087.1 1415 2088.5 1421.7 2089.4 1423.7L2089.4 1423.7C2092.3 1424.6 2101.2 1425.6 2107.2 1428.9C2113.3 1432.3 2120.2 1437.1 2125.7 1443.7C2131.1 1450.3 2136.2 1458.1 2140.1 1468.3C2144 1478.5 2146.9 1491.4 2149.3 1505.2C2151.8 1519 2153.4 1535.9 2154.9 1551.3C2156.3 1566.7 2157.1 1582 2157.9 1597.4C2158.7 1612.8 2159.3 1631.7 2159.8 1643.5C2160.3 1655.3 2161.3 1662 2161 1668.1C2160.7 1674.3 2160 1677.2 2157.9 1680.4C2155.9 1683.6 2151.3 1686 2148.7 1687.2C2146.1 1688.3 2143.6 1687.2 2142.6 1687.2L2142.6 1687.2C2141.8 1688.4 2140.5 1691.8 2137.9 1694.2C2135.4 1696.7 2133.1 1699.9 2127.2 1701.9C2121.3 1704 2116.9 1705.6 2102.6 1706.5C2088.2 1707.5 2063.4 1707.5 2041.1 1707.5C2018.8 1707.5 1994.5 1706.9 1968.9 1706.5C1943.3 1706.1 1910.7 1705.4 1887.4 1705C1864.1 1704.6 1849.5 1704.3 1829 1704.4C1808.5 1704.5 1784.4 1705.4 1764.4 1705.6C1744.5 1705.8 1720.6 1706.2 1709.1 1705.6C1697.6 1705 1698.9 1704.6 1695.3 1701.9C1691.7 1699.3 1689.1 1694.8 1687.6 1689.6C1686.1 1684.5 1686.3 1674.3 1686.1 1671.2L1686.1 1671.2C1684.8 1671 1685.8 1670.2 1678.4 1670C1670.9 1669.8 1662 1670 1641.5 1670C1621 1670 1569.8 1670 1555.4 1670Z" fill="#fff" stroke="#6a6a6a" stroke-width="7" stroke-linejoin="round"/>
<path d="M1706 1705C1706.3 1707.6 1705.8 1716.8 1707.6 1720.4C1709.4 1724 1713.5 1725.8 1716.8 1726.5C1720.1 1727.3 1724.7 1726.8 1727.6 1725C1730.4 1723.2 1732.7 1719.1 1733.7 1715.8C1734.7 1712.4 1733.7 1706.8 1733.7 1705" fill="#fff" stroke="#6a6a6a" stroke-width="5" stroke-linecap="round" stroke-linejoin="round" />
<path d="M2068.8 1705C2069 1707.6 2068.5 1716.8 2070.3 1720.4C2072.1 1724 2076.2 1725.8 2079.5 1726.5C2082.9 1727.3 2087.5 1726.8 2090.3 1725C2093.1 1723.2 2095.4 1719.1 2096.4 1715.8C2097.5 1712.4 2096.4 1706.8 2096.4 1705" fill="#fff" stroke="#6a6a6a" stroke-width="5" stroke-linecap="round" stroke-linejoin="round" />
<path d="M1645.2 1668.1C1645.6 1670.4 1645.7 1678.9 1647.6 1681.9C1649.6 1685 1653.8 1686.3 1656.9 1686.6C1659.9 1686.8 1663.9 1686.6 1666.1 1683.5C1668.2 1680.4 1669.1 1670.7 1669.8 1668.1" fill="#fff" stroke="#6a6a6a" stroke-width="5" stroke-linecap="round" stroke-linejoin="round" />
</g>
<path d="M1706 1705C1706.3 1707.6 1705.8 1716.8 1707.6 1720.4C1709.4 1724 1713.5 1725.8 1716.8 1726.5C1720.1 1727.3 1724.7 1726.8 1727.6 1725C1730.4 1723.2 1732.7 1719.1 1733.7 1715.8C1734.7 1712.4 1733.7 1706.8 1733.7 1705" fill="#fff" stroke="#6a6a6a" stroke-width="5" stroke-linecap="round" stroke-linejoin="round" />
<path d="M2068.8 1705C2069 1707.6 2068.5 1716.8 2070.3 1720.4C2072.1 1724 2076.2 1725.8 2079.5 1726.5C2082.9 1727.3 2087.5 1726.8 2090.3 1725C2093.1 1723.2 2095.4 1719.1 2096.4 1715.8C2097.5 1712.4 2096.4 1706.8 2096.4 1705" fill="#fff" stroke="#6a6a6a" stroke-width="5" stroke-linecap="round" stroke-linejoin="round" />
<path d="M1645.2 1668.1C1645.6 1670.4 1645.7 1678.9 1647.6 1681.9C1649.6 1685 1653.8 1686.3 1656.9 1686.6C1659.9 1686.8 1663.9 1686.6 1666.1 1683.5C1668.2 1680.4 1669.1 1670.7 1669.8 1668.1" fill="#fff" stroke="#6a6a6a" stroke-width="5" stroke-linecap="round" stroke-linejoin="round" />
<path d="M1555.4 1320.7C1572.1 1321.5 1636.4 1323.7 1655.3 1325.4C1674.3 1327 1666.8 1329.7 1669.1 1330.6L1669.1 1330.6C1671.7 1329.5 1677.9 1325.5 1684.5 1323.8C1691.2 1322.2 1685.5 1321.2 1709.1 1320.7C1732.7 1320.3 1786 1320.9 1825.9 1321.4C1865.9 1321.8 1916.6 1322.7 1948.9 1323.2C1981.2 1323.7 2006.1 1323.3 2019.6 1324.4C2033.1 1325.6 2027.4 1326.5 2029.7 1330C2032 1333.4 2032.9 1337.6 2033.4 1345.3C2034 1353 2033.6 1366.7 2033.1 1376.1C2032.7 1385.4 2031.1 1397.1 2030.7 1401.3L2030.7 1401.3C2034.5 1400.7 2046.5 1397.4 2053.4 1397.6C2060.3 1397.7 2066.7 1399.9 2071.9 1402.2C2077 1404.5 2081.2 1407.8 2084.2 1411.4C2087.1 1415 2088.5 1421.7 2089.4 1423.7L2089.4 1423.7C2092.3 1424.6 2101.2 1425.6 2107.2 1428.9C2113.3 1432.3 2120.2 1437.1 2125.7 1443.7C2131.1 1450.3 2136.2 1458.1 2140.1 1468.3C2144 1478.5 2146.9 1491.4 2149.3 1505.2C2151.8 1519 2153.4 1535.9 2154.9 1551.3C2156.3 1566.7 2157.1 1582 2157.9 1597.4C2158.7 1612.8 2159.3 1631.7 2159.8 1643.5C2160.3 1655.3 2161.3 1662 2161 1668.1C2160.7 1674.3 2160 1677.2 2157.9 1680.4C2155.9 1683.6 2151.3 1686 2148.7 1687.2C2146.1 1688.3 2143.6 1687.2 2142.6 1687.2L2142.6 1687.2C2141.8 1688.4 2140.5 1691.8 2137.9 1694.2C2135.4 1696.7 2133.1 1699.9 2127.2 1701.9C2121.3 1704 2116.9 1705.6 2102.6 1706.5C2088.2 1707.5 2063.4 1707.5 2041.1 1707.5C2018.8 1707.5 1994.5 1706.9 1968.9 1706.5C1943.3 1706.1 1910.7 1705.4 1887.4 1705C1864.1 1704.6 1849.5 1704.3 1829 1704.4C1808.5 1704.5 1784.4 1705.4 1764.4 1705.6C1744.5 1705.8 1720.6 1706.2 1709.1 1705.6C1697.6 1705 1698.9 1704.6 1695.3 1701.9C1691.7 1699.3 1689.1 1694.8 1687.6 1689.6C1686.1 1684.5 1686.3 1674.3 1686.1 1671.2L1686.1 1671.2C1684.8 1671 1685.8 1670.2 1678.4 1670C1670.9 1669.8 1662 1670 1641.5 1670C1621 1670 1569.8 1670 1555.4 1670Z" fill="#fff" stroke="#6a6a6a" stroke-width="7" stroke-linejoin="round" transform="translate(1.8 1)"/>
<path d="M1555.4 1320.7C1572.1 1321.5 1636.4 1323.7 1655.3 1325.4C1674.3 1327 1666.8 1329.7 1669.1 1330.6L1669.1 1330.6C1671.7 1329.5 1677.9 1325.5 1684.5 1323.8C1691.2 1322.2 1685.5 1321.2 1709.1 1320.7C1732.7 1320.3 1786 1320.9 1825.9 1321.4C1865.9 1321.8 1916.6 1322.7 1948.9 1323.2C1981.2 1323.7 2006.1 1323.3 2019.6 1324.4C2033.1 1325.6 2027.4 1326.5 2029.7 1330C2032 1333.4 2032.9 1337.6 2033.4 1345.3C2034 1353 2033.6 1366.7 2033.1 1376.1C2032.7 1385.4 2031.1 1397.1 2030.7 1401.3L2030.7 1401.3C2034.5 1400.7 2046.5 1397.4 2053.4 1397.6C2060.3 1397.7 2066.7 1399.9 2071.9 1402.2C2077 1404.5 2081.2 1407.8 2084.2 1411.4C2087.1 1415 2088.5 1421.7 2089.4 1423.7L2089.4 1423.7C2092.3 1424.6 2101.2 1425.6 2107.2 1428.9C2113.3 1432.3 2120.2 1437.1 2125.7 1443.7C2131.1 1450.3 2136.2 1458.1 2140.1 1468.3C2144 1478.5 2146.9 1491.4 2149.3 1505.2C2151.8 1519 2153.4 1535.9 2154.9 1551.3C2156.3 1566.7 2157.1 1582 2157.9 1597.4C2158.7 1612.8 2159.3 1631.7 2159.8 1643.5C2160.3 1655.3 2161.3 1662 2161 1668.1C2160.7 1674.3 2160 1677.2 2157.9 1680.4C2155.9 1683.6 2151.3 1686 2148.7 1687.2C2146.1 1688.3 2143.6 1687.2 2142.6 1687.2L2142.6 1687.2C2141.8 1688.4 2140.5 1691.8 2137.9 1694.2C2135.4 1696.7 2133.1 1699.9 2127.2 1701.9C2121.3 1704 2116.9 1705.6 2102.6 1706.5C2088.2 1707.5 2063.4 1707.5 2041.1 1707.5C2018.8 1707.5 1994.5 1706.9 1968.9 1706.5C1943.3 1706.1 1910.7 1705.4 1887.4 1705C1864.1 1704.6 1849.5 1704.3 1829 1704.4C1808.5 1704.5 1784.4 1705.4 1764.4 1705.6C1744.5 1705.8 1720.6 1706.2 1709.1 1705.6C1697.6 1705 1698.9 1704.6 1695.3 1701.9C1691.7 1699.3 1689.1 1694.8 1687.6 1689.6C1686.1 1684.5 1686.3 1674.3 1686.1 1671.2L1686.1 1671.2C1684.8 1671 1685.8 1670.2 1678.4 1670C1670.9 1669.8 1662 1670 1641.5 1670C1621 1670 1569.8 1670 1555.4 1670Z" fill="#fff" stroke="#6a6a6a" stroke-width="7" stroke-linejoin="round"/>
<path d="M1712.2 1714.2C1713.5 1715.1 1717.3 1719.8 1719.9 1719.8C1722.4 1719.8 1726.3 1715.1 1727.6 1714.2" fill="none" stroke="#6a6a6a" stroke-width="1.6" stroke-linecap="round" stroke-linejoin="round" />
<path d="M2074.9 1714.2C2076.2 1715.1 2080.1 1719.8 2082.6 1719.8C2085.2 1719.8 2089 1715.1 2090.3 1714.2" fill="none" stroke="#6a6a6a" stroke-width="1.6" stroke-linecap="round" stroke-linejoin="round" />
<path d="M1650.1 1675.8C1651.2 1676.5 1654.6 1679.8 1656.9 1679.8C1659.1 1679.8 1662.5 1676.5 1663.6 1675.8" fill="none" stroke="#6a6a6a" stroke-width="1.6" stroke-linecap="round" stroke-linejoin="round" />
<path d="M2137.9 1687.2C2138.2 1688.2 2137.9 1692.6 2139.5 1693.3C2141 1694 2145.5 1692.7 2147.2 1691.5C2148.8 1690.2 2149 1686.9 2149.3 1685.9" fill="none" stroke="#6a6a6a" stroke-width="3" stroke-linecap="round" stroke-linejoin="round" />
<path d="M1595.4 1493.5L1597.7 1493.5L1600.7 1493.4L1604.2 1493.2L1608.1 1493.1L1612.3 1493L1616.8 1492.8L1621.3 1492.7L1625.8 1492.5L1630.2 1492.4L1634.4 1492.2L1638.2 1492.1L1641.5 1492L1644.6 1491.9L1647.5 1491.8L1650.4 1491.8L1653.1 1491.7L1655.8 1491.6L1658.2 1491.6L1660.6 1491.6L1662.7 1491.5L1664.7 1491.5L1666.4 1491.4L1667.9 1491.4L1669.2 1491.4L1669.1 1487L1667.8 1487L1666.3 1487.1L1664.6 1487.1L1662.6 1487.1L1660.5 1487.2L1658.2 1487.2L1655.7 1487.3L1653 1487.3L1650.3 1487.4L1647.4 1487.5L1644.5 1487.5L1641.4 1487.6L1638.1 1487.7L1634.3 1487.8L1630.1 1488L1625.7 1488.1L1621.2 1488.3L1616.6 1488.4L1612.2 1488.6L1607.9 1488.7L1604 1488.9L1600.5 1489L1597.6 1489.1L1595.3 1489.2Z" fill="#6a6a6a"/>
<path d="M1672.5 1333.1L1672.6 1335.4L1672.6 1338.3L1672.7 1341.6L1672.7 1345.4L1672.8 1349.5L1672.9 1353.8L1673 1358.4L1673 1363.1L1673.1 1368L1673.2 1372.8L1673.3 1377.6L1673.5 1382.3L1673.6 1387.1L1673.7 1392.2L1673.9 1397.6L1674 1403.1L1674.2 1408.8L1674.4 1414.4L1674.7 1419.9L1675 1425.3L1675.2 1430.5L1675.4 1435.3L1675.7 1439.8L1675.8 1443.8L1676 1447.3L1676.2 1450.5L1676.3 1453.4L1676.5 1455.9L1676.7 1458.3L1676.8 1460.4L1676.9 1462.4L1677 1464.2L1677 1466L1676.9 1467.7L1676.8 1469.4L1676.7 1471.1L1676.4 1472.9L1676 1474.6L1675.6 1476.3L1675 1477.9L1674.5 1479.4L1673.8 1480.9L1673.2 1482.3L1672.6 1483.6L1672.1 1484.8L1671.5 1485.9L1671.1 1486.9L1670.8 1487.7L1673.7 1488.9L1674 1488.1L1674.4 1487.2L1674.9 1486.2L1675.5 1485L1676.2 1483.7L1676.8 1482.2L1677.5 1480.6L1678.1 1479L1678.8 1477.2L1679.3 1475.4L1679.7 1473.5L1680.1 1471.6L1680.3 1469.7L1680.4 1467.9L1680.5 1466L1680.5 1464.2L1680.5 1462.3L1680.4 1460.2L1680.3 1458.1L1680.2 1455.7L1680 1453.1L1679.9 1450.3L1679.8 1447.1L1679.7 1443.6L1679.6 1439.7L1679.4 1435.2L1679.3 1430.3L1679.1 1425.2L1678.9 1419.8L1678.7 1414.2L1678.5 1408.6L1678.2 1403L1677.9 1397.4L1677.6 1392.1L1677.4 1387L1677.1 1382.2L1676.9 1377.5L1676.7 1372.7L1676.5 1367.9L1676.3 1363L1676.1 1358.3L1675.9 1353.7L1675.7 1349.4L1675.5 1345.3L1675.4 1341.5L1675.2 1338.2L1675.1 1335.3L1675 1333Z" fill="#6a6a6a"/>
<path d="M1678.7 1474.8L1678.8 1475.3L1678.9 1475.9L1679.1 1476.7L1679.2 1477.6L1679.4 1478.6L1679.6 1479.6L1679.8 1480.7L1680.1 1481.8L1680.4 1482.9L1680.8 1484L1681.2 1485L1681.6 1486L1682.2 1486.9L1682.8 1487.8L1683.5 1488.7L1684.3 1489.6L1685 1490.4L1685.8 1491.3L1686.6 1492L1687.3 1492.8L1687.9 1493.4L1688.5 1494L1689 1494.4L1689.3 1494.8L1692 1492.2L1691.6 1491.8L1691 1491.3L1690.4 1490.7L1689.7 1490.1L1689 1489.5L1688.2 1488.8L1687.5 1488.1L1686.7 1487.3L1686 1486.6L1685.4 1485.8L1684.8 1485.1L1684.3 1484.4L1683.9 1483.7L1683.6 1482.9L1683.2 1482L1682.9 1481L1682.6 1480L1682.3 1479L1682.1 1478L1681.8 1477.1L1681.6 1476.2L1681.4 1475.4L1681.3 1474.7L1681.1 1474.1Z" fill="#6a6a6a"/>
<path d="M1686.3 1494.5L1688.4 1494.3L1691 1494.2L1693.8 1494L1697 1493.7L1700.5 1493.5L1704.3 1493.2L1708.5 1493L1713 1492.7L1717.7 1492.4L1722.8 1492.1L1728.2 1491.9L1733.9 1491.6L1740.1 1491.3L1747 1491L1754.5 1490.7L1762.4 1490.4L1770.7 1490.1L1779.1 1489.8L1787.6 1489.5L1795.9 1489.2L1804.1 1488.9L1811.9 1488.7L1819.3 1488.5L1826 1488.3L1832.2 1488.1L1838 1488L1843.5 1487.8L1848.8 1487.7L1853.8 1487.5L1858.6 1487.4L1863.4 1487.3L1868.1 1487.2L1872.8 1487.1L1877.5 1487L1882.4 1486.9L1887.4 1486.9L1892.6 1486.8L1897.8 1486.7L1903.2 1486.7L1908.5 1486.7L1913.9 1486.6L1919.2 1486.6L1924.4 1486.6L1929.6 1486.6L1934.7 1486.7L1939.6 1486.7L1944.3 1486.7L1948.8 1486.7L1953.3 1486.7L1957.7 1486.7L1962.2 1486.7L1966.6 1486.7L1970.8 1486.8L1974.9 1486.8L1978.8 1486.9L1982.5 1486.9L1985.8 1487L1988.8 1487L1991.3 1487L1993.4 1487.1L1993.5 1485.2L1991.4 1485L1988.9 1484.8L1985.9 1484.6L1982.6 1484.3L1979 1484L1975.1 1483.7L1971 1483.4L1966.7 1483L1962.3 1482.7L1957.9 1482.4L1953.4 1482.1L1948.9 1481.8L1944.4 1481.6L1939.7 1481.5L1934.8 1481.4L1929.7 1481.2L1924.5 1481.1L1919.2 1481L1913.9 1480.9L1908.5 1480.8L1903.2 1480.7L1897.9 1480.6L1892.6 1480.5L1887.4 1480.5L1882.4 1480.4L1877.5 1480.4L1872.7 1480.4L1868 1480.3L1863.3 1480.3L1858.5 1480.3L1853.7 1480.3L1848.6 1480.4L1843.4 1480.4L1837.9 1480.5L1832 1480.7L1825.8 1480.9L1819.1 1481.1L1811.7 1481.4L1803.9 1481.7L1795.7 1482.1L1787.3 1482.4L1778.8 1482.8L1770.4 1483.2L1762.1 1483.6L1754.2 1483.9L1746.7 1484.3L1739.8 1484.6L1733.5 1485L1727.8 1485.3L1722.4 1485.6L1717.3 1485.9L1712.5 1486.2L1708.1 1486.6L1703.9 1486.9L1700 1487.1L1696.5 1487.4L1693.3 1487.7L1690.5 1487.9L1688 1488.1L1685.8 1488.2Z" fill="#6a6a6a"/>
<path d="M1684.2 1494.8L1684.3 1495.6L1684.5 1496.4L1684.7 1497.4L1684.9 1498.4L1685.2 1499.5L1685.4 1500.8L1685.6 1502.2L1685.9 1503.7L1686.1 1505.4L1686.3 1507.3L1686.6 1509.4L1686.8 1511.6L1686.9 1514.1L1687.1 1516.8L1687.3 1519.8L1687.5 1522.9L1687.6 1526.3L1687.8 1529.7L1688 1533.3L1688.1 1536.9L1688.4 1540.5L1688.6 1544.2L1688.9 1547.9L1689.1 1551.5L1689.3 1555.1L1689.5 1558.8L1689.7 1562.5L1689.9 1566.4L1690.1 1570.2L1690.2 1574.1L1690.4 1578L1690.6 1581.9L1690.7 1585.9L1690.9 1589.8L1691.1 1593.7L1691.2 1597.5L1691.4 1601.4L1691.6 1605.2L1691.7 1609.1L1691.9 1612.9L1692 1616.7L1692.2 1620.6L1692.3 1624.4L1692.5 1628.3L1692.6 1632.1L1692.8 1636L1692.9 1639.8L1693.1 1643.7L1693.2 1647.6L1693.4 1651.7L1693.6 1655.9L1693.8 1660.2L1694 1664.5L1694.2 1668.7L1694.4 1672.9L1694.5 1676.8L1694.7 1680.5L1695 1684L1695.3 1687.1L1695.7 1689.8L1695.9 1692.1L1696.2 1694.2L1696.5 1695.9L1696.7 1697.4L1696.9 1698.7L1697.2 1699.7L1697.3 1700.6L1697.5 1701.4L1697.7 1702.1L1697.8 1702.6L1697.9 1703.2L1698 1703.7L1701.7 1703.2L1701.7 1702.6L1701.6 1702L1701.6 1701.4L1701.5 1700.7L1701.4 1700L1701.4 1699.1L1701.3 1698.1L1701.2 1696.9L1701.1 1695.5L1701.1 1693.8L1701.1 1691.8L1701.1 1689.5L1701.1 1686.8L1701.1 1683.7L1701 1680.2L1700.8 1676.5L1700.6 1672.6L1700.4 1668.5L1700.2 1664.2L1700 1659.9L1699.9 1655.7L1699.7 1651.4L1699.5 1647.3L1699.3 1643.4L1699.2 1639.5L1699 1635.7L1698.8 1631.9L1698.7 1628L1698.5 1624.2L1698.4 1620.3L1698.3 1616.5L1698.1 1612.7L1698 1608.8L1697.8 1605L1697.6 1601.1L1697.5 1597.3L1697.3 1593.4L1697.1 1589.5L1697 1585.6L1696.8 1581.7L1696.6 1577.7L1696.5 1573.8L1696.3 1569.9L1696.1 1566.1L1695.9 1562.2L1695.7 1558.5L1695.5 1554.7L1695.3 1551.1L1695.1 1547.5L1694.9 1543.8L1694.6 1540.1L1694.4 1536.4L1694 1532.8L1693.6 1529.3L1693.3 1525.8L1692.9 1522.5L1692.5 1519.3L1692.2 1516.4L1691.8 1513.6L1691.5 1511.1L1691.2 1508.8L1690.8 1506.7L1690.5 1504.7L1690.1 1503L1689.8 1501.4L1689.4 1500L1689.1 1498.7L1688.8 1497.5L1688.5 1496.5L1688.3 1495.6L1688.1 1494.8L1687.9 1494.1Z" fill="#6a6a6a"/>
<path d="M1686.9 1520.5L1686.7 1522.7L1686.5 1525.3L1686.2 1528.4L1685.9 1531.9L1685.6 1535.7L1685.2 1539.7L1684.9 1544L1684.5 1548.4L1684.2 1552.9L1683.9 1557.5L1683.6 1562.1L1683.4 1566.6L1683.2 1571.3L1683 1576.2L1682.9 1581.4L1682.7 1586.7L1682.6 1592.1L1682.5 1597.6L1682.5 1603.1L1682.5 1608.4L1682.5 1613.7L1682.6 1618.8L1682.6 1623.6L1682.7 1628.2L1682.8 1632.5L1683 1636.9L1683.2 1641.3L1683.4 1645.5L1683.7 1649.6L1683.9 1653.6L1684.2 1657.3L1684.4 1660.8L1684.6 1663.9L1684.8 1666.8L1685 1669.2L1685.1 1671.2L1687 1671.1L1686.9 1669.1L1686.8 1666.7L1686.6 1663.8L1686.4 1660.6L1686.2 1657.2L1686 1653.4L1685.8 1649.5L1685.6 1645.4L1685.4 1641.2L1685.3 1636.8L1685.2 1632.5L1685.1 1628.1L1685.1 1623.6L1685.1 1618.8L1685.1 1613.7L1685.1 1608.5L1685.2 1603.1L1685.2 1597.6L1685.3 1592.1L1685.3 1586.7L1685.4 1581.4L1685.4 1576.3L1685.5 1571.3L1685.6 1566.7L1685.8 1562.2L1686 1557.6L1686.2 1553L1686.4 1548.5L1686.7 1544.1L1687 1539.8L1687.2 1535.8L1687.5 1532L1687.8 1528.5L1688 1525.5L1688.2 1522.8L1688.3 1520.6Z" fill="#6a6a6a"/>
<path d="M1794.6 1495.1L1795.2 1495.7L1795.9 1496.3L1796.7 1497L1797.7 1497.8L1798.7 1498.7L1799.8 1499.6L1800.9 1500.7L1802 1501.7L1803.1 1502.8L1804.2 1504L1805.2 1505.1L1806.2 1506.3L1807.1 1507.6L1808.1 1509L1809.1 1510.4L1810.1 1511.9L1811.1 1513.4L1812.1 1515L1813.1 1516.6L1814 1518.3L1814.9 1519.9L1815.7 1521.6L1816.5 1523.2L1817.2 1524.8L1817.8 1526.5L1818.4 1528L1818.9 1529.6L1819.5 1531.1L1820 1532.6L1820.5 1534.1L1820.9 1535.7L1821.4 1537.4L1821.8 1539.2L1822.1 1541.2L1822.5 1543.3L1822.9 1545.6L1823.2 1548L1823.5 1550.6L1823.8 1553.3L1824 1556.2L1824.2 1559.2L1824.4 1562.2L1824.6 1565.4L1824.8 1568.6L1824.9 1571.9L1825.1 1575.3L1825.3 1578.7L1825.4 1582.2L1825.6 1585.7L1825.7 1589.3L1825.9 1593L1826 1596.8L1826.2 1600.7L1826.3 1604.6L1826.4 1608.5L1826.5 1612.5L1826.6 1616.5L1826.7 1620.4L1826.7 1624.3L1826.8 1628.2L1826.8 1632.1L1826.8 1636L1826.9 1640.1L1827 1644.1L1827 1648.2L1827.1 1652.2L1827.1 1656.2L1827.2 1660.1L1827.2 1663.9L1827.2 1667.5L1827.2 1671L1827.2 1674.2L1827.2 1677.3L1827.2 1680.4L1827.1 1683.4L1827.1 1686.3L1827 1689L1826.9 1691.7L1826.8 1694.1L1826.8 1696.4L1826.7 1698.5L1826.6 1700.4L1826.6 1702L1826.5 1703.4L1828.4 1703.5L1828.5 1702.2L1828.7 1700.5L1828.8 1698.7L1829 1696.6L1829.2 1694.3L1829.5 1691.8L1829.7 1689.2L1829.9 1686.4L1830.2 1683.5L1830.4 1680.5L1830.6 1677.4L1830.8 1674.3L1831 1671.1L1831.1 1667.6L1831.3 1664L1831.5 1660.2L1831.7 1656.3L1831.9 1652.3L1832 1648.2L1832.2 1644.2L1832.4 1640.1L1832.4 1636L1832.5 1632L1832.5 1628.1L1832.4 1624.2L1832.4 1620.3L1832.3 1616.4L1832.3 1612.4L1832.2 1608.4L1832.1 1604.4L1832 1600.5L1831.9 1596.6L1831.8 1592.8L1831.6 1589.1L1831.5 1585.4L1831.4 1581.9L1831.2 1578.5L1831.1 1575L1830.9 1571.7L1830.8 1568.3L1830.7 1565.1L1830.5 1561.9L1830.3 1558.8L1830.1 1555.7L1829.9 1552.8L1829.6 1550L1829.3 1547.3L1829 1544.7L1828.6 1542.3L1828.2 1540.1L1827.8 1538L1827.4 1536L1826.9 1534.2L1826.5 1532.4L1825.9 1530.6L1825.4 1529L1824.7 1527.3L1824 1525.7L1823.2 1524.1L1822.4 1522.4L1821.4 1520.7L1820.4 1519L1819.4 1517.3L1818.2 1515.7L1817.1 1514L1815.9 1512.4L1814.7 1510.9L1813.5 1509.4L1812.3 1508L1811.1 1506.6L1809.9 1505.3L1808.8 1504L1807.6 1502.8L1806.4 1501.7L1805.1 1500.6L1803.9 1499.6L1802.6 1498.6L1801.4 1497.7L1800.2 1496.8L1799.1 1496L1798.1 1495.3L1797.2 1494.7L1796.4 1494.2L1795.8 1493.7Z" fill="#6a6a6a"/>
<path d="M1899.2 1490.6L1900.4 1491.4L1901.8 1492.4L1903.5 1493.5L1905.4 1494.8L1907.5 1496.2L1909.7 1497.6L1912 1499.2L1914.3 1500.8L1916.6 1502.4L1918.8 1503.9L1921 1505.5L1923 1507L1925.1 1508.6L1927.1 1510.1L1929.3 1511.7L1931.4 1513.2L1933.5 1514.8L1935.6 1516.4L1937.6 1518L1939.6 1519.6L1941.5 1521.1L1943.4 1522.7L1945.1 1524.2L1946.7 1525.8L1948.2 1527.4L1949.6 1528.9L1950.9 1530.5L1952.1 1532.1L1953.2 1533.7L1954.3 1535.3L1955.4 1536.9L1956.3 1538.6L1957.3 1540.4L1958.2 1542.3L1959.1 1544.2L1959.9 1546.3L1960.7 1548.4L1961.5 1550.6L1962.2 1552.9L1962.8 1555.2L1963.4 1557.7L1964 1560.2L1964.5 1562.8L1965.1 1565.4L1965.5 1568.1L1966 1570.8L1966.4 1573.5L1966.9 1576.3L1967.3 1579.1L1967.7 1581.9L1968 1584.8L1968.3 1587.7L1968.6 1590.6L1968.9 1593.6L1969.1 1596.7L1969.3 1599.8L1969.5 1602.9L1969.7 1606.2L1969.9 1609.5L1970 1612.9L1970.1 1616.4L1970.2 1620L1970.3 1623.8L1970.4 1627.6L1970.5 1631.5L1970.6 1635.5L1970.7 1639.4L1970.8 1643.4L1970.8 1647.3L1970.8 1651.2L1970.8 1655.1L1970.8 1658.8L1970.8 1662.6L1970.7 1666.6L1970.5 1670.8L1970.3 1674.9L1970.1 1679.1L1969.9 1683.2L1969.7 1687.1L1969.5 1690.8L1969.3 1694.2L1969.1 1697.2L1969 1699.8L1968.9 1701.9L1970.7 1702L1970.9 1699.9L1971.2 1697.4L1971.5 1694.4L1971.9 1691L1972.3 1687.3L1972.7 1683.4L1973.2 1679.3L1973.6 1675.2L1974 1671L1974.3 1666.8L1974.7 1662.8L1974.9 1659L1975.1 1655.2L1975.3 1651.3L1975.5 1647.4L1975.7 1643.4L1975.8 1639.4L1975.9 1635.5L1976 1631.5L1976 1627.5L1976 1623.7L1975.9 1619.9L1975.8 1616.2L1975.7 1612.7L1975.6 1609.2L1975.4 1605.9L1975.3 1602.6L1975.1 1599.4L1974.9 1596.2L1974.7 1593.1L1974.4 1590.1L1974.1 1587.1L1973.8 1584.1L1973.5 1581.2L1973.1 1578.3L1972.7 1575.5L1972.3 1572.6L1971.9 1569.8L1971.4 1567.1L1970.9 1564.3L1970.4 1561.6L1969.9 1558.9L1969.3 1556.3L1968.6 1553.7L1968 1551.2L1967.2 1548.7L1966.4 1546.3L1965.5 1544L1964.6 1541.8L1963.7 1539.7L1962.7 1537.7L1961.7 1535.7L1960.6 1533.8L1959.5 1532L1958.3 1530.2L1957 1528.4L1955.7 1526.6L1954.2 1524.9L1952.7 1523.2L1951.1 1521.5L1949.3 1519.7L1947.5 1518L1945.5 1516.3L1943.4 1514.7L1941.2 1513.1L1939 1511.6L1936.7 1510.2L1934.4 1508.8L1932.1 1507.4L1929.9 1506L1927.7 1504.7L1925.6 1503.3L1923.3 1502L1921 1500.6L1918.6 1499.2L1916.1 1497.8L1913.7 1496.4L1911.2 1495.1L1908.9 1493.8L1906.7 1492.6L1904.7 1491.5L1902.9 1490.5L1901.4 1489.7L1900.2 1489Z" fill="#6a6a6a"/>
<path d="M2030.1 1402.3L2029.5 1402.7L2028.6 1403.2L2027.5 1403.7L2026.4 1404.3L2025.1 1405L2023.7 1405.7L2022.3 1406.5L2020.8 1407.4L2019.3 1408.3L2017.9 1409.3L2016.5 1410.4L2015.1 1411.5L2013.8 1412.7L2012.5 1413.9L2011.1 1415.3L2009.7 1416.6L2008.4 1418.1L2007 1419.6L2005.6 1421.2L2004.3 1422.8L2003 1424.5L2001.8 1426.3L2000.6 1428.1L1999.6 1430L1998.7 1431.9L1997.9 1434L1997.2 1436.1L1996.5 1438.3L1995.9 1440.5L1995.3 1442.7L1994.8 1444.9L1994.4 1447.2L1994 1449.4L1993.7 1451.5L1993.4 1453.7L1993.2 1455.7L1993.1 1457.8L1993 1459.8L1993 1461.8L1993.1 1463.8L1993.2 1465.8L1993.4 1467.8L1993.6 1469.7L1993.9 1471.6L1994.3 1473.4L1994.7 1475.2L1995.1 1476.9L1995.6 1478.5L1996.2 1480.2L1996.9 1481.7L1997.7 1483.2L1998.5 1484.7L1999.4 1486L2000.3 1487.3L2001.2 1488.5L2002.1 1489.7L2003 1490.8L2003.9 1491.8L2004.8 1492.7L2005.7 1493.6L2006.6 1494.5L2007.7 1495.3L2008.7 1496L2009.8 1496.7L2010.8 1497.2L2011.8 1497.7L2012.7 1498.1L2013.5 1498.4L2014.3 1498.7L2014.9 1499L2015.4 1499.2L2015.7 1499.4L2018.5 1493.8L2018 1493.5L2017.4 1493.2L2016.7 1492.9L2015.9 1492.6L2015.2 1492.3L2014.4 1492L2013.7 1491.6L2012.9 1491.2L2012.1 1490.7L2011.4 1490.2L2010.8 1489.7L2010.1 1489.1L2009.4 1488.3L2008.6 1487.5L2007.8 1486.6L2007 1485.6L2006.2 1484.6L2005.5 1483.6L2004.7 1482.5L2004 1481.4L2003.3 1480.2L2002.7 1479L2002.2 1477.8L2001.8 1476.5L2001.4 1475.1L2001 1473.7L2000.7 1472.1L2000.4 1470.5L2000.1 1468.8L1999.9 1467.1L1999.8 1465.3L1999.7 1463.5L1999.6 1461.7L1999.6 1459.9L1999.7 1458.1L1999.9 1456.3L2000.1 1454.4L2000.3 1452.5L2000.6 1450.5L2001 1448.4L2001.4 1446.4L2001.9 1444.3L2002.4 1442.3L2003 1440.2L2003.7 1438.3L2004.3 1436.4L2005 1434.6L2005.8 1432.9L2006.5 1431.2L2007.3 1429.5L2008.2 1427.8L2009.1 1426.2L2010.2 1424.5L2011.2 1422.9L2012.3 1421.4L2013.5 1419.9L2014.6 1418.4L2015.7 1417L2016.9 1415.6L2017.9 1414.4L2019 1413.2L2020.2 1412.1L2021.4 1411L2022.6 1410L2023.9 1409L2025.2 1408.1L2026.4 1407.2L2027.6 1406.4L2028.7 1405.7L2029.7 1405L2030.5 1404.4L2031.2 1403.9Z" fill="#6a6a6a"/>
<circle cx="2055.9" cy="1476" r="45.5" fill="#fff" stroke="#6a6a6a" stroke-width="1.6"/>
<path d="M2078.9 1435.9L2078.6 1435.7L2078.2 1435.5L2077.7 1435.2L2077.2 1434.9L2076.6 1434.5L2075.9 1434.1L2075.3 1433.7L2074.6 1433.4L2073.9 1433L2073.2 1432.6L2072.5 1432.3L2071.9 1432L2071.3 1431.7L2070.6 1431.4L2070 1431.2L2069.4 1430.9L2068.7 1430.7L2068.1 1430.5L2067.4 1430.2L2066.8 1430L2066.1 1429.8L2065.4 1429.6L2064.8 1429.5L2064.1 1429.3L2063.4 1429.1L2062.8 1429L2062.1 1428.8L2061.4 1428.7L2060.7 1428.6L2060 1428.5L2059.3 1428.4L2058.6 1428.3L2058 1428.2L2057.3 1428.1L2056.6 1428L2055.9 1428L2055.2 1428L2054.5 1428L2053.8 1428L2053.1 1428.1L2052.4 1428.1L2051.7 1428.2L2051 1428.2L2050.3 1428.3L2049.6 1428.4L2048.9 1428.5L2048.2 1428.6L2047.5 1428.7L2046.8 1428.8L2046.2 1429L2045.5 1429.1L2044.8 1429.3L2044.1 1429.4L2043.4 1429.6L2042.8 1429.8L2042.1 1430L2041.4 1430.2L2040.8 1430.4L2040.1 1430.6L2039.5 1430.9L2038.8 1431.1L2038.2 1431.4L2037.5 1431.6L2036.9 1431.9L2036.2 1432.2L2035.6 1432.5L2035 1432.8L2034.3 1433.1L2033.7 1433.4L2033.1 1433.7L2032.5 1434.1L2031.9 1434.4L2031.3 1434.8L2030.7 1435.1L2030.1 1435.5L2029.5 1435.9L2028.9 1436.3L2028.3 1436.7L2027.8 1437.1L2027.2 1437.5L2026.6 1437.9L2026.1 1438.3L2025.6 1438.8L2025 1439.2L2024.5 1439.7L2024 1440.1L2023.4 1440.6L2022.9 1441.1L2022.4 1441.6L2021.9 1442L2021.4 1442.5L2021 1443L2020.5 1443.6L2020 1444.1L2019.6 1444.6L2019.1 1445.1L2018.7 1445.7L2018.2 1446.2L2017.8 1446.8L2017.4 1447.3L2017 1447.9L2016.6 1448.5L2016.2 1449L2015.8 1449.6L2015.4 1450.2L2015 1450.8L2014.7 1451.4L2014.3 1452L2014 1452.6L2013.6 1453.2L2013.3 1453.8L2013 1454.4L2012.7 1455.1L2012.4 1455.7L2012.1 1456.3L2011.8 1457L2011.5 1457.6L2011.3 1458.3L2011 1458.9L2010.8 1459.6L2010.5 1460.2L2010.3 1460.9L2010.1 1461.5L2009.9 1462.2L2009.7 1462.9L2009.5 1463.6L2009.3 1464.2L2009.2 1464.9L2009 1465.6L2008.9 1466.3L2008.7 1467L2008.6 1467.6L2008.5 1468.3L2008.4 1469L2008.3 1469.7L2008.2 1470.4L2008.1 1471.1L2008.1 1471.8L2008 1472.5L2008 1473.2L2007.9 1473.9L2007.9 1474.6L2007.9 1475.3L2007.9 1476L2007.9 1476.7L2007.9 1477.4L2007.9 1478.1L2008 1478.8L2008 1479.5L2008.1 1480.2L2008.1 1480.9L2008.2 1481.6L2008.3 1482.2L2008.4 1482.9L2008.5 1483.6L2008.6 1484.3L2008.7 1485L2008.9 1485.7L2009 1486.4L2009.2 1487L2009.3 1487.7L2009.5 1488.4L2009.7 1489.1L2009.9 1489.7L2010.1 1490.4L2010.3 1491.1L2010.5 1491.7L2010.8 1492.4L2011 1493.1L2011.3 1493.7L2011.5 1494.3L2011.8 1495L2012.1 1495.6L2012.4 1496.3L2012.7 1496.9L2013 1497.5L2013.3 1498.1L2013.6 1498.8L2014 1499.4L2014.3 1500L2014.7 1500.6L2015 1501.2L2015.4 1501.8L2015.8 1502.4L2016.2 1502.9L2016.6 1503.5L2017 1504.1L2017.4 1504.6L2017.8 1505.2L2018.2 1505.8L2018.7 1506.3L2019.1 1506.8L2019.6 1507.4L2020 1507.9L2020.5 1508.4L2021 1508.9L2021.4 1509.4L2021.9 1509.9L2022.4 1510.4L2022.9 1510.9L2023.4 1511.4L2024 1511.8L2024.5 1512.3L2025 1512.7L2025.6 1513.2L2026.2 1513.6L2026.7 1513.9L2027.3 1514.3L2027.9 1514.7L2028.5 1515.1L2029.1 1515.4L2029.7 1515.8L2030.3 1516.1L2030.9 1516.4L2031.5 1516.7L2032.2 1517L2032.8 1517.3L2033.4 1517.6L2034 1517.9L2034.7 1518.2L2035.3 1518.4L2036 1518.7L2036.6 1518.9L2037.2 1519.2L2037.9 1519.4L2038.5 1519.6L2039.2 1519.8L2039.9 1520L2040.6 1520.2L2041.3 1520.4L2042 1520.5L2042.8 1520.7L2043.6 1520.8L2044.3 1520.9L2045.1 1521.1L2045.8 1521.2L2046.4 1521.3L2046.9 1521.4L2047.4 1521.4L2047.8 1521.5L2048.2 1520.1L2047.8 1519.9L2047.3 1519.8L2046.8 1519.6L2046.2 1519.4L2045.5 1519.2L2044.8 1519L2044.1 1518.8L2043.4 1518.5L2042.7 1518.3L2042 1518L2041.4 1517.7L2040.8 1517.5L2040.2 1517.2L2039.6 1516.9L2039 1516.7L2038.5 1516.4L2037.9 1516.1L2037.3 1515.7L2036.8 1515.4L2036.2 1515.1L2035.7 1514.8L2035.1 1514.4L2034.6 1514.1L2034.1 1513.7L2033.6 1513.4L2033 1513L2032.5 1512.6L2032 1512.2L2031.5 1511.8L2031 1511.4L2030.6 1511L2030.1 1510.6L2029.6 1510.2L2029.1 1509.8L2028.7 1509.4L2028.2 1508.9L2027.8 1508.5L2027.3 1508.1L2026.8 1507.7L2026.4 1507.3L2025.9 1506.8L2025.5 1506.4L2025 1505.9L2024.6 1505.5L2024.2 1505L2023.7 1504.6L2023.3 1504.1L2022.9 1503.6L2022.5 1503.1L2022.1 1502.7L2021.8 1502.2L2021.4 1501.7L2021 1501.2L2020.6 1500.6L2020.3 1500.1L2019.9 1499.6L2019.6 1499.1L2019.3 1498.6L2018.9 1498L2018.6 1497.5L2018.3 1496.9L2018 1496.4L2017.7 1495.8L2017.4 1495.3L2017.2 1494.7L2016.9 1494.2L2016.6 1493.6L2016.4 1493L2016.1 1492.4L2015.9 1491.9L2015.7 1491.3L2015.5 1490.7L2015.3 1490.1L2015.1 1489.5L2014.9 1488.9L2014.7 1488.3L2014.5 1487.7L2014.3 1487.1L2014.2 1486.5L2014 1485.9L2013.9 1485.3L2013.8 1484.7L2013.6 1484.1L2013.5 1483.4L2013.4 1482.8L2013.3 1482.2L2013.2 1481.6L2013.2 1481L2013.1 1480.4L2013 1479.7L2013 1479.1L2012.9 1478.5L2012.9 1477.9L2012.9 1477.2L2012.9 1476.6L2012.9 1476L2012.9 1475.4L2012.9 1474.7L2012.9 1474.1L2012.9 1473.5L2013 1472.9L2013 1472.2L2013.1 1471.6L2013.2 1471L2013.2 1470.4L2013.3 1469.7L2013.4 1469.1L2013.5 1468.5L2013.6 1467.9L2013.8 1467.3L2013.9 1466.7L2014 1466.1L2014.2 1465.5L2014.3 1464.9L2014.5 1464.2L2014.7 1463.6L2014.9 1463L2015.1 1462.5L2015.3 1461.9L2015.5 1461.3L2015.7 1460.7L2015.9 1460.1L2016.1 1459.5L2016.4 1459L2016.6 1458.4L2016.9 1457.8L2017.2 1457.2L2017.4 1456.7L2017.7 1456.1L2018 1455.6L2018.3 1455L2018.6 1454.5L2018.9 1453.9L2019.3 1453.4L2019.6 1452.9L2019.9 1452.4L2020.3 1451.8L2020.6 1451.3L2021 1450.8L2021.4 1450.3L2021.8 1449.8L2022.1 1449.3L2022.5 1448.8L2022.9 1448.3L2023.3 1447.9L2023.7 1447.4L2024.2 1446.9L2024.6 1446.5L2025 1446L2025.5 1445.6L2025.9 1445.1L2026.4 1444.7L2026.8 1444.3L2027.3 1443.9L2027.8 1443.4L2028.2 1443L2028.7 1442.6L2029.2 1442.3L2029.7 1441.9L2030.2 1441.5L2030.7 1441.1L2031.2 1440.8L2031.7 1440.4L2032.2 1440.1L2032.8 1439.7L2033.3 1439.4L2033.8 1439.1L2034.4 1438.7L2034.9 1438.4L2035.5 1438.1L2036 1437.8L2036.6 1437.6L2037.1 1437.3L2037.7 1437L2038.3 1436.8L2038.8 1436.5L2039.4 1436.3L2040 1436L2040.6 1435.8L2041.2 1435.6L2041.7 1435.4L2042.3 1435.2L2042.9 1435L2043.5 1434.8L2044.1 1434.6L2044.7 1434.5L2045.3 1434.3L2046 1434.1L2046.6 1434L2047.2 1433.9L2047.8 1433.8L2048.4 1433.6L2049 1433.5L2049.6 1433.4L2050.3 1433.4L2050.9 1433.3L2051.5 1433.2L2052.1 1433.2L2052.7 1433.1L2053.4 1433.1L2054 1433L2054.6 1433L2055.2 1433L2055.9 1433L2056.5 1432.9L2057.1 1432.9L2057.7 1432.9L2058.4 1432.9L2059 1432.9L2059.6 1432.9L2060.3 1432.9L2060.9 1432.9L2061.5 1432.9L2062.2 1433L2062.8 1433L2063.4 1433.1L2064.1 1433.1L2064.7 1433.2L2065.3 1433.3L2066 1433.4L2066.6 1433.5L2067.2 1433.6L2067.9 1433.7L2068.5 1433.9L2069.1 1434L2069.7 1434.2L2070.4 1434.3L2071 1434.5L2071.6 1434.7L2072.3 1434.9L2072.9 1435.1L2073.7 1435.4L2074.4 1435.7L2075.1 1435.9L2075.7 1436.2L2076.4 1436.5L2077 1436.7L2077.5 1436.9L2077.9 1437.1L2078.3 1437.3Z" fill="#6a6a6a"/>
<path d="M2099 1450.6L2099.7 1451.2L2100.7 1451.8L2101.8 1452.5L2103 1453.3L2104.3 1454.2L2105.6 1455.2L2107.1 1456.2L2108.5 1457.3L2109.9 1458.6L2111.3 1459.9L2112.6 1461.4L2113.9 1462.9L2115.1 1464.6L2116.4 1466.4L2117.7 1468.3L2119.1 1470.3L2120.4 1472.4L2121.7 1474.6L2122.9 1477L2124.2 1479.4L2125.4 1481.9L2126.5 1484.6L2127.6 1487.4L2128.5 1490.4L2129.5 1493.5L2130.4 1496.8L2131.2 1500.2L2132 1503.7L2132.7 1507.4L2133.4 1511.2L2134.1 1515.1L2134.8 1519.1L2135.5 1523.2L2136.1 1527.4L2136.8 1531.8L2137.4 1536.2L2137.9 1540.8L2138.4 1545.5L2138.9 1550.4L2139.4 1555.5L2139.8 1560.6L2140.1 1565.9L2140.5 1571.1L2140.8 1576.5L2141.2 1581.8L2141.5 1587.1L2141.8 1592.3L2142.1 1597.5L2142.3 1602.8L2142.6 1608.2L2142.9 1613.7L2143.1 1619.3L2143.3 1625L2143.5 1630.5L2143.7 1635.9L2143.9 1641.2L2144 1646.2L2144.1 1650.8L2144.2 1655.1L2144.3 1658.9L2144.4 1662.3L2144.4 1665.4L2144.4 1668.2L2144.3 1670.7L2144.3 1672.9L2144.2 1674.9L2144.1 1676.7L2144 1678.4L2143.9 1679.8L2143.9 1681.1L2143.8 1682.3L2143.8 1683.4L2147.5 1683.6L2147.5 1682.5L2147.6 1681.3L2147.7 1680L2147.8 1678.6L2147.9 1676.9L2148 1675.1L2148 1673.1L2148.1 1670.8L2148.2 1668.2L2148.2 1665.4L2148.2 1662.3L2148.2 1658.9L2148.1 1655L2148 1650.7L2147.9 1646.1L2147.8 1641.1L2147.6 1635.8L2147.5 1630.4L2147.3 1624.8L2147.1 1619.2L2146.9 1613.6L2146.6 1608L2146.4 1602.5L2146.1 1597.3L2145.8 1592.1L2145.6 1586.9L2145.3 1581.6L2145 1576.2L2144.7 1570.9L2144.3 1565.6L2143.9 1560.3L2143.6 1555.1L2143.1 1550L2142.7 1545.1L2142.2 1540.3L2141.6 1535.7L2141 1531.2L2140.4 1526.8L2139.8 1522.6L2139.1 1518.4L2138.4 1514.3L2137.7 1510.3L2136.8 1506.5L2136 1502.8L2135 1499.2L2134.1 1495.7L2133 1492.4L2132 1489.2L2130.8 1486.2L2129.6 1483.3L2128.4 1480.5L2127 1477.9L2125.7 1475.5L2124.3 1473.1L2122.8 1470.9L2121.4 1468.8L2120 1466.8L2118.6 1464.9L2117.2 1463.1L2115.9 1461.4L2114.5 1459.7L2113 1458.2L2111.5 1456.8L2109.9 1455.6L2108.4 1454.4L2106.9 1453.4L2105.4 1452.5L2104.1 1451.6L2102.8 1450.9L2101.7 1450.2L2100.8 1449.6L2100.1 1449.1Z" fill="#6a6a6a"/>
<path d="M2100.4 1471.7L2101.1 1473L2102 1474.6L2103 1476.5L2104.1 1478.6L2105.3 1480.9L2106.6 1483.3L2107.9 1485.9L2109.2 1488.5L2110.5 1491.2L2111.7 1494L2112.9 1496.7L2113.9 1499.4L2114.9 1502.1L2115.9 1504.9L2116.9 1507.7L2117.8 1510.7L2118.7 1513.6L2119.6 1516.7L2120.5 1519.8L2121.3 1522.9L2122.1 1526.2L2122.9 1529.4L2123.6 1532.8L2124.3 1536.2L2124.9 1539.7L2125.5 1543.3L2126.1 1547L2126.6 1550.8L2127.1 1554.7L2127.6 1558.6L2128.1 1562.5L2128.6 1566.5L2129 1570.5L2129.5 1574.4L2129.9 1578.3L2130.3 1582.2L2130.7 1586L2131.1 1589.8L2131.5 1593.6L2131.9 1597.3L2132.3 1601.1L2132.6 1604.8L2132.9 1608.6L2133.3 1612.4L2133.6 1616.3L2133.9 1620.2L2134.1 1624.2L2134.4 1628.2L2134.7 1632.5L2134.9 1637.2L2135.2 1642.1L2135.4 1647.1L2135.6 1652.2L2135.8 1657.2L2136 1662.1L2136.2 1666.7L2136.3 1670.9L2136.5 1674.7L2136.6 1677.9L2136.7 1680.5L2139.2 1680.4L2139.1 1677.8L2139 1674.6L2138.9 1670.8L2138.7 1666.6L2138.6 1662L2138.4 1657.1L2138.2 1652.1L2138.1 1647L2137.9 1641.9L2137.6 1637L2137.4 1632.4L2137.2 1628.1L2136.9 1624L2136.7 1620L2136.4 1616.1L2136.1 1612.2L2135.8 1608.4L2135.5 1604.6L2135.1 1600.8L2134.8 1597L2134.4 1593.3L2134.1 1589.5L2133.7 1585.7L2133.3 1581.9L2132.9 1578L2132.5 1574.1L2132 1570.1L2131.6 1566.2L2131.1 1562.2L2130.7 1558.2L2130.2 1554.3L2129.7 1550.4L2129.1 1546.6L2128.4 1542.8L2127.7 1539.2L2127 1535.6L2126.3 1532.2L2125.5 1528.8L2124.6 1525.5L2123.7 1522.3L2122.8 1519.1L2121.9 1516L2120.9 1512.9L2120 1510L2118.9 1507L2117.9 1504.2L2116.9 1501.4L2115.8 1498.7L2114.7 1495.9L2113.5 1493.2L2112.2 1490.4L2110.8 1487.7L2109.4 1485.1L2108 1482.5L2106.7 1480.1L2105.4 1477.8L2104.3 1475.8L2103.2 1473.9L2102.4 1472.3L2101.7 1471Z" fill="#6a6a6a"/>
<path d="M2083.7 1519.6L2084.6 1520.3L2085.8 1521.1L2087.1 1522.1L2088.6 1523.1L2090.2 1524.3L2092 1525.6L2093.7 1526.9L2095.5 1528.2L2097.3 1529.6L2099 1530.9L2100.6 1532.2L2102.1 1533.5L2103.4 1534.7L2104.8 1536L2106.2 1537.3L2107.6 1538.6L2108.9 1539.9L2110.2 1541.2L2111.5 1542.5L2112.7 1543.8L2113.9 1545.1L2115.1 1546.4L2116.2 1547.6L2117.2 1548.8L2118.2 1550L2119.2 1551L2120.1 1552L2121 1552.8L2121.7 1553.7L2122.5 1554.5L2123.2 1555.4L2123.8 1556.4L2124.4 1557.6L2125 1558.9L2125.6 1560.5L2126.2 1562.3L2126.7 1564.5L2127.2 1566.8L2127.6 1569.3L2128 1572L2128.4 1574.9L2128.8 1577.8L2129.1 1580.9L2129.4 1584.1L2129.7 1587.4L2130 1590.8L2130.3 1594.1L2130.7 1597.5L2131 1601L2131.3 1604.6L2131.6 1608.3L2131.8 1612.2L2132.1 1616.1L2132.4 1620.1L2132.6 1624.1L2132.8 1628L2133.1 1632L2133.3 1636L2133.5 1639.8L2133.7 1643.6L2133.9 1647.4L2134 1651.4L2134.2 1655.6L2134.3 1659.7L2134.5 1663.9L2134.6 1668L2134.7 1671.9L2134.8 1675.6L2134.9 1678.9L2135 1681.9L2135.1 1684.5L2135.2 1686.6L2137.7 1686.5L2137.6 1684.4L2137.5 1681.9L2137.4 1678.9L2137.3 1675.5L2137.2 1671.8L2137.1 1667.9L2136.9 1663.8L2136.8 1659.6L2136.6 1655.5L2136.4 1651.3L2136.3 1647.3L2136.1 1643.5L2135.9 1639.7L2135.7 1635.8L2135.4 1631.9L2135.2 1627.9L2135 1623.9L2134.7 1619.9L2134.4 1615.9L2134.2 1612L2133.9 1608.2L2133.6 1604.4L2133.3 1600.8L2132.9 1597.3L2132.6 1593.9L2132.3 1590.5L2132 1587.2L2131.7 1583.9L2131.3 1580.7L2131 1577.6L2130.6 1574.6L2130.2 1571.7L2129.8 1568.9L2129.3 1566.4L2128.8 1564L2128.2 1561.8L2127.6 1559.8L2126.9 1558.1L2126.3 1556.7L2125.6 1555.4L2124.8 1554.3L2124 1553.3L2123.2 1552.3L2122.4 1551.5L2121.5 1550.6L2120.6 1549.7L2119.7 1548.7L2118.7 1547.6L2117.6 1546.4L2116.5 1545.1L2115.3 1543.8L2114.1 1542.5L2112.8 1541.2L2111.5 1539.9L2110.1 1538.6L2108.8 1537.3L2107.4 1536L2106 1534.7L2104.6 1533.5L2103.1 1532.2L2101.6 1531L2100 1529.7L2098.3 1528.3L2096.5 1527L2094.7 1525.7L2092.9 1524.4L2091.1 1523.1L2089.5 1522L2088 1520.9L2086.6 1519.9L2085.5 1519.1L2084.6 1518.5Z" fill="#6a6a6a"/>
</g>
<circle cx="1918.1" cy="1510.3" r="326.5" fill="none" stroke="#6a6a6a" stroke-width="7.6"/>
<line x1="1694.4" y1="1560.5" x2="2125.7" y2="1560.5" stroke="#ec1c24" stroke-width="7.6" stroke-linecap="butt"/>
<line x1="1699.3" y1="1757.9" x2="2163.2" y2="1757.9" stroke="#ec1c24" stroke-width="7.6" stroke-linecap="butt"/>
<line x1="1699.3" y1="1702" x2="1699.3" y2="1760" stroke="#1a1a1a" stroke-width="1.9" stroke-linecap="butt"/>
<line x1="2163.2" y1="1657.4" x2="2163.2" y2="1760" stroke="#1a1a1a" stroke-width="1.9" stroke-linecap="butt"/>
<g transform="translate(1783 1536.3) rotate(0)" fill="#231f20" font-weight="700" font-size="66">
<text x="-1.9" y="0">8</text>
<text x="35.5" y="0">5</text>
<path d="M106.9 -27.7A15.5 16.1 0 1 0 106.9 -9.3M123 0V-34.5M123 -21.5A12.3 12.3 0 0 1 147.6 -21.5V0M147.6 -21.5A12.3 12.3 0 0 1 172.1 -21.5V0" fill="none" stroke="#231f20" stroke-width="4.8" stroke-linecap="butt"/>
</g>
<g transform="translate(1829 1743.4) rotate(0)" fill="#231f20" font-weight="700" font-size="66">
<text x="-1.9" y="0">9</text>
<text x="35.5" y="0">4</text>
<path d="M106.9 -27.7A15.5 16.1 0 1 0 106.9 -9.3M123 0V-34.5M123 -21.5A12.3 12.3 0 0 1 147.6 -21.5V0M147.6 -21.5A12.3 12.3 0 0 1 172.1 -21.5V0" fill="none" stroke="#231f20" stroke-width="4.8" stroke-linecap="butt"/>
</g>
<path d="M431.4 1492.4 L742.7 1492.4 A28 28 0 0 1 770.5 1520.5 L770.5 1693.8 L523.9 1686.3 L382.2 1724.1 L382.2 1564.5C384.2 1568.2 389.2 1579.4 394.6 1586.9C400 1594.3 407 1602.2 414.5 1609.2C421.9 1616.3 430.2 1623.3 439.3 1629.1C448.5 1634.9 458 1640.1 469.2 1644.1C480.4 1648 494.5 1650.9 506.5 1652.8C518.5 1654.6 535.5 1654.8 541.3 1655.2C536.3 1652.5 521 1645.5 511.5 1639.1C501.9 1632.7 492.4 1625 484.1 1616.7C475.8 1608.4 468.4 1599.3 461.7 1589.3C455.1 1579.4 448.9 1568.6 444.3 1557C439.8 1545.4 436.5 1530.5 434.4 1519.7C432.2 1509 431.9 1496.9 431.4 1492.4Z" fill="#676767"/>
<g fill="#fff">
<polygon points="522.6,1500.6 524,1504.2 527.8,1504.4 524.8,1506.8 525.9,1510.5 522.6,1508.4 519.4,1510.5 520.5,1506.8 517.4,1504.4 521.3,1504.2"/>
<polygon points="593.5,1497.8 594.1,1499.5 595.9,1499.6 594.5,1500.7 595,1502.3 593.5,1501.4 592,1502.3 592.5,1500.7 591.1,1499.6 592.9,1499.5"/>
<polygon points="473.4,1512.3 474.8,1515.9 478.6,1516 475.6,1518.4 476.6,1522.2 473.4,1520 470.2,1522.2 471.2,1518.4 468.2,1516 472.1,1515.9"/>
<polygon points="564.9,1514.3 565.5,1515.9 567.3,1516 565.9,1517.1 566.4,1518.8 564.9,1517.8 563.5,1518.8 563.9,1517.1 562.6,1516 564.3,1515.9"/>
<polygon points="614.6,1509.5 616.9,1515.4 623.2,1515.7 618.2,1519.6 619.9,1525.7 614.6,1522.2 609.4,1525.7 611.1,1519.6 606.1,1515.7 612.4,1515.4"/>
<polygon points="665.1,1506.8 665.7,1508.4 667.5,1508.5 666.1,1509.6 666.6,1511.3 665.1,1510.3 663.7,1511.3 664.1,1509.6 662.8,1508.5 664.5,1508.4"/>
<polygon points="702.2,1504.3 703.5,1507.9 707.4,1508.1 704.4,1510.5 705.4,1514.2 702.2,1512.1 699,1514.2 700,1510.5 697,1508.1 700.8,1507.9"/>
<polygon points="716.1,1518.7 716.6,1520.2 718.2,1520.3 717,1521.3 717.4,1522.8 716.1,1521.9 714.8,1522.8 715.2,1521.3 714,1520.3 715.5,1520.2"/>
<polygon points="741.5,1514.5 743.7,1520.4 750,1520.7 745,1524.6 746.7,1530.7 741.5,1527.2 736.2,1530.7 737.9,1524.6 732.9,1520.7 739.2,1520.4"/>
<polygon points="537.1,1524.5 538.4,1527.9 542,1528.1 539.2,1530.4 540.1,1533.9 537.1,1531.9 534,1533.9 535,1530.4 532.1,1528.1 535.8,1527.9"/>
<polygon points="654.9,1521.5 656.2,1524.9 659.9,1525.1 657,1527.4 658,1530.9 654.9,1528.9 651.9,1530.9 652.8,1527.4 650,1525.1 653.6,1524.9"/>
<polygon points="692.5,1524.5 693.8,1527.9 697.4,1528.1 694.6,1530.4 695.5,1533.9 692.5,1531.9 689.4,1533.9 690.4,1530.4 687.5,1528.1 691.2,1527.9"/>
<polygon points="634,1531.2 634.7,1532.8 636.4,1532.9 635,1534 635.5,1535.7 634,1534.7 632.6,1535.7 633,1534 631.7,1532.9 633.4,1532.8"/>
<polygon points="647.7,1531.2 648.3,1532.8 650.1,1532.9 648.7,1534 649.2,1535.7 647.7,1534.7 646.3,1535.7 646.7,1534 645.3,1532.9 647.1,1532.8"/>
<polygon points="503.3,1531.4 505.5,1537.3 511.8,1537.6 506.8,1541.5 508.5,1547.6 503.3,1544.1 498,1547.6 499.7,1541.5 494.7,1537.6 501,1537.3"/>
<polygon points="584.8,1533.9 586.1,1537.3 589.8,1537.5 586.9,1539.8 587.9,1543.3 584.8,1541.3 581.7,1543.3 582.7,1539.8 579.8,1537.5 583.5,1537.3"/>
<polygon points="573.1,1539.4 573.7,1540.8 575.2,1540.9 574,1541.9 574.4,1543.4 573.1,1542.5 571.8,1543.4 572.2,1541.9 571,1540.9 572.6,1540.8"/>
<polygon points="542.5,1542.4 543.8,1545.8 547.5,1546 544.6,1548.3 545.6,1551.8 542.5,1549.8 539.5,1551.8 540.5,1548.3 537.6,1546 541.2,1545.8"/>
<polygon points="668.6,1541.9 669.2,1543.3 670.7,1543.4 669.5,1544.4 669.9,1545.9 668.6,1545 667.3,1545.9 667.7,1544.4 666.5,1543.4 668,1543.3"/>
<polygon points="468.4,1549.1 469.1,1550.7 470.8,1550.8 469.4,1551.9 469.9,1553.6 468.4,1552.6 467,1553.6 467.4,1551.9 466.1,1550.8 467.8,1550.7"/>
<polygon points="612.2,1548.1 613.4,1551.5 617.1,1551.7 614.2,1554 615.2,1557.5 612.2,1555.5 609.1,1557.5 610.1,1554 607.2,1551.7 610.9,1551.5"/>
<polygon points="749.4,1552.1 750,1553.7 751.8,1553.8 750.4,1554.9 750.9,1556.6 749.4,1555.6 747.9,1556.6 748.4,1554.9 747,1553.8 748.8,1553.7"/>
<polygon points="646.5,1551.8 648.7,1557.7 655,1558 650,1561.9 651.7,1568 646.5,1564.5 641.2,1568 642.9,1561.9 638,1558 644.3,1557.7"/>
<polygon points="722.1,1553.8 723.3,1557.2 727,1557.4 724.1,1559.7 725.1,1563.2 722.1,1561.2 719,1563.2 720,1559.7 717.1,1557.4 720.8,1557.2"/>
<polygon points="581.8,1560.3 582.4,1561.9 584.2,1562 582.8,1563.1 583.3,1564.8 581.8,1563.8 580.4,1564.8 580.8,1563.1 579.5,1562 581.2,1561.9"/>
<polygon points="502.3,1566.7 503.5,1570.2 507.2,1570.3 504.3,1572.6 505.3,1576.2 502.3,1574.1 499.2,1576.2 500.2,1572.6 497.3,1570.3 501,1570.2"/>
<polygon points="551.2,1567.5 552.5,1570.9 556.2,1571.1 553.3,1573.4 554.3,1576.9 551.2,1574.9 548.2,1576.9 549.2,1573.4 546.3,1571.1 550,1570.9"/>
<polygon points="564.2,1567.5 565.5,1570.9 569.1,1571.1 566.3,1573.4 567.2,1576.9 564.2,1574.9 561.1,1576.9 562.1,1573.4 559.2,1571.1 562.9,1570.9"/>
<polygon points="681.3,1566 682.6,1569.4 686.2,1569.6 683.4,1571.9 684.4,1575.4 681.3,1573.4 678.2,1575.4 679.2,1571.9 676.3,1569.6 680,1569.4"/>
<polygon points="481.6,1582.9 482.9,1586.3 486.6,1586.5 483.7,1588.8 484.7,1592.3 481.6,1590.3 478.6,1592.3 479.5,1588.8 476.7,1586.5 480.3,1586.3"/>
<polygon points="594.5,1581.6 595.8,1585.1 599.5,1585.2 596.6,1587.5 597.6,1591.1 594.5,1589.1 591.4,1591.1 592.4,1587.5 589.5,1585.2 593.2,1585.1"/>
<polygon points="628.8,1579.9 630.1,1583.3 633.8,1583.5 630.9,1585.8 631.9,1589.3 628.8,1587.3 625.7,1589.3 626.7,1585.8 623.9,1583.5 627.5,1583.3"/>
<polygon points="620.1,1585.9 620.7,1587.3 622.2,1587.4 621,1588.4 621.4,1589.9 620.1,1589 618.8,1589.9 619.2,1588.4 618,1587.4 619.6,1587.3"/>
<polygon points="691.5,1583.9 692,1585.4 693.6,1585.4 692.4,1586.4 692.8,1587.9 691.5,1587.1 690.2,1587.9 690.6,1586.4 689.3,1585.4 690.9,1585.4"/>
<polygon points="733.5,1584.6 734.8,1588.1 738.5,1588.2 735.6,1590.5 736.6,1594.1 733.5,1592 730.4,1594.1 731.4,1590.5 728.5,1588.2 732.2,1588.1"/>
<polygon points="524.4,1589.1 525.7,1592.5 529.4,1592.7 526.5,1595 527.5,1598.5 524.4,1596.5 521.3,1598.5 522.3,1595 519.4,1592.7 523.1,1592.5"/>
<polygon points="492.1,1598.5 493.4,1602 497,1602.2 494.1,1604.4 495.1,1608 492.1,1606 489,1608 490,1604.4 487.1,1602.2 490.8,1602"/>
<polygon points="660.4,1598.8 660.9,1600.3 662.5,1600.3 661.3,1601.3 661.7,1602.8 660.4,1602 659.1,1602.8 659.5,1601.3 658.3,1600.3 659.8,1600.3"/>
<polygon points="564.2,1601 566.4,1606.9 572.7,1607.2 567.7,1611.1 569.4,1617.2 564.2,1613.7 558.9,1617.2 560.6,1611.1 555.7,1607.2 562,1606.9"/>
<polygon points="647.7,1599.8 649.9,1605.7 656.2,1606 651.3,1609.9 653,1616 647.7,1612.5 642.5,1616 644.1,1609.9 639.2,1606 645.5,1605.7"/>
<polygon points="399.6,1606.8 400.2,1608.4 401.9,1608.5 400.6,1609.6 401,1611.3 399.6,1610.3 398.1,1611.3 398.6,1609.6 397.2,1608.5 399,1608.4"/>
<polygon points="602.5,1612 603.7,1615.4 607.4,1615.6 604.5,1617.9 605.5,1621.4 602.5,1619.4 599.4,1621.4 600.4,1617.9 597.5,1615.6 601.2,1615.4"/>
<polygon points="622.4,1610.7 622.9,1612.2 624.5,1612.3 623.2,1613.3 623.7,1614.8 622.4,1613.9 621,1614.8 621.5,1613.3 620.2,1612.3 621.8,1612.2"/>
<polygon points="692.5,1611.5 693.8,1614.9 697.4,1615.1 694.6,1617.4 695.5,1620.9 692.5,1618.9 689.4,1620.9 690.4,1617.4 687.5,1615.1 691.2,1614.9"/>
<polygon points="525.9,1616 526.4,1617.4 528,1617.5 526.8,1618.5 527.2,1620 525.9,1619.1 524.6,1620 525,1618.5 523.7,1617.5 525.3,1617.4"/>
<polygon points="748.4,1618.2 749,1619.7 750.5,1619.7 749.3,1620.7 749.7,1622.2 748.4,1621.4 747.1,1622.2 747.5,1620.7 746.3,1619.7 747.9,1619.7"/>
<polygon points="718.3,1615.7 720.5,1621.6 726.8,1621.9 721.9,1625.8 723.6,1631.9 718.3,1628.4 713.1,1631.9 714.8,1625.8 709.8,1621.9 716.1,1621.6"/>
<polygon points="417,1620.2 418.3,1623.6 421.9,1623.8 419.1,1626.1 420,1629.6 417,1627.6 413.9,1629.6 414.9,1626.1 412,1623.8 415.7,1623.6"/>
<polygon points="571.1,1626.1 571.7,1627.6 573.3,1627.7 572,1628.7 572.4,1630.2 571.1,1629.3 569.8,1630.2 570.2,1628.7 569,1627.7 570.6,1627.6"/>
<polygon points="535.3,1629.4 535.9,1630.9 537.5,1630.9 536.2,1631.9 536.6,1633.4 535.3,1632.6 534,1633.4 534.4,1631.9 533.2,1630.9 534.8,1630.9"/>
<polygon points="399.6,1633.1 400.9,1636.6 404.5,1636.7 401.7,1639 402.6,1642.6 399.6,1640.5 396.5,1642.6 397.5,1639 394.6,1636.7 398.3,1636.6"/>
<polygon points="442.6,1646.8 443.1,1648.3 444.7,1648.3 443.5,1649.3 443.9,1650.8 442.6,1650 441.3,1650.8 441.7,1649.3 440.5,1648.3 442,1648.3"/>
<polygon points="447.8,1650.5 448.4,1652 449.9,1652.1 448.7,1653 449.1,1654.6 447.8,1653.7 446.5,1654.6 446.9,1653 445.7,1652.1 447.3,1652"/>
<polygon points="472.4,1647.5 473.7,1651 477.4,1651.1 474.5,1653.4 475.5,1657 472.4,1654.9 469.4,1657 470.3,1653.4 467.5,1651.1 471.1,1651"/>
<polygon points="417,1650 419.2,1655.9 425.5,1656.2 420.5,1660.1 422.2,1666.2 417,1662.7 411.7,1666.2 413.4,1660.1 408.5,1656.2 414.8,1655.9"/>
<polygon points="499.5,1669.2 500.1,1670.6 501.6,1670.7 500.4,1671.7 500.8,1673.2 499.5,1672.3 498.2,1673.2 498.6,1671.7 497.4,1670.7 499,1670.6"/>
<polygon points="456.3,1672.9 457.5,1676.3 461.2,1676.5 458.3,1678.8 459.3,1682.3 456.3,1680.3 453.2,1682.3 454.2,1678.8 451.3,1676.5 455,1676.3"/>
<polygon points="425.4,1688.3 426,1689.8 427.6,1689.9 426.3,1690.8 426.7,1692.4 425.4,1691.5 424.1,1692.4 424.5,1690.8 423.3,1689.9 424.9,1689.8"/>
</g>
<polygon points="334.9,1739.8 523.9,1682.6 835.9,1692.5 835.9,1701.2 604.7,1788.3" fill="#fff" />
<polygon points="341.9,1743.5 341.9,1783.8 605.9,1843.5 832.7,1739 832.7,1697.5 605.9,1790.8" fill="#676767" />
<polygon points="344.1,1743 344.1,1778.3 603.5,1834 603.5,1788.3" fill="#f6f7f9" />
<polygon points="605.9,1788.8 605.9,1834 830.2,1730.6 830.2,1699.3" fill="#f6f7f9" />
<path d="M342.4 1741 L523.9 1687.6 L832.7 1695.8 L604.7 1786.3 Q469.2 1752.2 342.4 1741Z" fill="#ec1c24"/>
<ellipse cx="604.7" cy="1811.1" rx="3.2" ry="24" fill="#676767"/>
<path d="M521.4 1677.6C521 1674.6 526.4 1670 531.3 1666.4C536.3 1662.9 545 1659.8 551.2 1656.5C557.5 1653.2 561.6 1649.4 568.6 1646.5C575.7 1643.6 587.7 1641.4 593.5 1639.1C599.3 1636.8 599.3 1633.5 603.5 1632.9C607.6 1632.2 609.7 1634.3 618.4 1635.3C627.1 1636.4 645.3 1637.2 655.7 1639.1C666 1640.9 673.1 1643.8 680.5 1646.5C688 1649.2 695 1651.9 700.4 1655.2C705.8 1658.6 714.1 1660.8 712.9 1666.4C711.6 1672 703.7 1682.6 693 1688.8C682.2 1695 656.9 1699.9 648.2 1703.7C639.5 1707.5 643.7 1710.2 640.8 1711.7C637.9 1713.1 634.1 1714.1 630.8 1712.4C627.5 1710.8 627.1 1704 620.9 1701.7C614.6 1699.5 604.3 1700.6 593.5 1698.8C582.7 1696.9 566.2 1693.2 556.2 1690.8C546.3 1688.4 539.6 1686.5 533.8 1684.3C528 1682.1 521.8 1680.6 521.4 1677.6" fill="#fff" stroke="#fff" stroke-width="4" stroke-linejoin="round"/>
<path d="M645.7 1695C645.3 1690.8 647 1681.1 650.7 1676.4C654.4 1671.6 661.1 1669.3 668.1 1666.4C675.1 1663.5 686.3 1660.8 693 1659C699.6 1657.1 701.7 1656.3 707.9 1655.2C714.1 1654.2 720.3 1652.1 730.3 1652.8C740.2 1653.4 757.2 1656.7 767.6 1659C777.9 1661.2 784.1 1663.5 792.4 1666.4C800.7 1669.3 810.6 1674 817.3 1676.4C824 1678.8 830 1679.1 832.7 1680.9C835.4 1682.6 836 1684.2 833.5 1686.8C830.9 1689.5 824.1 1693 817.3 1696.8C810.5 1700.5 800.7 1705.5 792.4 1709.2C784.1 1712.9 772.5 1716.2 767.6 1719.1C762.6 1722 765.1 1725.4 762.6 1726.6C760.1 1727.8 756 1727.8 752.6 1726.6C749.3 1725.4 748.5 1720.8 742.7 1719.1C736.9 1717.5 728.2 1718.3 717.8 1716.7C707.5 1715 691.3 1711.7 680.5 1709.2C669.8 1706.7 659 1704.1 653.2 1701.7C647.4 1699.4 646.1 1699.3 645.7 1695" fill="#fff" stroke="#fff" stroke-width="4" stroke-linejoin="round"/>
<path d="M531.3 1685.8C535.5 1686.9 545.9 1690.2 556.2 1692.5C566.6 1694.9 582.9 1698.3 593.5 1700C604.1 1701.7 613.4 1700.4 619.6 1702.5C625.8 1704.6 627.5 1710.9 630.8 1712.4C634.1 1714 638.1 1711.8 639.5 1711.7" fill="none" stroke="#6a6a6a" stroke-width="1.3" stroke-linecap="round" stroke-linejoin="round" />
<path d="M653.2 1703.2C657.7 1704.5 669.8 1708.2 680.5 1710.7C691.3 1713.2 707.5 1716.5 717.8 1718.1C728.2 1719.8 736.7 1719.1 742.7 1720.6C748.7 1722.2 750.6 1726.4 753.9 1727.3C757.2 1728.3 761.1 1726.3 762.6 1726.1" fill="none" stroke="#6a6a6a" stroke-width="1.3" stroke-linecap="round" stroke-linejoin="round" />
<path d="M642.2 1684.3C643.9 1681.6 646.8 1672 651.9 1667.7C657.1 1663.4 666.9 1659.5 673.1 1658.5C679.3 1657.4 686.3 1661 689 1661.5C686.5 1662.7 679.7 1666 674.3 1668.9C669 1671.8 662.3 1676.3 656.9 1678.9C651.6 1681.4 644.7 1683.4 642.2 1684.3Z" fill="#676767"/>
<path d="M763.1 1702.7C764.7 1700 767.7 1690.4 772.5 1686.3C777.3 1682.3 785.8 1679.2 791.9 1678.4C798.1 1677.5 806.6 1680.9 809.6 1681.3C806.9 1682.5 799.1 1685.7 793.7 1688.3C788.2 1690.9 782.1 1694.4 777 1696.8C771.9 1699.2 765.4 1701.7 763.1 1702.7Z" fill="#676767"/>
<polyline points="335.4,1800.7 605.9,1866.6 843.4,1750.5" fill="none" stroke="#ec1c24" stroke-width="5.5" stroke-linejoin="miter"/>
<polyline points="371,1792.5 335.4,1800.7 351.1,1825.1" fill="none" stroke="#ec1c24" stroke-width="4.5" stroke-linecap="round" stroke-linejoin="miter"/>
<polyline points="814.8,1749.7 843.4,1750.5 833.5,1779.6" fill="none" stroke="#ec1c24" stroke-width="4.5" stroke-linecap="round" stroke-linejoin="miter"/>
<g font-weight="700" font-size="78.7" fill="#6b6b6b">
<text x="865.5" y="1706.8" textLength="124.4" lengthAdjust="spacingAndGlyphs">300</text>
<text x="1010" y="1706.8" textLength="42.6" lengthAdjust="spacingAndGlyphs">x</text>
<text x="1113.8" y="1706.8" textLength="83.4" lengthAdjust="spacingAndGlyphs">40</text>
<polygon points="1090,1653.4 1100.1,1653.4 1100.1,1706.6 1090,1706.6 1090,1663.3 1079.2,1663.3 1079.3,1661.3"/>
</g>
</svg>
</body></html>
